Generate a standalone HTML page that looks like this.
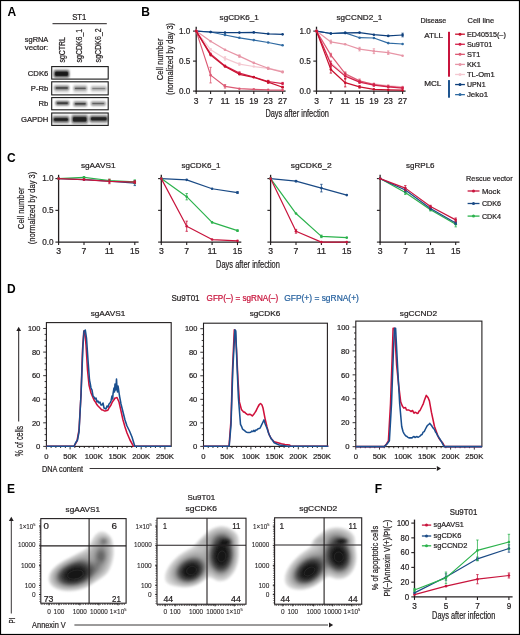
<!DOCTYPE html><html><head><meta charset="utf-8"><style>html,body{margin:0;padding:0;background:#fff;}svg{display:block;will-change:transform;}</style></head><body>
<svg width="520" height="635" viewBox="0 0 520 635" font-family='"Liberation Sans", sans-serif'>
<defs><filter id="bl1" x="-20%" y="-100%" width="140%" height="300%"><feGaussianBlur stdDeviation="0.85"/></filter><filter id="bl6" x="-30%" y="-100%" width="160%" height="300%"><feGaussianBlur stdDeviation="1.2"/></filter><filter id="bl2" x="-50%" y="-50%" width="200%" height="200%"><feGaussianBlur stdDeviation="1.6"/></filter><filter id="bl3" x="-20%" y="-20%" width="140%" height="140%"><feGaussianBlur stdDeviation="1.5"/></filter><filter id="bl4" x="-50%" y="-50%" width="200%" height="200%"><feGaussianBlur stdDeviation="2.5"/></filter><filter id="bl5" x="-10%" y="-10%" width="120%" height="120%"><feGaussianBlur stdDeviation="0.9"/></filter></defs>
<rect x="0" y="0" width="520" height="635" fill="#fff"/>
<text x="7.5" y="15.6" font-size="12" text-anchor="start" fill="#000" font-weight="bold">A</text>
<text x="141.3" y="15.6" font-size="12" text-anchor="start" fill="#000" font-weight="bold">B</text>
<text x="7.1" y="161.6" font-size="12" text-anchor="start" fill="#000" font-weight="bold">C</text>
<text x="7.0" y="293.0" font-size="12" text-anchor="start" fill="#000" font-weight="bold">D</text>
<text x="7.0" y="493.2" font-size="12" text-anchor="start" fill="#000" font-weight="bold">E</text>
<text x="374.8" y="493.0" font-size="12" text-anchor="start" fill="#000" font-weight="bold">F</text>
<text x="79.3" y="20.2" font-size="8.3" text-anchor="middle" fill="#231f20" stroke="#231f20" stroke-width="0.22" textLength="14.2" lengthAdjust="spacingAndGlyphs">ST1</text>
<line x1="52.5" y1="23.7" x2="106.8" y2="23.7" stroke="#231f20" stroke-width="1"/>
<text x="48.3" y="41.6" font-size="7.4" text-anchor="end" fill="#231f20" stroke="#231f20" stroke-width="0.22" textLength="23.5" lengthAdjust="spacingAndGlyphs">sgRNA</text>
<text x="48.3" y="50.2" font-size="7.4" text-anchor="end" fill="#231f20" stroke="#231f20" stroke-width="0.22" textLength="23.5" lengthAdjust="spacingAndGlyphs">vector:</text>
<text x="64.9" y="62.4" font-size="8.2" text-anchor="start" fill="#231f20" stroke="#231f20" stroke-width="0.22" textLength="25.2" lengthAdjust="spacingAndGlyphs" transform="rotate(-90 64.9 62.4)">sgCTRL</text>
<text x="82.4" y="62.4" font-size="8.2" text-anchor="start" fill="#231f20" stroke="#231f20" stroke-width="0.22" textLength="33.6" lengthAdjust="spacingAndGlyphs" transform="rotate(-90 82.4 62.4)">sgCDK6_1</text>
<text x="101.4" y="62.4" font-size="8.2" text-anchor="start" fill="#231f20" stroke="#231f20" stroke-width="0.22" textLength="34.2" lengthAdjust="spacingAndGlyphs" transform="rotate(-90 101.4 62.4)">sgCDK6_2</text>
<text x="48.3" y="75.55" font-size="7.7" text-anchor="end" fill="#231f20" stroke="#231f20" stroke-width="0.22">CDK6</text>
<text x="48.3" y="91.05" font-size="7.7" text-anchor="end" fill="#231f20" stroke="#231f20" stroke-width="0.22">P-Rb</text>
<text x="48.3" y="106.39999999999999" font-size="7.7" text-anchor="end" fill="#231f20" stroke="#231f20" stroke-width="0.22">Rb</text>
<text x="48.3" y="121.9" font-size="7.7" text-anchor="end" fill="#231f20" stroke="#231f20" stroke-width="0.22">GAPDH</text>
<rect x="54" y="84.5" width="15" height="8.0" fill="#000" opacity="0.16" filter="url(#bl6)"/>
<rect x="73.5" y="84.5" width="13.5" height="8.5" fill="#000" opacity="0.14" filter="url(#bl6)"/>
<rect x="91" y="85" width="15.5" height="7.5" fill="#000" opacity="0.11" filter="url(#bl6)"/>
<rect x="55" y="100.5" width="14.5" height="6.0" fill="#000" opacity="0.12" filter="url(#bl6)"/>
<rect x="73.5" y="100.5" width="13.5" height="6.5" fill="#000" opacity="0.14" filter="url(#bl6)"/>
<rect x="91" y="100.5" width="15" height="6.0" fill="#000" opacity="0.11" filter="url(#bl6)"/>
<rect x="52.5" y="115" width="17.0" height="9" fill="#000" opacity="0.2" filter="url(#bl6)"/>
<rect x="71.5" y="114" width="16.5" height="10.5" fill="#000" opacity="0.22" filter="url(#bl6)"/>
<rect x="89.5" y="114.5" width="18.5" height="9.0" fill="#000" opacity="0.2" filter="url(#bl6)"/>
<rect x="53.5" y="69" width="16.0" height="9.5" fill="#000" opacity="0.2" filter="url(#bl6)"/>
<rect x="54" y="70.69999999999999" width="15" height="6.2" rx="1.5" fill="#111" opacity="0.8" filter="url(#bl1)"/>
<rect x="55.2" y="71.8" width="12.6" height="4.0" rx="1.2" fill="#111" opacity="0.75"/>
<rect x="54.6" y="86.44999999999999" width="14.399999999999999" height="3.0999999999999996" rx="1.15" fill="#111" opacity="0.68" filter="url(#bl1)"/>
<rect x="55.800000000000004" y="87.55" width="11.999999999999998" height="0.9" rx="0.45" fill="#111" opacity="0.6375"/>
<rect x="73.7" y="86.7" width="13.200000000000003" height="3.4000000000000004" rx="1.3" fill="#111" opacity="0.44000000000000006" filter="url(#bl1)"/>
<rect x="74.9" y="87.80000000000001" width="10.800000000000002" height="1.2000000000000002" rx="0.6000000000000001" fill="#111" opacity="0.41250000000000003"/>
<rect x="91" y="87.19999999999999" width="15.5" height="2.8" rx="1.0" fill="#111" opacity="0.36000000000000004" filter="url(#bl1)"/>
<rect x="92.2" y="88.14999999999999" width="13.1" height="0.9" rx="0.45" fill="#111" opacity="0.3375"/>
<rect x="55.8" y="101.54999999999998" width="13.200000000000003" height="3.0999999999999996" rx="1.15" fill="#111" opacity="0.8" filter="url(#bl1)"/>
<rect x="57.0" y="102.64999999999999" width="10.800000000000002" height="0.9" rx="0.45" fill="#111" opacity="0.75"/>
<rect x="73.7" y="101.89999999999999" width="13.200000000000003" height="3.8" rx="1.5" fill="#111" opacity="0.544" filter="url(#bl1)"/>
<rect x="74.9" y="103.0" width="10.800000000000002" height="1.6" rx="0.8" fill="#111" opacity="0.51"/>
<rect x="91" y="102.04999999999998" width="14.400000000000006" height="3.0999999999999996" rx="1.15" fill="#111" opacity="0.48" filter="url(#bl1)"/>
<rect x="92.2" y="103.14999999999999" width="12.000000000000005" height="0.9" rx="0.45" fill="#111" opacity="0.44999999999999996"/>
<rect x="52.9" y="117.1" width="16.1" height="4.8" rx="1.5" fill="#111" opacity="0.7360000000000001" filter="url(#bl1)"/>
<rect x="54.1" y="118.2" width="13.700000000000001" height="2.6" rx="1.2" fill="#111" opacity="0.6900000000000001"/>
<rect x="71.9" y="116.1" width="15.599999999999994" height="6.3999999999999995" rx="1.5" fill="#111" opacity="0.7360000000000001" filter="url(#bl1)"/>
<rect x="73.10000000000001" y="117.2" width="13.199999999999994" height="4.199999999999999" rx="1.2" fill="#111" opacity="0.6900000000000001"/>
<rect x="89.8" y="116.19999999999999" width="17.900000000000006" height="5.2" rx="1.5" fill="#111" opacity="0.7040000000000001" filter="url(#bl1)"/>
<rect x="91.0" y="117.3" width="15.500000000000005" height="3.0000000000000004" rx="1.2" fill="#111" opacity="0.66"/>
<rect x="51.7" y="66.6" width="56.5" height="12.5" fill="none" stroke="#1a1a1a" stroke-width="1.1"/>
<rect x="51.7" y="81.8" width="56.5" height="13.100000000000009" fill="none" stroke="#1a1a1a" stroke-width="1.1"/>
<rect x="51.7" y="97.6" width="56.5" height="12.200000000000003" fill="none" stroke="#1a1a1a" stroke-width="1.1"/>
<rect x="51.7" y="113.0" width="56.5" height="12.400000000000006" fill="none" stroke="#1a1a1a" stroke-width="1.1"/>
<text x="239.25" y="20.3" font-size="8" text-anchor="middle" fill="#231f20" stroke="#231f20" stroke-width="0.22" textLength="39.3" lengthAdjust="spacingAndGlyphs">sgCDK6_1</text>
<line x1="196.2" y1="26.7" x2="196.2" y2="91.69999999999999" stroke="#231f20" stroke-width="1.3"/>
<line x1="195.6" y1="91.1" x2="285.6" y2="91.1" stroke="#231f20" stroke-width="1.3"/>
<line x1="193.0" y1="31.1" x2="196.2" y2="31.1" stroke="#231f20" stroke-width="1.1"/>
<text x="184.75" y="33.800000000000004" font-size="8.4" text-anchor="middle" fill="#231f20" stroke="#231f20" stroke-width="0.22" textLength="11.3" lengthAdjust="spacingAndGlyphs">1.0</text>
<line x1="193.0" y1="61.099999999999994" x2="196.2" y2="61.099999999999994" stroke="#231f20" stroke-width="1.1"/>
<text x="184.75" y="63.8" font-size="8.4" text-anchor="middle" fill="#231f20" stroke="#231f20" stroke-width="0.22" textLength="11.3" lengthAdjust="spacingAndGlyphs">0.5</text>
<line x1="193.0" y1="91.1" x2="196.2" y2="91.1" stroke="#231f20" stroke-width="1.1"/>
<text x="184.75" y="93.8" font-size="8.4" text-anchor="middle" fill="#231f20" stroke="#231f20" stroke-width="0.22" textLength="11.3" lengthAdjust="spacingAndGlyphs">0.0</text>
<line x1="196.2" y1="91.1" x2="196.2" y2="94.1" stroke="#231f20" stroke-width="1.1"/>
<text x="196.2" y="103.8" font-size="8.5" text-anchor="middle" fill="#231f20" stroke="#231f20" stroke-width="0.22">3</text>
<line x1="210.6" y1="91.1" x2="210.6" y2="94.1" stroke="#231f20" stroke-width="1.1"/>
<text x="210.6" y="103.8" font-size="8.5" text-anchor="middle" fill="#231f20" stroke="#231f20" stroke-width="0.22">7</text>
<line x1="225.0" y1="91.1" x2="225.0" y2="94.1" stroke="#231f20" stroke-width="1.1"/>
<text x="225.0" y="103.8" font-size="8.5" text-anchor="middle" fill="#231f20" stroke="#231f20" stroke-width="0.22" textLength="9.2" lengthAdjust="spacingAndGlyphs">11</text>
<line x1="239.39999999999998" y1="91.1" x2="239.39999999999998" y2="94.1" stroke="#231f20" stroke-width="1.1"/>
<text x="239.39999999999998" y="103.8" font-size="8.5" text-anchor="middle" fill="#231f20" stroke="#231f20" stroke-width="0.22" textLength="9.2" lengthAdjust="spacingAndGlyphs">15</text>
<line x1="253.79999999999998" y1="91.1" x2="253.79999999999998" y2="94.1" stroke="#231f20" stroke-width="1.1"/>
<text x="253.79999999999998" y="103.8" font-size="8.5" text-anchor="middle" fill="#231f20" stroke="#231f20" stroke-width="0.22" textLength="9.2" lengthAdjust="spacingAndGlyphs">19</text>
<line x1="268.2" y1="91.1" x2="268.2" y2="94.1" stroke="#231f20" stroke-width="1.1"/>
<text x="268.2" y="103.8" font-size="8.5" text-anchor="middle" fill="#231f20" stroke="#231f20" stroke-width="0.22" textLength="9.2" lengthAdjust="spacingAndGlyphs">23</text>
<line x1="282.6" y1="91.1" x2="282.6" y2="94.1" stroke="#231f20" stroke-width="1.1"/>
<text x="282.6" y="103.8" font-size="8.5" text-anchor="middle" fill="#231f20" stroke="#231f20" stroke-width="0.22" textLength="9.2" lengthAdjust="spacingAndGlyphs">27</text>
<polyline points="196.20,31.10 210.60,32.00 225.00,35.00 239.40,37.82 253.80,40.10 268.20,42.50 282.60,45.32" fill="none" stroke="#2f6aa2" stroke-width="1.2" stroke-linejoin="round"/>
<circle cx="196.20" cy="31.10" r="1.3" fill="#2f6aa2"/>
<circle cx="210.60" cy="32.00" r="1.3" fill="#2f6aa2"/>
<circle cx="225.00" cy="35.00" r="1.3" fill="#2f6aa2"/>
<circle cx="239.40" cy="37.82" r="1.3" fill="#2f6aa2"/>
<circle cx="253.80" cy="40.10" r="1.3" fill="#2f6aa2"/>
<circle cx="268.20" cy="42.50" r="1.3" fill="#2f6aa2"/>
<circle cx="282.60" cy="45.32" r="1.3" fill="#2f6aa2"/>
<polyline points="196.20,31.10 210.60,32.00 225.00,32.60 239.40,32.60 253.80,32.42 268.20,33.80 282.60,34.34" fill="none" stroke="#0e3f7c" stroke-width="1.2" stroke-linejoin="round"/>
<circle cx="196.20" cy="31.10" r="1.3" fill="#0e3f7c"/>
<circle cx="210.60" cy="32.00" r="1.3" fill="#0e3f7c"/>
<circle cx="225.00" cy="32.60" r="1.3" fill="#0e3f7c"/>
<circle cx="239.40" cy="32.60" r="1.3" fill="#0e3f7c"/>
<circle cx="253.80" cy="32.42" r="1.3" fill="#0e3f7c"/>
<circle cx="268.20" cy="33.80" r="1.3" fill="#0e3f7c"/>
<circle cx="282.60" cy="34.34" r="1.3" fill="#0e3f7c"/>
<line x1="210.6" y1="48.5" x2="210.6" y2="50.900000000000006" stroke="#f4c8d1" stroke-width="0.8"/>
<line x1="209.4" y1="48.5" x2="211.79999999999998" y2="48.5" stroke="#f4c8d1" stroke-width="0.8"/>
<line x1="209.4" y1="50.900000000000006" x2="211.79999999999998" y2="50.900000000000006" stroke="#f4c8d1" stroke-width="0.8"/>
<line x1="225.0" y1="56.6" x2="225.0" y2="60.199999999999996" stroke="#f4c8d1" stroke-width="0.8"/>
<line x1="223.8" y1="56.6" x2="226.2" y2="56.6" stroke="#f4c8d1" stroke-width="0.8"/>
<line x1="223.8" y1="60.199999999999996" x2="226.2" y2="60.199999999999996" stroke="#f4c8d1" stroke-width="0.8"/>
<line x1="239.39999999999998" y1="62.89999999999999" x2="239.39999999999998" y2="65.3" stroke="#f4c8d1" stroke-width="0.8"/>
<line x1="238.2" y1="62.89999999999999" x2="240.59999999999997" y2="62.89999999999999" stroke="#f4c8d1" stroke-width="0.8"/>
<line x1="238.2" y1="65.3" x2="240.59999999999997" y2="65.3" stroke="#f4c8d1" stroke-width="0.8"/>
<line x1="268.2" y1="67.7" x2="268.2" y2="68.89999999999999" stroke="#f4c8d1" stroke-width="0.8"/>
<line x1="267.0" y1="67.7" x2="269.4" y2="67.7" stroke="#f4c8d1" stroke-width="0.8"/>
<line x1="267.0" y1="68.89999999999999" x2="269.4" y2="68.89999999999999" stroke="#f4c8d1" stroke-width="0.8"/>
<polyline points="196.20,31.10 210.60,49.70 225.00,58.40 239.40,64.10 253.80,66.50 268.20,68.30 282.60,71.30" fill="none" stroke="#f4c8d1" stroke-width="1.2" stroke-linejoin="round"/>
<circle cx="196.20" cy="31.10" r="1.3" fill="#f4c8d1"/>
<circle cx="210.60" cy="49.70" r="1.3" fill="#f4c8d1"/>
<circle cx="225.00" cy="58.40" r="1.3" fill="#f4c8d1"/>
<circle cx="239.40" cy="64.10" r="1.3" fill="#f4c8d1"/>
<circle cx="253.80" cy="66.50" r="1.3" fill="#f4c8d1"/>
<circle cx="268.20" cy="68.30" r="1.3" fill="#f4c8d1"/>
<circle cx="282.60" cy="71.30" r="1.3" fill="#f4c8d1"/>
<line x1="239.39999999999998" y1="54.919999999999995" x2="239.39999999999998" y2="57.32" stroke="#e795a6" stroke-width="0.8"/>
<line x1="238.2" y1="54.919999999999995" x2="240.59999999999997" y2="54.919999999999995" stroke="#e795a6" stroke-width="0.8"/>
<line x1="238.2" y1="57.32" x2="240.59999999999997" y2="57.32" stroke="#e795a6" stroke-width="0.8"/>
<line x1="268.2" y1="67.1" x2="268.2" y2="69.5" stroke="#e795a6" stroke-width="0.8"/>
<line x1="267.0" y1="67.1" x2="269.4" y2="67.1" stroke="#e795a6" stroke-width="0.8"/>
<line x1="267.0" y1="69.5" x2="269.4" y2="69.5" stroke="#e795a6" stroke-width="0.8"/>
<line x1="282.6" y1="71.48" x2="282.6" y2="72.67999999999999" stroke="#e795a6" stroke-width="0.8"/>
<line x1="281.40000000000003" y1="71.48" x2="283.8" y2="71.48" stroke="#e795a6" stroke-width="0.8"/>
<line x1="281.40000000000003" y1="72.67999999999999" x2="283.8" y2="72.67999999999999" stroke="#e795a6" stroke-width="0.8"/>
<polyline points="196.20,31.10 210.60,41.30 225.00,49.70 239.40,56.12 253.80,62.90 268.20,68.30 282.60,72.08" fill="none" stroke="#e795a6" stroke-width="1.2" stroke-linejoin="round"/>
<circle cx="196.20" cy="31.10" r="1.3" fill="#e795a6"/>
<circle cx="210.60" cy="41.30" r="1.3" fill="#e795a6"/>
<circle cx="225.00" cy="49.70" r="1.3" fill="#e795a6"/>
<circle cx="239.40" cy="56.12" r="1.3" fill="#e795a6"/>
<circle cx="253.80" cy="62.90" r="1.3" fill="#e795a6"/>
<circle cx="268.20" cy="68.30" r="1.3" fill="#e795a6"/>
<circle cx="282.60" cy="72.08" r="1.3" fill="#e795a6"/>
<line x1="210.6" y1="67.34" x2="210.6" y2="82.94" stroke="#dc5a74" stroke-width="0.8"/>
<line x1="209.4" y1="67.34" x2="211.79999999999998" y2="67.34" stroke="#dc5a74" stroke-width="0.8"/>
<line x1="209.4" y1="82.94" x2="211.79999999999998" y2="82.94" stroke="#dc5a74" stroke-width="0.8"/>
<line x1="225.0" y1="84.5" x2="225.0" y2="88.1" stroke="#dc5a74" stroke-width="0.8"/>
<line x1="223.8" y1="84.5" x2="226.2" y2="84.5" stroke="#dc5a74" stroke-width="0.8"/>
<line x1="223.8" y1="88.1" x2="226.2" y2="88.1" stroke="#dc5a74" stroke-width="0.8"/>
<polyline points="196.20,31.10 210.60,75.14 225.00,86.30 239.40,88.70 253.80,89.30 268.20,89.90 282.60,90.14" fill="none" stroke="#dc5a74" stroke-width="1.2" stroke-linejoin="round"/>
<circle cx="196.20" cy="31.10" r="1.3" fill="#dc5a74"/>
<circle cx="210.60" cy="75.14" r="1.3" fill="#dc5a74"/>
<circle cx="225.00" cy="86.30" r="1.3" fill="#dc5a74"/>
<circle cx="239.40" cy="88.70" r="1.3" fill="#dc5a74"/>
<circle cx="253.80" cy="89.30" r="1.3" fill="#dc5a74"/>
<circle cx="268.20" cy="89.90" r="1.3" fill="#dc5a74"/>
<circle cx="282.60" cy="90.14" r="1.3" fill="#dc5a74"/>
<line x1="239.39999999999998" y1="71.89999999999999" x2="239.39999999999998" y2="74.3" stroke="#d21f48" stroke-width="0.8"/>
<line x1="238.2" y1="71.89999999999999" x2="240.59999999999997" y2="71.89999999999999" stroke="#d21f48" stroke-width="0.8"/>
<line x1="238.2" y1="74.3" x2="240.59999999999997" y2="74.3" stroke="#d21f48" stroke-width="0.8"/>
<line x1="268.2" y1="80.3" x2="268.2" y2="82.7" stroke="#d21f48" stroke-width="0.8"/>
<line x1="267.0" y1="80.3" x2="269.4" y2="80.3" stroke="#d21f48" stroke-width="0.8"/>
<line x1="267.0" y1="82.7" x2="269.4" y2="82.7" stroke="#d21f48" stroke-width="0.8"/>
<line x1="282.6" y1="82.39999999999999" x2="282.6" y2="84.8" stroke="#d21f48" stroke-width="0.8"/>
<line x1="281.40000000000003" y1="82.39999999999999" x2="283.8" y2="82.39999999999999" stroke="#d21f48" stroke-width="0.8"/>
<line x1="281.40000000000003" y1="84.8" x2="283.8" y2="84.8" stroke="#d21f48" stroke-width="0.8"/>
<polyline points="196.20,31.10 210.60,53.90 225.00,65.90 239.40,73.10 253.80,77.00 268.20,81.50 282.60,83.60" fill="none" stroke="#d21f48" stroke-width="1.2" stroke-linejoin="round"/>
<circle cx="196.20" cy="31.10" r="1.3" fill="#d21f48"/>
<circle cx="210.60" cy="53.90" r="1.3" fill="#d21f48"/>
<circle cx="225.00" cy="65.90" r="1.3" fill="#d21f48"/>
<circle cx="239.40" cy="73.10" r="1.3" fill="#d21f48"/>
<circle cx="253.80" cy="77.00" r="1.3" fill="#d21f48"/>
<circle cx="268.20" cy="81.50" r="1.3" fill="#d21f48"/>
<circle cx="282.60" cy="83.60" r="1.3" fill="#d21f48"/>
<line x1="268.2" y1="80.89999999999999" x2="268.2" y2="83.3" stroke="#c8102e" stroke-width="0.8"/>
<line x1="267.0" y1="80.89999999999999" x2="269.4" y2="80.89999999999999" stroke="#c8102e" stroke-width="0.8"/>
<line x1="267.0" y1="83.3" x2="269.4" y2="83.3" stroke="#c8102e" stroke-width="0.8"/>
<line x1="282.6" y1="86.6" x2="282.6" y2="87.79999999999998" stroke="#c8102e" stroke-width="0.8"/>
<line x1="281.40000000000003" y1="86.6" x2="283.8" y2="86.6" stroke="#c8102e" stroke-width="0.8"/>
<line x1="281.40000000000003" y1="87.79999999999998" x2="283.8" y2="87.79999999999998" stroke="#c8102e" stroke-width="0.8"/>
<polyline points="196.20,31.10 210.60,55.10 225.00,66.50 239.40,74.30 253.80,77.30 268.20,82.10 282.60,87.20" fill="none" stroke="#c8102e" stroke-width="1.2" stroke-linejoin="round"/>
<circle cx="196.20" cy="31.10" r="1.3" fill="#c8102e"/>
<circle cx="210.60" cy="55.10" r="1.3" fill="#c8102e"/>
<circle cx="225.00" cy="66.50" r="1.3" fill="#c8102e"/>
<circle cx="239.40" cy="74.30" r="1.3" fill="#c8102e"/>
<circle cx="253.80" cy="77.30" r="1.3" fill="#c8102e"/>
<circle cx="268.20" cy="82.10" r="1.3" fill="#c8102e"/>
<circle cx="282.60" cy="87.20" r="1.3" fill="#c8102e"/>
<text x="359.4" y="20.3" font-size="8" text-anchor="middle" fill="#231f20" stroke="#231f20" stroke-width="0.22" textLength="45.8" lengthAdjust="spacingAndGlyphs">sgCCND2_1</text>
<line x1="316.5" y1="26.7" x2="316.5" y2="91.69999999999999" stroke="#231f20" stroke-width="1.3"/>
<line x1="315.9" y1="91.1" x2="405.6" y2="91.1" stroke="#231f20" stroke-width="1.3"/>
<line x1="313.3" y1="31.1" x2="316.5" y2="31.1" stroke="#231f20" stroke-width="1.1"/>
<text x="305.05" y="33.800000000000004" font-size="8.4" text-anchor="middle" fill="#231f20" stroke="#231f20" stroke-width="0.22" textLength="11.3" lengthAdjust="spacingAndGlyphs">1.0</text>
<line x1="313.3" y1="61.099999999999994" x2="316.5" y2="61.099999999999994" stroke="#231f20" stroke-width="1.1"/>
<text x="305.05" y="63.8" font-size="8.4" text-anchor="middle" fill="#231f20" stroke="#231f20" stroke-width="0.22" textLength="11.3" lengthAdjust="spacingAndGlyphs">0.5</text>
<line x1="313.3" y1="91.1" x2="316.5" y2="91.1" stroke="#231f20" stroke-width="1.1"/>
<text x="305.05" y="93.8" font-size="8.4" text-anchor="middle" fill="#231f20" stroke="#231f20" stroke-width="0.22" textLength="11.3" lengthAdjust="spacingAndGlyphs">0.0</text>
<line x1="316.5" y1="91.1" x2="316.5" y2="94.1" stroke="#231f20" stroke-width="1.1"/>
<text x="316.5" y="103.8" font-size="8.5" text-anchor="middle" fill="#231f20" stroke="#231f20" stroke-width="0.22">3</text>
<line x1="330.85" y1="91.1" x2="330.85" y2="94.1" stroke="#231f20" stroke-width="1.1"/>
<text x="330.85" y="103.8" font-size="8.5" text-anchor="middle" fill="#231f20" stroke="#231f20" stroke-width="0.22">7</text>
<line x1="345.2" y1="91.1" x2="345.2" y2="94.1" stroke="#231f20" stroke-width="1.1"/>
<text x="345.2" y="103.8" font-size="8.5" text-anchor="middle" fill="#231f20" stroke="#231f20" stroke-width="0.22" textLength="9.2" lengthAdjust="spacingAndGlyphs">11</text>
<line x1="359.55" y1="91.1" x2="359.55" y2="94.1" stroke="#231f20" stroke-width="1.1"/>
<text x="359.55" y="103.8" font-size="8.5" text-anchor="middle" fill="#231f20" stroke="#231f20" stroke-width="0.22" textLength="9.2" lengthAdjust="spacingAndGlyphs">15</text>
<line x1="373.9" y1="91.1" x2="373.9" y2="94.1" stroke="#231f20" stroke-width="1.1"/>
<text x="373.9" y="103.8" font-size="8.5" text-anchor="middle" fill="#231f20" stroke="#231f20" stroke-width="0.22" textLength="9.2" lengthAdjust="spacingAndGlyphs">19</text>
<line x1="388.25" y1="91.1" x2="388.25" y2="94.1" stroke="#231f20" stroke-width="1.1"/>
<text x="388.25" y="103.8" font-size="8.5" text-anchor="middle" fill="#231f20" stroke="#231f20" stroke-width="0.22" textLength="9.2" lengthAdjust="spacingAndGlyphs">23</text>
<line x1="402.6" y1="91.1" x2="402.6" y2="94.1" stroke="#231f20" stroke-width="1.1"/>
<text x="402.6" y="103.8" font-size="8.5" text-anchor="middle" fill="#231f20" stroke="#231f20" stroke-width="0.22" textLength="9.2" lengthAdjust="spacingAndGlyphs">27</text>
<polyline points="316.50,31.10 330.85,33.50 345.20,32.90 359.55,37.70 373.90,38.00 388.25,43.10 402.60,44.00" fill="none" stroke="#2f6aa2" stroke-width="1.2" stroke-linejoin="round"/>
<circle cx="316.50" cy="31.10" r="1.3" fill="#2f6aa2"/>
<circle cx="330.85" cy="33.50" r="1.3" fill="#2f6aa2"/>
<circle cx="345.20" cy="32.90" r="1.3" fill="#2f6aa2"/>
<circle cx="359.55" cy="37.70" r="1.3" fill="#2f6aa2"/>
<circle cx="373.90" cy="38.00" r="1.3" fill="#2f6aa2"/>
<circle cx="388.25" cy="43.10" r="1.3" fill="#2f6aa2"/>
<circle cx="402.60" cy="44.00" r="1.3" fill="#2f6aa2"/>
<line x1="402.6" y1="33.2" x2="402.6" y2="36.8" stroke="#0e3f7c" stroke-width="0.8"/>
<line x1="401.40000000000003" y1="33.2" x2="403.8" y2="33.2" stroke="#0e3f7c" stroke-width="0.8"/>
<line x1="401.40000000000003" y1="36.8" x2="403.8" y2="36.8" stroke="#0e3f7c" stroke-width="0.8"/>
<polyline points="316.50,31.10 330.85,33.50 345.20,32.90 359.55,32.60 373.90,34.70 388.25,35.90 402.60,35.00" fill="none" stroke="#0e3f7c" stroke-width="1.2" stroke-linejoin="round"/>
<circle cx="316.50" cy="31.10" r="1.3" fill="#0e3f7c"/>
<circle cx="330.85" cy="33.50" r="1.3" fill="#0e3f7c"/>
<circle cx="345.20" cy="32.90" r="1.3" fill="#0e3f7c"/>
<circle cx="359.55" cy="32.60" r="1.3" fill="#0e3f7c"/>
<circle cx="373.90" cy="34.70" r="1.3" fill="#0e3f7c"/>
<circle cx="388.25" cy="35.90" r="1.3" fill="#0e3f7c"/>
<circle cx="402.60" cy="35.00" r="1.3" fill="#0e3f7c"/>
<line x1="330.85" y1="40.10000000000001" x2="330.85" y2="43.7" stroke="#e795a6" stroke-width="0.8"/>
<line x1="329.65000000000003" y1="40.10000000000001" x2="332.05" y2="40.10000000000001" stroke="#e795a6" stroke-width="0.8"/>
<line x1="329.65000000000003" y1="43.7" x2="332.05" y2="43.7" stroke="#e795a6" stroke-width="0.8"/>
<line x1="359.55" y1="47.300000000000004" x2="359.55" y2="50.9" stroke="#e795a6" stroke-width="0.8"/>
<line x1="358.35" y1="47.300000000000004" x2="360.75" y2="47.300000000000004" stroke="#e795a6" stroke-width="0.8"/>
<line x1="358.35" y1="50.9" x2="360.75" y2="50.9" stroke="#e795a6" stroke-width="0.8"/>
<line x1="373.9" y1="48.8" x2="373.9" y2="53.599999999999994" stroke="#e795a6" stroke-width="0.8"/>
<line x1="372.7" y1="48.8" x2="375.09999999999997" y2="48.8" stroke="#e795a6" stroke-width="0.8"/>
<line x1="372.7" y1="53.599999999999994" x2="375.09999999999997" y2="53.599999999999994" stroke="#e795a6" stroke-width="0.8"/>
<line x1="388.25" y1="50.9" x2="388.25" y2="54.49999999999999" stroke="#e795a6" stroke-width="0.8"/>
<line x1="387.05" y1="50.9" x2="389.45" y2="50.9" stroke="#e795a6" stroke-width="0.8"/>
<line x1="387.05" y1="54.49999999999999" x2="389.45" y2="54.49999999999999" stroke="#e795a6" stroke-width="0.8"/>
<polyline points="316.50,31.10 330.85,41.90 345.20,44.30 359.55,49.10 373.90,51.20 388.25,52.70 402.60,55.70" fill="none" stroke="#e795a6" stroke-width="1.2" stroke-linejoin="round"/>
<circle cx="316.50" cy="31.10" r="1.3" fill="#e795a6"/>
<circle cx="330.85" cy="41.90" r="1.3" fill="#e795a6"/>
<circle cx="345.20" cy="44.30" r="1.3" fill="#e795a6"/>
<circle cx="359.55" cy="49.10" r="1.3" fill="#e795a6"/>
<circle cx="373.90" cy="51.20" r="1.3" fill="#e795a6"/>
<circle cx="388.25" cy="52.70" r="1.3" fill="#e795a6"/>
<circle cx="402.60" cy="55.70" r="1.3" fill="#e795a6"/>
<line x1="345.2" y1="73.1" x2="345.2" y2="76.69999999999999" stroke="#f4c8d1" stroke-width="0.8"/>
<line x1="344.0" y1="73.1" x2="346.4" y2="73.1" stroke="#f4c8d1" stroke-width="0.8"/>
<line x1="344.0" y1="76.69999999999999" x2="346.4" y2="76.69999999999999" stroke="#f4c8d1" stroke-width="0.8"/>
<line x1="359.55" y1="80.3" x2="359.55" y2="82.7" stroke="#f4c8d1" stroke-width="0.8"/>
<line x1="358.35" y1="80.3" x2="360.75" y2="80.3" stroke="#f4c8d1" stroke-width="0.8"/>
<line x1="358.35" y1="82.7" x2="360.75" y2="82.7" stroke="#f4c8d1" stroke-width="0.8"/>
<polyline points="316.50,31.10 330.85,62.90 345.20,74.90 359.55,81.50 373.90,83.90 388.25,85.70 402.60,86.90" fill="none" stroke="#f4c8d1" stroke-width="1.2" stroke-linejoin="round"/>
<circle cx="316.50" cy="31.10" r="1.3" fill="#f4c8d1"/>
<circle cx="330.85" cy="62.90" r="1.3" fill="#f4c8d1"/>
<circle cx="345.20" cy="74.90" r="1.3" fill="#f4c8d1"/>
<circle cx="359.55" cy="81.50" r="1.3" fill="#f4c8d1"/>
<circle cx="373.90" cy="83.90" r="1.3" fill="#f4c8d1"/>
<circle cx="388.25" cy="85.70" r="1.3" fill="#f4c8d1"/>
<circle cx="402.60" cy="86.90" r="1.3" fill="#f4c8d1"/>
<line x1="330.85" y1="53.300000000000004" x2="330.85" y2="56.9" stroke="#dc5a74" stroke-width="0.8"/>
<line x1="329.65000000000003" y1="53.300000000000004" x2="332.05" y2="53.300000000000004" stroke="#dc5a74" stroke-width="0.8"/>
<line x1="329.65000000000003" y1="56.9" x2="332.05" y2="56.9" stroke="#dc5a74" stroke-width="0.8"/>
<line x1="345.2" y1="71.9" x2="345.2" y2="75.5" stroke="#dc5a74" stroke-width="0.8"/>
<line x1="344.0" y1="71.9" x2="346.4" y2="71.9" stroke="#dc5a74" stroke-width="0.8"/>
<line x1="344.0" y1="75.5" x2="346.4" y2="75.5" stroke="#dc5a74" stroke-width="0.8"/>
<line x1="359.55" y1="79.1" x2="359.55" y2="82.69999999999999" stroke="#dc5a74" stroke-width="0.8"/>
<line x1="358.35" y1="79.1" x2="360.75" y2="79.1" stroke="#dc5a74" stroke-width="0.8"/>
<line x1="358.35" y1="82.69999999999999" x2="360.75" y2="82.69999999999999" stroke="#dc5a74" stroke-width="0.8"/>
<line x1="373.9" y1="83.3" x2="373.9" y2="85.7" stroke="#dc5a74" stroke-width="0.8"/>
<line x1="372.7" y1="83.3" x2="375.09999999999997" y2="83.3" stroke="#dc5a74" stroke-width="0.8"/>
<line x1="372.7" y1="85.7" x2="375.09999999999997" y2="85.7" stroke="#dc5a74" stroke-width="0.8"/>
<line x1="388.25" y1="85.1" x2="388.25" y2="87.5" stroke="#dc5a74" stroke-width="0.8"/>
<line x1="387.05" y1="85.1" x2="389.45" y2="85.1" stroke="#dc5a74" stroke-width="0.8"/>
<line x1="387.05" y1="87.5" x2="389.45" y2="87.5" stroke="#dc5a74" stroke-width="0.8"/>
<line x1="402.6" y1="86.9" x2="402.6" y2="88.1" stroke="#dc5a74" stroke-width="0.8"/>
<line x1="401.40000000000003" y1="86.9" x2="403.8" y2="86.9" stroke="#dc5a74" stroke-width="0.8"/>
<line x1="401.40000000000003" y1="88.1" x2="403.8" y2="88.1" stroke="#dc5a74" stroke-width="0.8"/>
<polyline points="316.50,31.10 330.85,55.10 345.20,73.70 359.55,80.90 373.90,84.50 388.25,86.30 402.60,87.50" fill="none" stroke="#dc5a74" stroke-width="1.2" stroke-linejoin="round"/>
<circle cx="316.50" cy="31.10" r="1.3" fill="#dc5a74"/>
<circle cx="330.85" cy="55.10" r="1.3" fill="#dc5a74"/>
<circle cx="345.20" cy="73.70" r="1.3" fill="#dc5a74"/>
<circle cx="359.55" cy="80.90" r="1.3" fill="#dc5a74"/>
<circle cx="373.90" cy="84.50" r="1.3" fill="#dc5a74"/>
<circle cx="388.25" cy="86.30" r="1.3" fill="#dc5a74"/>
<circle cx="402.60" cy="87.50" r="1.3" fill="#dc5a74"/>
<line x1="330.85" y1="61.099999999999994" x2="330.85" y2="67.1" stroke="#d21f48" stroke-width="0.8"/>
<line x1="329.65000000000003" y1="61.099999999999994" x2="332.05" y2="61.099999999999994" stroke="#d21f48" stroke-width="0.8"/>
<line x1="329.65000000000003" y1="67.1" x2="332.05" y2="67.1" stroke="#d21f48" stroke-width="0.8"/>
<line x1="345.2" y1="73.1" x2="345.2" y2="79.1" stroke="#d21f48" stroke-width="0.8"/>
<line x1="344.0" y1="73.1" x2="346.4" y2="73.1" stroke="#d21f48" stroke-width="0.8"/>
<line x1="344.0" y1="79.1" x2="346.4" y2="79.1" stroke="#d21f48" stroke-width="0.8"/>
<line x1="359.55" y1="80.89999999999999" x2="359.55" y2="83.3" stroke="#d21f48" stroke-width="0.8"/>
<line x1="358.35" y1="80.89999999999999" x2="360.75" y2="80.89999999999999" stroke="#d21f48" stroke-width="0.8"/>
<line x1="358.35" y1="83.3" x2="360.75" y2="83.3" stroke="#d21f48" stroke-width="0.8"/>
<line x1="373.9" y1="83.89999999999999" x2="373.9" y2="86.3" stroke="#d21f48" stroke-width="0.8"/>
<line x1="372.7" y1="83.89999999999999" x2="375.09999999999997" y2="83.89999999999999" stroke="#d21f48" stroke-width="0.8"/>
<line x1="372.7" y1="86.3" x2="375.09999999999997" y2="86.3" stroke="#d21f48" stroke-width="0.8"/>
<polyline points="316.50,31.10 330.85,64.10 345.20,76.10 359.55,82.10 373.90,85.10 388.25,86.90 402.60,88.10" fill="none" stroke="#d21f48" stroke-width="1.2" stroke-linejoin="round"/>
<circle cx="316.50" cy="31.10" r="1.3" fill="#d21f48"/>
<circle cx="330.85" cy="64.10" r="1.3" fill="#d21f48"/>
<circle cx="345.20" cy="76.10" r="1.3" fill="#d21f48"/>
<circle cx="359.55" cy="82.10" r="1.3" fill="#d21f48"/>
<circle cx="373.90" cy="85.10" r="1.3" fill="#d21f48"/>
<circle cx="388.25" cy="86.90" r="1.3" fill="#d21f48"/>
<circle cx="402.60" cy="88.10" r="1.3" fill="#d21f48"/>
<line x1="330.85" y1="65.9" x2="330.85" y2="73.1" stroke="#c8102e" stroke-width="0.8"/>
<line x1="329.65000000000003" y1="65.9" x2="332.05" y2="65.9" stroke="#c8102e" stroke-width="0.8"/>
<line x1="329.65000000000003" y1="73.1" x2="332.05" y2="73.1" stroke="#c8102e" stroke-width="0.8"/>
<line x1="345.2" y1="78.49999999999999" x2="345.2" y2="86.89999999999999" stroke="#c8102e" stroke-width="0.8"/>
<line x1="344.0" y1="78.49999999999999" x2="346.4" y2="78.49999999999999" stroke="#c8102e" stroke-width="0.8"/>
<line x1="344.0" y1="86.89999999999999" x2="346.4" y2="86.89999999999999" stroke="#c8102e" stroke-width="0.8"/>
<line x1="359.55" y1="85.69999999999999" x2="359.55" y2="88.1" stroke="#c8102e" stroke-width="0.8"/>
<line x1="358.35" y1="85.69999999999999" x2="360.75" y2="85.69999999999999" stroke="#c8102e" stroke-width="0.8"/>
<line x1="358.35" y1="88.1" x2="360.75" y2="88.1" stroke="#c8102e" stroke-width="0.8"/>
<polyline points="316.50,31.10 330.85,69.50 345.20,82.70 359.55,86.90 373.90,89.30 388.25,89.90 402.60,90.20" fill="none" stroke="#c8102e" stroke-width="1.2" stroke-linejoin="round"/>
<circle cx="316.50" cy="31.10" r="1.3" fill="#c8102e"/>
<circle cx="330.85" cy="69.50" r="1.3" fill="#c8102e"/>
<circle cx="345.20" cy="82.70" r="1.3" fill="#c8102e"/>
<circle cx="359.55" cy="86.90" r="1.3" fill="#c8102e"/>
<circle cx="373.90" cy="89.30" r="1.3" fill="#c8102e"/>
<circle cx="388.25" cy="89.90" r="1.3" fill="#c8102e"/>
<circle cx="402.60" cy="90.20" r="1.3" fill="#c8102e"/>
<text x="162.6" y="59.4" font-size="9.9" text-anchor="middle" fill="#231f20" stroke="#231f20" stroke-width="0.22" textLength="41.8" lengthAdjust="spacingAndGlyphs" transform="rotate(-90 162.6 59.4)">Cell number</text>
<text x="173.2" y="59" font-size="9.7" text-anchor="middle" fill="#231f20" stroke="#231f20" stroke-width="0.22" textLength="72.2" lengthAdjust="spacingAndGlyphs" transform="rotate(-90 173.2 59)">(normalized by day 3)</text>
<text x="297.15" y="117.3" font-size="10" text-anchor="middle" fill="#231f20" stroke="#231f20" stroke-width="0.22" textLength="63.5" lengthAdjust="spacingAndGlyphs">Days after infection</text>
<text x="433.3" y="23.2" font-size="7.4" text-anchor="middle" fill="#231f20" stroke="#231f20" stroke-width="0.22" textLength="25.8" lengthAdjust="spacingAndGlyphs">Disease</text>
<text x="480.85" y="23.2" font-size="7.4" text-anchor="middle" fill="#231f20" stroke="#231f20" stroke-width="0.22" textLength="26.7" lengthAdjust="spacingAndGlyphs">Cell line</text>
<text x="433.55" y="37.5" font-size="7.4" text-anchor="middle" fill="#231f20" stroke="#231f20" stroke-width="0.22" textLength="18.7" lengthAdjust="spacingAndGlyphs">ATLL</text>
<text x="432.8" y="86.1" font-size="7.4" text-anchor="middle" fill="#231f20" stroke="#231f20" stroke-width="0.22" textLength="17.2" lengthAdjust="spacingAndGlyphs">MCL</text>
<rect x="448" y="31.8" width="2" height="44.9" fill="#c8143c"/>
<rect x="448" y="80.1" width="2" height="17.6" fill="#1f5590"/>
<line x1="455.1" y1="34.2" x2="464.9" y2="34.2" stroke="#c8102e" stroke-width="1.3"/>
<circle cx="460.00" cy="34.20" r="1.5" fill="#c8102e"/>
<text x="486.35" y="36.5" font-size="7.2" text-anchor="middle" fill="#231f20" stroke="#231f20" stroke-width="0.22" textLength="38.9" lengthAdjust="spacingAndGlyphs">ED40515(–)</text>
<line x1="455.1" y1="44.27" x2="464.9" y2="44.27" stroke="#d21f48" stroke-width="1.3"/>
<circle cx="460.00" cy="44.27" r="1.5" fill="#d21f48"/>
<text x="479.6" y="46.57" font-size="7.2" text-anchor="middle" fill="#231f20" stroke="#231f20" stroke-width="0.22" textLength="25.4" lengthAdjust="spacingAndGlyphs">Su9T01</text>
<line x1="455.1" y1="54.34" x2="464.9" y2="54.34" stroke="#dc5a74" stroke-width="1.3"/>
<circle cx="460.00" cy="54.34" r="1.5" fill="#dc5a74"/>
<text x="473.65" y="56.64" font-size="7.2" text-anchor="middle" fill="#231f20" stroke="#231f20" stroke-width="0.22" textLength="13.5" lengthAdjust="spacingAndGlyphs">ST1</text>
<line x1="455.1" y1="64.41000000000001" x2="464.9" y2="64.41000000000001" stroke="#e795a6" stroke-width="1.3"/>
<circle cx="460.00" cy="64.41" r="1.5" fill="#e795a6"/>
<text x="473.85" y="66.71000000000001" font-size="7.2" text-anchor="middle" fill="#231f20" stroke="#231f20" stroke-width="0.22" textLength="13.9" lengthAdjust="spacingAndGlyphs">KK1</text>
<line x1="455.1" y1="74.48" x2="464.9" y2="74.48" stroke="#f4c8d1" stroke-width="1.3"/>
<circle cx="460.00" cy="74.48" r="1.5" fill="#f4c8d1"/>
<text x="480.75" y="76.78" font-size="7.2" text-anchor="middle" fill="#231f20" stroke="#231f20" stroke-width="0.22" textLength="27.7" lengthAdjust="spacingAndGlyphs">TL-Om1</text>
<line x1="455.1" y1="84.55" x2="464.9" y2="84.55" stroke="#0e3f7c" stroke-width="1.3"/>
<circle cx="460.00" cy="84.55" r="1.5" fill="#0e3f7c"/>
<text x="476.25" y="86.85" font-size="7.2" text-anchor="middle" fill="#231f20" stroke="#231f20" stroke-width="0.22" textLength="18.7" lengthAdjust="spacingAndGlyphs">UPN1</text>
<line x1="455.1" y1="94.62" x2="464.9" y2="94.62" stroke="#2f6aa2" stroke-width="1.3"/>
<circle cx="460.00" cy="94.62" r="1.5" fill="#2f6aa2"/>
<text x="477.5" y="96.92" font-size="7.2" text-anchor="middle" fill="#231f20" stroke="#231f20" stroke-width="0.22" textLength="21.2" lengthAdjust="spacingAndGlyphs">Jeko1</text>
<text x="98.2" y="168.3" font-size="8" text-anchor="middle" fill="#231f20" stroke="#231f20" stroke-width="0.22" textLength="34.599999999999994" lengthAdjust="spacingAndGlyphs">sgAAVS1</text>
<line x1="58.6" y1="174.8" x2="58.6" y2="242.7" stroke="#231f20" stroke-width="1.3"/>
<line x1="58.0" y1="242.1" x2="138.6" y2="242.1" stroke="#231f20" stroke-width="1.3"/>
<line x1="55.4" y1="178.6" x2="58.6" y2="178.6" stroke="#231f20" stroke-width="1.1"/>
<text x="47.900000000000006" y="181.4" font-size="8.4" text-anchor="middle" fill="#231f20" stroke="#231f20" stroke-width="0.22" textLength="11.4" lengthAdjust="spacingAndGlyphs">1.0</text>
<line x1="55.4" y1="210.35" x2="58.6" y2="210.35" stroke="#231f20" stroke-width="1.1"/>
<text x="47.900000000000006" y="213.15" font-size="8.4" text-anchor="middle" fill="#231f20" stroke="#231f20" stroke-width="0.22" textLength="11.4" lengthAdjust="spacingAndGlyphs">0.5</text>
<line x1="55.4" y1="242.1" x2="58.6" y2="242.1" stroke="#231f20" stroke-width="1.1"/>
<text x="47.900000000000006" y="244.9" font-size="8.4" text-anchor="middle" fill="#231f20" stroke="#231f20" stroke-width="0.22" textLength="11.4" lengthAdjust="spacingAndGlyphs">0.0</text>
<line x1="58.6" y1="242.1" x2="58.6" y2="245.1" stroke="#231f20" stroke-width="1.1"/>
<text x="58.6" y="254.3" font-size="8.7" text-anchor="middle" fill="#231f20" stroke="#231f20" stroke-width="0.22">3</text>
<line x1="84.0" y1="242.1" x2="84.0" y2="245.1" stroke="#231f20" stroke-width="1.1"/>
<text x="84.0" y="254.3" font-size="8.7" text-anchor="middle" fill="#231f20" stroke="#231f20" stroke-width="0.22">7</text>
<line x1="109.4" y1="242.1" x2="109.4" y2="245.1" stroke="#231f20" stroke-width="1.1"/>
<text x="109.4" y="254.3" font-size="8.7" text-anchor="middle" fill="#231f20" stroke="#231f20" stroke-width="0.22" textLength="9.4" lengthAdjust="spacingAndGlyphs">11</text>
<line x1="134.79999999999998" y1="242.1" x2="134.79999999999998" y2="245.1" stroke="#231f20" stroke-width="1.1"/>
<text x="134.79999999999998" y="254.3" font-size="8.7" text-anchor="middle" fill="#231f20" stroke="#231f20" stroke-width="0.22" textLength="9.4" lengthAdjust="spacingAndGlyphs">15</text>
<polyline points="58.60,178.60 84.00,179.55 109.40,181.14 134.80,183.04" fill="none" stroke="#1a4a85" stroke-width="1.2" stroke-linejoin="round"/>
<circle cx="58.60" cy="178.60" r="1.3" fill="#1a4a85"/>
<circle cx="84.00" cy="179.55" r="1.3" fill="#1a4a85"/>
<circle cx="109.40" cy="181.14" r="1.3" fill="#1a4a85"/>
<line x1="134.79999999999998" y1="180.505" x2="134.79999999999998" y2="185.58499999999998" stroke="#1a4a85" stroke-width="0.8"/>
<line x1="133.6" y1="180.505" x2="135.99999999999997" y2="180.505" stroke="#1a4a85" stroke-width="0.8"/>
<line x1="133.6" y1="185.58499999999998" x2="135.99999999999997" y2="185.58499999999998" stroke="#1a4a85" stroke-width="0.8"/>
<circle cx="134.80" cy="183.04" r="1.3" fill="#1a4a85"/>
<polyline points="58.60,178.60 84.00,177.33 109.40,180.50 134.80,181.78" fill="none" stroke="#2bb24c" stroke-width="1.2" stroke-linejoin="round"/>
<circle cx="58.60" cy="178.60" r="1.3" fill="#2bb24c"/>
<line x1="84.0" y1="176.695" x2="84.0" y2="177.96499999999997" stroke="#2bb24c" stroke-width="0.8"/>
<line x1="82.8" y1="176.695" x2="85.2" y2="176.695" stroke="#2bb24c" stroke-width="0.8"/>
<line x1="82.8" y1="177.96499999999997" x2="85.2" y2="177.96499999999997" stroke="#2bb24c" stroke-width="0.8"/>
<circle cx="84.00" cy="177.33" r="1.3" fill="#2bb24c"/>
<line x1="109.4" y1="179.23499999999999" x2="109.4" y2="181.775" stroke="#2bb24c" stroke-width="0.8"/>
<line x1="108.2" y1="179.23499999999999" x2="110.60000000000001" y2="179.23499999999999" stroke="#2bb24c" stroke-width="0.8"/>
<line x1="108.2" y1="181.775" x2="110.60000000000001" y2="181.775" stroke="#2bb24c" stroke-width="0.8"/>
<circle cx="109.40" cy="180.50" r="1.3" fill="#2bb24c"/>
<line x1="134.79999999999998" y1="179.87" x2="134.79999999999998" y2="183.68" stroke="#2bb24c" stroke-width="0.8"/>
<line x1="133.6" y1="179.87" x2="135.99999999999997" y2="179.87" stroke="#2bb24c" stroke-width="0.8"/>
<line x1="133.6" y1="183.68" x2="135.99999999999997" y2="183.68" stroke="#2bb24c" stroke-width="0.8"/>
<circle cx="134.80" cy="181.78" r="1.3" fill="#2bb24c"/>
<polyline points="58.60,178.60 84.00,179.55 109.40,181.46 134.80,182.09" fill="none" stroke="#c8143c" stroke-width="1.2" stroke-linejoin="round"/>
<circle cx="58.60" cy="178.60" r="1.3" fill="#c8143c"/>
<line x1="84.0" y1="178.91750000000002" x2="84.0" y2="180.1875" stroke="#c8143c" stroke-width="0.8"/>
<line x1="82.8" y1="178.91750000000002" x2="85.2" y2="178.91750000000002" stroke="#c8143c" stroke-width="0.8"/>
<line x1="82.8" y1="180.1875" x2="85.2" y2="180.1875" stroke="#c8143c" stroke-width="0.8"/>
<circle cx="84.00" cy="179.55" r="1.3" fill="#c8143c"/>
<line x1="109.4" y1="179.23499999999999" x2="109.4" y2="183.67999999999998" stroke="#c8143c" stroke-width="0.8"/>
<line x1="108.2" y1="179.23499999999999" x2="110.60000000000001" y2="179.23499999999999" stroke="#c8143c" stroke-width="0.8"/>
<line x1="108.2" y1="183.67999999999998" x2="110.60000000000001" y2="183.67999999999998" stroke="#c8143c" stroke-width="0.8"/>
<circle cx="109.40" cy="181.46" r="1.3" fill="#c8143c"/>
<line x1="134.79999999999998" y1="180.8225" x2="134.79999999999998" y2="183.3625" stroke="#c8143c" stroke-width="0.8"/>
<line x1="133.6" y1="180.8225" x2="135.99999999999997" y2="180.8225" stroke="#c8143c" stroke-width="0.8"/>
<line x1="133.6" y1="183.3625" x2="135.99999999999997" y2="183.3625" stroke="#c8143c" stroke-width="0.8"/>
<circle cx="134.80" cy="182.09" r="1.3" fill="#c8143c"/>
<text x="201" y="168.3" font-size="8" text-anchor="middle" fill="#231f20" stroke="#231f20" stroke-width="0.22" textLength="38.9" lengthAdjust="spacingAndGlyphs">sgCDK6_1</text>
<line x1="161.3" y1="174.8" x2="161.3" y2="242.7" stroke="#231f20" stroke-width="1.3"/>
<line x1="160.70000000000002" y1="242.1" x2="241.3" y2="242.1" stroke="#231f20" stroke-width="1.3"/>
<line x1="158.10000000000002" y1="178.6" x2="161.3" y2="178.6" stroke="#231f20" stroke-width="1.1"/>
<line x1="158.10000000000002" y1="210.35" x2="161.3" y2="210.35" stroke="#231f20" stroke-width="1.1"/>
<line x1="158.10000000000002" y1="242.1" x2="161.3" y2="242.1" stroke="#231f20" stroke-width="1.1"/>
<line x1="161.3" y1="242.1" x2="161.3" y2="245.1" stroke="#231f20" stroke-width="1.1"/>
<text x="161.3" y="254.3" font-size="8.7" text-anchor="middle" fill="#231f20" stroke="#231f20" stroke-width="0.22">3</text>
<line x1="186.70000000000002" y1="242.1" x2="186.70000000000002" y2="245.1" stroke="#231f20" stroke-width="1.1"/>
<text x="186.70000000000002" y="254.3" font-size="8.7" text-anchor="middle" fill="#231f20" stroke="#231f20" stroke-width="0.22">7</text>
<line x1="212.10000000000002" y1="242.1" x2="212.10000000000002" y2="245.1" stroke="#231f20" stroke-width="1.1"/>
<text x="212.10000000000002" y="254.3" font-size="8.7" text-anchor="middle" fill="#231f20" stroke="#231f20" stroke-width="0.22" textLength="9.4" lengthAdjust="spacingAndGlyphs">11</text>
<line x1="237.5" y1="242.1" x2="237.5" y2="245.1" stroke="#231f20" stroke-width="1.1"/>
<text x="237.5" y="254.3" font-size="8.7" text-anchor="middle" fill="#231f20" stroke="#231f20" stroke-width="0.22" textLength="9.4" lengthAdjust="spacingAndGlyphs">15</text>
<polyline points="161.30,178.60 186.70,179.87 212.10,188.76 237.50,192.57" fill="none" stroke="#1a4a85" stroke-width="1.2" stroke-linejoin="round"/>
<circle cx="161.30" cy="178.60" r="1.3" fill="#1a4a85"/>
<circle cx="186.70" cy="179.87" r="1.3" fill="#1a4a85"/>
<circle cx="212.10" cy="188.76" r="1.3" fill="#1a4a85"/>
<line x1="237.5" y1="191.6175" x2="237.5" y2="193.52249999999998" stroke="#1a4a85" stroke-width="0.8"/>
<line x1="236.3" y1="191.6175" x2="238.7" y2="191.6175" stroke="#1a4a85" stroke-width="0.8"/>
<line x1="236.3" y1="193.52249999999998" x2="238.7" y2="193.52249999999998" stroke="#1a4a85" stroke-width="0.8"/>
<circle cx="237.50" cy="192.57" r="1.3" fill="#1a4a85"/>
<polyline points="161.30,178.60 186.70,196.70 212.10,222.41 237.50,230.67" fill="none" stroke="#2bb24c" stroke-width="1.2" stroke-linejoin="round"/>
<circle cx="161.30" cy="178.60" r="1.3" fill="#2bb24c"/>
<line x1="186.70000000000002" y1="193.52249999999998" x2="186.70000000000002" y2="199.8725" stroke="#2bb24c" stroke-width="0.8"/>
<line x1="185.50000000000003" y1="193.52249999999998" x2="187.9" y2="193.52249999999998" stroke="#2bb24c" stroke-width="0.8"/>
<line x1="185.50000000000003" y1="199.8725" x2="187.9" y2="199.8725" stroke="#2bb24c" stroke-width="0.8"/>
<circle cx="186.70" cy="196.70" r="1.3" fill="#2bb24c"/>
<circle cx="212.10" cy="222.41" r="1.3" fill="#2bb24c"/>
<line x1="237.5" y1="230.035" x2="237.5" y2="231.30499999999998" stroke="#2bb24c" stroke-width="0.8"/>
<line x1="236.3" y1="230.035" x2="238.7" y2="230.035" stroke="#2bb24c" stroke-width="0.8"/>
<line x1="236.3" y1="231.30499999999998" x2="238.7" y2="231.30499999999998" stroke="#2bb24c" stroke-width="0.8"/>
<circle cx="237.50" cy="230.67" r="1.3" fill="#2bb24c"/>
<polyline points="161.30,178.60 186.70,226.22 212.10,239.56 237.50,240.83" fill="none" stroke="#c8143c" stroke-width="1.2" stroke-linejoin="round"/>
<circle cx="161.30" cy="178.60" r="1.3" fill="#c8143c"/>
<line x1="186.70000000000002" y1="221.14499999999998" x2="186.70000000000002" y2="231.305" stroke="#c8143c" stroke-width="0.8"/>
<line x1="185.50000000000003" y1="221.14499999999998" x2="187.9" y2="221.14499999999998" stroke="#c8143c" stroke-width="0.8"/>
<line x1="185.50000000000003" y1="231.305" x2="187.9" y2="231.305" stroke="#c8143c" stroke-width="0.8"/>
<circle cx="186.70" cy="226.22" r="1.3" fill="#c8143c"/>
<circle cx="212.10" cy="239.56" r="1.3" fill="#c8143c"/>
<circle cx="237.50" cy="240.83" r="1.3" fill="#c8143c"/>
<text x="311.2" y="168.3" font-size="8" text-anchor="middle" fill="#231f20" stroke="#231f20" stroke-width="0.22" textLength="40.8" lengthAdjust="spacingAndGlyphs">sgCDK6_2</text>
<line x1="270.6" y1="174.8" x2="270.6" y2="242.7" stroke="#231f20" stroke-width="1.3"/>
<line x1="270.0" y1="242.1" x2="350.6" y2="242.1" stroke="#231f20" stroke-width="1.3"/>
<line x1="267.40000000000003" y1="178.6" x2="270.6" y2="178.6" stroke="#231f20" stroke-width="1.1"/>
<line x1="267.40000000000003" y1="210.35" x2="270.6" y2="210.35" stroke="#231f20" stroke-width="1.1"/>
<line x1="267.40000000000003" y1="242.1" x2="270.6" y2="242.1" stroke="#231f20" stroke-width="1.1"/>
<line x1="270.6" y1="242.1" x2="270.6" y2="245.1" stroke="#231f20" stroke-width="1.1"/>
<text x="270.6" y="254.3" font-size="8.7" text-anchor="middle" fill="#231f20" stroke="#231f20" stroke-width="0.22">3</text>
<line x1="296.0" y1="242.1" x2="296.0" y2="245.1" stroke="#231f20" stroke-width="1.1"/>
<text x="296.0" y="254.3" font-size="8.7" text-anchor="middle" fill="#231f20" stroke="#231f20" stroke-width="0.22">7</text>
<line x1="321.40000000000003" y1="242.1" x2="321.40000000000003" y2="245.1" stroke="#231f20" stroke-width="1.1"/>
<text x="321.40000000000003" y="254.3" font-size="8.7" text-anchor="middle" fill="#231f20" stroke="#231f20" stroke-width="0.22" textLength="9.4" lengthAdjust="spacingAndGlyphs">11</text>
<line x1="346.8" y1="242.1" x2="346.8" y2="245.1" stroke="#231f20" stroke-width="1.1"/>
<text x="346.8" y="254.3" font-size="8.7" text-anchor="middle" fill="#231f20" stroke="#231f20" stroke-width="0.22" textLength="9.4" lengthAdjust="spacingAndGlyphs">15</text>
<polyline points="270.60,178.60 296.00,181.14 321.40,188.12 346.80,195.11" fill="none" stroke="#1a4a85" stroke-width="1.2" stroke-linejoin="round"/>
<circle cx="270.60" cy="178.60" r="1.3" fill="#1a4a85"/>
<line x1="296.0" y1="180.505" x2="296.0" y2="181.77499999999998" stroke="#1a4a85" stroke-width="0.8"/>
<line x1="294.8" y1="180.505" x2="297.2" y2="180.505" stroke="#1a4a85" stroke-width="0.8"/>
<line x1="294.8" y1="181.77499999999998" x2="297.2" y2="181.77499999999998" stroke="#1a4a85" stroke-width="0.8"/>
<circle cx="296.00" cy="181.14" r="1.3" fill="#1a4a85"/>
<line x1="321.40000000000003" y1="184.315" x2="321.40000000000003" y2="191.935" stroke="#1a4a85" stroke-width="0.8"/>
<line x1="320.20000000000005" y1="184.315" x2="322.6" y2="184.315" stroke="#1a4a85" stroke-width="0.8"/>
<line x1="320.20000000000005" y1="191.935" x2="322.6" y2="191.935" stroke="#1a4a85" stroke-width="0.8"/>
<circle cx="321.40" cy="188.12" r="1.3" fill="#1a4a85"/>
<circle cx="346.80" cy="195.11" r="1.3" fill="#1a4a85"/>
<polyline points="270.60,178.60 296.00,213.53 321.40,236.38 346.80,237.66" fill="none" stroke="#2bb24c" stroke-width="1.2" stroke-linejoin="round"/>
<circle cx="270.60" cy="178.60" r="1.3" fill="#2bb24c"/>
<circle cx="296.00" cy="213.53" r="1.3" fill="#2bb24c"/>
<line x1="321.40000000000003" y1="235.11499999999998" x2="321.40000000000003" y2="237.655" stroke="#2bb24c" stroke-width="0.8"/>
<line x1="320.20000000000005" y1="235.11499999999998" x2="322.6" y2="235.11499999999998" stroke="#2bb24c" stroke-width="0.8"/>
<line x1="320.20000000000005" y1="237.655" x2="322.6" y2="237.655" stroke="#2bb24c" stroke-width="0.8"/>
<circle cx="321.40" cy="236.38" r="1.3" fill="#2bb24c"/>
<circle cx="346.80" cy="237.66" r="1.3" fill="#2bb24c"/>
<polyline points="270.60,178.60 296.00,231.31 321.40,242.10 346.80,242.10" fill="none" stroke="#c8143c" stroke-width="1.2" stroke-linejoin="round"/>
<circle cx="270.60" cy="178.60" r="1.3" fill="#c8143c"/>
<line x1="296.0" y1="229.4" x2="296.0" y2="233.21" stroke="#c8143c" stroke-width="0.8"/>
<line x1="294.8" y1="229.4" x2="297.2" y2="229.4" stroke="#c8143c" stroke-width="0.8"/>
<line x1="294.8" y1="233.21" x2="297.2" y2="233.21" stroke="#c8143c" stroke-width="0.8"/>
<circle cx="296.00" cy="231.31" r="1.3" fill="#c8143c"/>
<circle cx="321.40" cy="242.10" r="1.3" fill="#c8143c"/>
<circle cx="346.80" cy="242.10" r="1.3" fill="#c8143c"/>
<text x="420.3" y="168.3" font-size="8" text-anchor="middle" fill="#231f20" stroke="#231f20" stroke-width="0.22" textLength="28.5" lengthAdjust="spacingAndGlyphs">sgRPL6</text>
<line x1="380.1" y1="174.8" x2="380.1" y2="242.7" stroke="#231f20" stroke-width="1.3"/>
<line x1="379.5" y1="242.1" x2="459.50000000000006" y2="242.1" stroke="#231f20" stroke-width="1.3"/>
<line x1="376.90000000000003" y1="178.6" x2="380.1" y2="178.6" stroke="#231f20" stroke-width="1.1"/>
<line x1="376.90000000000003" y1="210.35" x2="380.1" y2="210.35" stroke="#231f20" stroke-width="1.1"/>
<line x1="376.90000000000003" y1="242.1" x2="380.1" y2="242.1" stroke="#231f20" stroke-width="1.1"/>
<line x1="380.1" y1="242.1" x2="380.1" y2="245.1" stroke="#231f20" stroke-width="1.1"/>
<text x="380.1" y="254.3" font-size="8.7" text-anchor="middle" fill="#231f20" stroke="#231f20" stroke-width="0.22">3</text>
<line x1="405.3" y1="242.1" x2="405.3" y2="245.1" stroke="#231f20" stroke-width="1.1"/>
<text x="405.3" y="254.3" font-size="8.7" text-anchor="middle" fill="#231f20" stroke="#231f20" stroke-width="0.22">7</text>
<line x1="430.5" y1="242.1" x2="430.5" y2="245.1" stroke="#231f20" stroke-width="1.1"/>
<text x="430.5" y="254.3" font-size="8.7" text-anchor="middle" fill="#231f20" stroke="#231f20" stroke-width="0.22" textLength="9.4" lengthAdjust="spacingAndGlyphs">11</text>
<line x1="455.70000000000005" y1="242.1" x2="455.70000000000005" y2="245.1" stroke="#231f20" stroke-width="1.1"/>
<text x="455.70000000000005" y="254.3" font-size="8.7" text-anchor="middle" fill="#231f20" stroke="#231f20" stroke-width="0.22" textLength="9.4" lengthAdjust="spacingAndGlyphs">15</text>
<polyline points="380.10,178.60 405.30,192.57 430.50,209.72 455.70,224.32" fill="none" stroke="#2bb24c" stroke-width="1.2" stroke-linejoin="round"/>
<circle cx="380.10" cy="178.60" r="1.3" fill="#2bb24c"/>
<line x1="405.3" y1="190.665" x2="405.3" y2="194.475" stroke="#2bb24c" stroke-width="0.8"/>
<line x1="404.1" y1="190.665" x2="406.5" y2="190.665" stroke="#2bb24c" stroke-width="0.8"/>
<line x1="404.1" y1="194.475" x2="406.5" y2="194.475" stroke="#2bb24c" stroke-width="0.8"/>
<circle cx="405.30" cy="192.57" r="1.3" fill="#2bb24c"/>
<line x1="430.5" y1="208.445" x2="430.5" y2="210.985" stroke="#2bb24c" stroke-width="0.8"/>
<line x1="429.3" y1="208.445" x2="431.7" y2="208.445" stroke="#2bb24c" stroke-width="0.8"/>
<line x1="429.3" y1="210.985" x2="431.7" y2="210.985" stroke="#2bb24c" stroke-width="0.8"/>
<circle cx="430.50" cy="209.72" r="1.3" fill="#2bb24c"/>
<line x1="455.70000000000005" y1="221.78" x2="455.70000000000005" y2="226.85999999999999" stroke="#2bb24c" stroke-width="0.8"/>
<line x1="454.50000000000006" y1="221.78" x2="456.90000000000003" y2="221.78" stroke="#2bb24c" stroke-width="0.8"/>
<line x1="454.50000000000006" y1="226.85999999999999" x2="456.90000000000003" y2="226.85999999999999" stroke="#2bb24c" stroke-width="0.8"/>
<circle cx="455.70" cy="224.32" r="1.3" fill="#2bb24c"/>
<polyline points="380.10,178.60 405.30,190.03 430.50,208.44 455.70,223.05" fill="none" stroke="#1a4a85" stroke-width="1.2" stroke-linejoin="round"/>
<circle cx="380.10" cy="178.60" r="1.3" fill="#1a4a85"/>
<line x1="405.3" y1="188.125" x2="405.3" y2="191.935" stroke="#1a4a85" stroke-width="0.8"/>
<line x1="404.1" y1="188.125" x2="406.5" y2="188.125" stroke="#1a4a85" stroke-width="0.8"/>
<line x1="404.1" y1="191.935" x2="406.5" y2="191.935" stroke="#1a4a85" stroke-width="0.8"/>
<circle cx="405.30" cy="190.03" r="1.3" fill="#1a4a85"/>
<line x1="430.5" y1="207.17499999999998" x2="430.5" y2="209.715" stroke="#1a4a85" stroke-width="0.8"/>
<line x1="429.3" y1="207.17499999999998" x2="431.7" y2="207.17499999999998" stroke="#1a4a85" stroke-width="0.8"/>
<line x1="429.3" y1="209.715" x2="431.7" y2="209.715" stroke="#1a4a85" stroke-width="0.8"/>
<circle cx="430.50" cy="208.44" r="1.3" fill="#1a4a85"/>
<line x1="455.70000000000005" y1="221.77999999999997" x2="455.70000000000005" y2="224.32" stroke="#1a4a85" stroke-width="0.8"/>
<line x1="454.50000000000006" y1="221.77999999999997" x2="456.90000000000003" y2="221.77999999999997" stroke="#1a4a85" stroke-width="0.8"/>
<line x1="454.50000000000006" y1="224.32" x2="456.90000000000003" y2="224.32" stroke="#1a4a85" stroke-width="0.8"/>
<circle cx="455.70" cy="223.05" r="1.3" fill="#1a4a85"/>
<polyline points="380.10,178.60 405.30,188.12 430.50,206.54 455.70,219.88" fill="none" stroke="#c8143c" stroke-width="1.2" stroke-linejoin="round"/>
<circle cx="380.10" cy="178.60" r="1.3" fill="#c8143c"/>
<line x1="405.3" y1="185.585" x2="405.3" y2="190.665" stroke="#c8143c" stroke-width="0.8"/>
<line x1="404.1" y1="185.585" x2="406.5" y2="185.585" stroke="#c8143c" stroke-width="0.8"/>
<line x1="404.1" y1="190.665" x2="406.5" y2="190.665" stroke="#c8143c" stroke-width="0.8"/>
<circle cx="405.30" cy="188.12" r="1.3" fill="#c8143c"/>
<line x1="430.5" y1="205.26999999999998" x2="430.5" y2="207.81" stroke="#c8143c" stroke-width="0.8"/>
<line x1="429.3" y1="205.26999999999998" x2="431.7" y2="205.26999999999998" stroke="#c8143c" stroke-width="0.8"/>
<line x1="429.3" y1="207.81" x2="431.7" y2="207.81" stroke="#c8143c" stroke-width="0.8"/>
<circle cx="430.50" cy="206.54" r="1.3" fill="#c8143c"/>
<line x1="455.70000000000005" y1="217.97" x2="455.70000000000005" y2="221.78" stroke="#c8143c" stroke-width="0.8"/>
<line x1="454.50000000000006" y1="217.97" x2="456.90000000000003" y2="217.97" stroke="#c8143c" stroke-width="0.8"/>
<line x1="454.50000000000006" y1="221.78" x2="456.90000000000003" y2="221.78" stroke="#c8143c" stroke-width="0.8"/>
<circle cx="455.70" cy="219.88" r="1.3" fill="#c8143c"/>
<text x="24.5" y="208.3" font-size="9.9" text-anchor="middle" fill="#231f20" stroke="#231f20" stroke-width="0.22" textLength="41.7" lengthAdjust="spacingAndGlyphs" transform="rotate(-90 24.5 208.3)">Cell number</text>
<text x="35.4" y="208" font-size="9.7" text-anchor="middle" fill="#231f20" stroke="#231f20" stroke-width="0.22" textLength="72.4" lengthAdjust="spacingAndGlyphs" transform="rotate(-90 35.4 208)">(normalized by day 3)</text>
<text x="248.0" y="268.1" font-size="10" text-anchor="middle" fill="#231f20" stroke="#231f20" stroke-width="0.22" textLength="63.8" lengthAdjust="spacingAndGlyphs">Days after infection</text>
<text x="489.35" y="180.6" font-size="7.2" text-anchor="middle" fill="#231f20" stroke="#231f20" stroke-width="0.22" textLength="46.5" lengthAdjust="spacingAndGlyphs">Rescue vector</text>
<line x1="467.6" y1="191" x2="479.5" y2="191" stroke="#c8143c" stroke-width="1.3"/>
<circle cx="473.50" cy="191.00" r="1.5" fill="#c8143c"/>
<text x="491.1" y="193.8" font-size="7.6" text-anchor="middle" fill="#231f20" stroke="#231f20" stroke-width="0.22" textLength="18.4" lengthAdjust="spacingAndGlyphs">Mock</text>
<line x1="467.6" y1="203.5" x2="479.5" y2="203.5" stroke="#1a4a85" stroke-width="1.3"/>
<circle cx="473.50" cy="203.50" r="1.5" fill="#1a4a85"/>
<text x="491.5" y="206.2" font-size="7.6" text-anchor="middle" fill="#231f20" stroke="#231f20" stroke-width="0.22" textLength="19.2" lengthAdjust="spacingAndGlyphs">CDK6</text>
<line x1="467.6" y1="216.1" x2="479.5" y2="216.1" stroke="#2bb24c" stroke-width="1.3"/>
<circle cx="473.50" cy="216.10" r="1.5" fill="#2bb24c"/>
<text x="491.5" y="218.9" font-size="7.6" text-anchor="middle" fill="#231f20" stroke="#231f20" stroke-width="0.22" textLength="19.2" lengthAdjust="spacingAndGlyphs">CDK4</text>
<text x="185.5" y="301.2" font-size="8.2" text-anchor="middle" fill="#231f20" stroke="#231f20" stroke-width="0.22" textLength="28.2" lengthAdjust="spacingAndGlyphs">Su9T01</text>
<text x="242.35" y="301.2" font-size="8.2" text-anchor="middle" fill="#c8143c" stroke="#c8143c" stroke-width="0.22" textLength="71.5" lengthAdjust="spacingAndGlyphs">GFP(–) = sgRNA(–)</text>
<text x="321.55" y="301.2" font-size="8.2" text-anchor="middle" fill="#2a64a0" stroke="#2a64a0" stroke-width="0.22" textLength="74.7" lengthAdjust="spacingAndGlyphs">GFP(+) = sgRNA(+)</text>
<text x="108" y="315.5" font-size="7.8" text-anchor="middle" fill="#231f20" stroke="#231f20" stroke-width="0.22" textLength="34.699999999999996" lengthAdjust="spacingAndGlyphs">sgAAVS1</text>
<rect x="46.4" y="322.6" width="124.79999999999998" height="123.79999999999995" fill="none" stroke="#231f20" stroke-width="1.1"/>
<line x1="43.199999999999996" y1="446.4" x2="46.4" y2="446.4" stroke="#231f20" stroke-width="0.9"/>
<text x="40.3" y="449.09999999999997" font-size="7.7" text-anchor="end" fill="#231f20" stroke="#231f20" stroke-width="0.22" textLength="4.3" lengthAdjust="spacingAndGlyphs">0</text>
<line x1="44.6" y1="440.505" x2="46.4" y2="440.505" stroke="#231f20" stroke-width="0.9"/>
<line x1="44.6" y1="434.60999999999996" x2="46.4" y2="434.60999999999996" stroke="#231f20" stroke-width="0.9"/>
<line x1="44.6" y1="428.715" x2="46.4" y2="428.715" stroke="#231f20" stroke-width="0.9"/>
<line x1="43.199999999999996" y1="422.82" x2="46.4" y2="422.82" stroke="#231f20" stroke-width="0.9"/>
<text x="40.3" y="425.52" font-size="7.7" text-anchor="end" fill="#231f20" stroke="#231f20" stroke-width="0.22" textLength="8.4" lengthAdjust="spacingAndGlyphs">20</text>
<line x1="44.6" y1="416.92499999999995" x2="46.4" y2="416.92499999999995" stroke="#231f20" stroke-width="0.9"/>
<line x1="44.6" y1="411.03" x2="46.4" y2="411.03" stroke="#231f20" stroke-width="0.9"/>
<line x1="44.6" y1="405.135" x2="46.4" y2="405.135" stroke="#231f20" stroke-width="0.9"/>
<line x1="43.199999999999996" y1="399.24" x2="46.4" y2="399.24" stroke="#231f20" stroke-width="0.9"/>
<text x="40.3" y="401.94" font-size="7.7" text-anchor="end" fill="#231f20" stroke="#231f20" stroke-width="0.22" textLength="8.4" lengthAdjust="spacingAndGlyphs">40</text>
<line x1="44.6" y1="393.34499999999997" x2="46.4" y2="393.34499999999997" stroke="#231f20" stroke-width="0.9"/>
<line x1="44.6" y1="387.45" x2="46.4" y2="387.45" stroke="#231f20" stroke-width="0.9"/>
<line x1="44.6" y1="381.555" x2="46.4" y2="381.555" stroke="#231f20" stroke-width="0.9"/>
<line x1="43.199999999999996" y1="375.65999999999997" x2="46.4" y2="375.65999999999997" stroke="#231f20" stroke-width="0.9"/>
<text x="40.3" y="378.35999999999996" font-size="7.7" text-anchor="end" fill="#231f20" stroke="#231f20" stroke-width="0.22" textLength="8.4" lengthAdjust="spacingAndGlyphs">60</text>
<line x1="44.6" y1="369.765" x2="46.4" y2="369.765" stroke="#231f20" stroke-width="0.9"/>
<line x1="44.6" y1="363.87" x2="46.4" y2="363.87" stroke="#231f20" stroke-width="0.9"/>
<line x1="44.6" y1="357.975" x2="46.4" y2="357.975" stroke="#231f20" stroke-width="0.9"/>
<line x1="43.199999999999996" y1="352.08" x2="46.4" y2="352.08" stroke="#231f20" stroke-width="0.9"/>
<text x="40.3" y="354.78" font-size="7.7" text-anchor="end" fill="#231f20" stroke="#231f20" stroke-width="0.22" textLength="8.4" lengthAdjust="spacingAndGlyphs">80</text>
<line x1="44.6" y1="346.185" x2="46.4" y2="346.185" stroke="#231f20" stroke-width="0.9"/>
<line x1="44.6" y1="340.28999999999996" x2="46.4" y2="340.28999999999996" stroke="#231f20" stroke-width="0.9"/>
<line x1="44.6" y1="334.395" x2="46.4" y2="334.395" stroke="#231f20" stroke-width="0.9"/>
<line x1="43.199999999999996" y1="328.5" x2="46.4" y2="328.5" stroke="#231f20" stroke-width="0.9"/>
<text x="40.3" y="331.2" font-size="7.7" text-anchor="end" fill="#231f20" stroke="#231f20" stroke-width="0.22" textLength="12.4" lengthAdjust="spacingAndGlyphs">100</text>
<line x1="46.4" y1="446.4" x2="46.4" y2="449.4" stroke="#231f20" stroke-width="0.9"/>
<text x="46.4" y="459.4" font-size="7.7" text-anchor="middle" fill="#231f20" stroke="#231f20" stroke-width="0.22">0</text>
<line x1="51.14" y1="446.4" x2="51.14" y2="448.0" stroke="#231f20" stroke-width="0.9"/>
<line x1="55.879999999999995" y1="446.4" x2="55.879999999999995" y2="448.0" stroke="#231f20" stroke-width="0.9"/>
<line x1="60.62" y1="446.4" x2="60.62" y2="448.0" stroke="#231f20" stroke-width="0.9"/>
<line x1="65.36" y1="446.4" x2="65.36" y2="448.0" stroke="#231f20" stroke-width="0.9"/>
<line x1="70.1" y1="446.4" x2="70.1" y2="449.4" stroke="#231f20" stroke-width="0.9"/>
<text x="70.1" y="459.4" font-size="7.7" text-anchor="middle" fill="#231f20" stroke="#231f20" stroke-width="0.22">50K</text>
<line x1="74.84" y1="446.4" x2="74.84" y2="448.0" stroke="#231f20" stroke-width="0.9"/>
<line x1="79.58" y1="446.4" x2="79.58" y2="448.0" stroke="#231f20" stroke-width="0.9"/>
<line x1="84.32" y1="446.4" x2="84.32" y2="448.0" stroke="#231f20" stroke-width="0.9"/>
<line x1="89.06" y1="446.4" x2="89.06" y2="448.0" stroke="#231f20" stroke-width="0.9"/>
<line x1="93.8" y1="446.4" x2="93.8" y2="449.4" stroke="#231f20" stroke-width="0.9"/>
<text x="93.8" y="459.4" font-size="7.7" text-anchor="middle" fill="#231f20" stroke="#231f20" stroke-width="0.22">100K</text>
<line x1="98.53999999999999" y1="446.4" x2="98.53999999999999" y2="448.0" stroke="#231f20" stroke-width="0.9"/>
<line x1="103.28" y1="446.4" x2="103.28" y2="448.0" stroke="#231f20" stroke-width="0.9"/>
<line x1="108.02" y1="446.4" x2="108.02" y2="448.0" stroke="#231f20" stroke-width="0.9"/>
<line x1="112.75999999999999" y1="446.4" x2="112.75999999999999" y2="448.0" stroke="#231f20" stroke-width="0.9"/>
<line x1="117.5" y1="446.4" x2="117.5" y2="449.4" stroke="#231f20" stroke-width="0.9"/>
<text x="117.5" y="459.4" font-size="7.7" text-anchor="middle" fill="#231f20" stroke="#231f20" stroke-width="0.22">150K</text>
<line x1="122.24000000000001" y1="446.4" x2="122.24000000000001" y2="448.0" stroke="#231f20" stroke-width="0.9"/>
<line x1="126.97999999999999" y1="446.4" x2="126.97999999999999" y2="448.0" stroke="#231f20" stroke-width="0.9"/>
<line x1="131.72" y1="446.4" x2="131.72" y2="448.0" stroke="#231f20" stroke-width="0.9"/>
<line x1="136.46" y1="446.4" x2="136.46" y2="448.0" stroke="#231f20" stroke-width="0.9"/>
<line x1="141.2" y1="446.4" x2="141.2" y2="449.4" stroke="#231f20" stroke-width="0.9"/>
<text x="141.2" y="459.4" font-size="7.7" text-anchor="middle" fill="#231f20" stroke="#231f20" stroke-width="0.22">200K</text>
<line x1="145.94" y1="446.4" x2="145.94" y2="448.0" stroke="#231f20" stroke-width="0.9"/>
<line x1="150.68" y1="446.4" x2="150.68" y2="448.0" stroke="#231f20" stroke-width="0.9"/>
<line x1="155.42" y1="446.4" x2="155.42" y2="448.0" stroke="#231f20" stroke-width="0.9"/>
<line x1="160.16" y1="446.4" x2="160.16" y2="448.0" stroke="#231f20" stroke-width="0.9"/>
<line x1="164.9" y1="446.4" x2="164.9" y2="449.4" stroke="#231f20" stroke-width="0.9"/>
<text x="164.9" y="459.4" font-size="7.7" text-anchor="middle" fill="#231f20" stroke="#231f20" stroke-width="0.22">250K</text>
<text x="265" y="315.5" font-size="7.8" text-anchor="middle" fill="#231f20" stroke="#231f20" stroke-width="0.22" textLength="30.6" lengthAdjust="spacingAndGlyphs">sgCDK6</text>
<rect x="203.5" y="323.2" width="123.89999999999998" height="123.19999999999999" fill="none" stroke="#231f20" stroke-width="1.1"/>
<line x1="200.3" y1="446.4" x2="203.5" y2="446.4" stroke="#231f20" stroke-width="0.9"/>
<text x="197.3" y="449.09999999999997" font-size="7.7" text-anchor="end" fill="#231f20" stroke="#231f20" stroke-width="0.22" textLength="4.3" lengthAdjust="spacingAndGlyphs">0</text>
<line x1="201.7" y1="440.515" x2="203.5" y2="440.515" stroke="#231f20" stroke-width="0.9"/>
<line x1="201.7" y1="434.63" x2="203.5" y2="434.63" stroke="#231f20" stroke-width="0.9"/>
<line x1="201.7" y1="428.745" x2="203.5" y2="428.745" stroke="#231f20" stroke-width="0.9"/>
<line x1="200.3" y1="422.85999999999996" x2="203.5" y2="422.85999999999996" stroke="#231f20" stroke-width="0.9"/>
<text x="197.3" y="425.55999999999995" font-size="7.7" text-anchor="end" fill="#231f20" stroke="#231f20" stroke-width="0.22" textLength="8.4" lengthAdjust="spacingAndGlyphs">20</text>
<line x1="201.7" y1="416.97499999999997" x2="203.5" y2="416.97499999999997" stroke="#231f20" stroke-width="0.9"/>
<line x1="201.7" y1="411.09" x2="203.5" y2="411.09" stroke="#231f20" stroke-width="0.9"/>
<line x1="201.7" y1="405.205" x2="203.5" y2="405.205" stroke="#231f20" stroke-width="0.9"/>
<line x1="200.3" y1="399.32" x2="203.5" y2="399.32" stroke="#231f20" stroke-width="0.9"/>
<text x="197.3" y="402.02" font-size="7.7" text-anchor="end" fill="#231f20" stroke="#231f20" stroke-width="0.22" textLength="8.4" lengthAdjust="spacingAndGlyphs">40</text>
<line x1="201.7" y1="393.435" x2="203.5" y2="393.435" stroke="#231f20" stroke-width="0.9"/>
<line x1="201.7" y1="387.54999999999995" x2="203.5" y2="387.54999999999995" stroke="#231f20" stroke-width="0.9"/>
<line x1="201.7" y1="381.66499999999996" x2="203.5" y2="381.66499999999996" stroke="#231f20" stroke-width="0.9"/>
<line x1="200.3" y1="375.78" x2="203.5" y2="375.78" stroke="#231f20" stroke-width="0.9"/>
<text x="197.3" y="378.47999999999996" font-size="7.7" text-anchor="end" fill="#231f20" stroke="#231f20" stroke-width="0.22" textLength="8.4" lengthAdjust="spacingAndGlyphs">60</text>
<line x1="201.7" y1="369.895" x2="203.5" y2="369.895" stroke="#231f20" stroke-width="0.9"/>
<line x1="201.7" y1="364.01" x2="203.5" y2="364.01" stroke="#231f20" stroke-width="0.9"/>
<line x1="201.7" y1="358.125" x2="203.5" y2="358.125" stroke="#231f20" stroke-width="0.9"/>
<line x1="200.3" y1="352.24" x2="203.5" y2="352.24" stroke="#231f20" stroke-width="0.9"/>
<text x="197.3" y="354.94" font-size="7.7" text-anchor="end" fill="#231f20" stroke="#231f20" stroke-width="0.22" textLength="8.4" lengthAdjust="spacingAndGlyphs">80</text>
<line x1="201.7" y1="346.355" x2="203.5" y2="346.355" stroke="#231f20" stroke-width="0.9"/>
<line x1="201.7" y1="340.47" x2="203.5" y2="340.47" stroke="#231f20" stroke-width="0.9"/>
<line x1="201.7" y1="334.585" x2="203.5" y2="334.585" stroke="#231f20" stroke-width="0.9"/>
<line x1="200.3" y1="328.7" x2="203.5" y2="328.7" stroke="#231f20" stroke-width="0.9"/>
<text x="197.3" y="331.4" font-size="7.7" text-anchor="end" fill="#231f20" stroke="#231f20" stroke-width="0.22" textLength="12.4" lengthAdjust="spacingAndGlyphs">100</text>
<line x1="203.5" y1="446.4" x2="203.5" y2="449.4" stroke="#231f20" stroke-width="0.9"/>
<text x="203.5" y="459.4" font-size="7.7" text-anchor="middle" fill="#231f20" stroke="#231f20" stroke-width="0.22">0</text>
<line x1="208.24" y1="446.4" x2="208.24" y2="448.0" stroke="#231f20" stroke-width="0.9"/>
<line x1="212.98" y1="446.4" x2="212.98" y2="448.0" stroke="#231f20" stroke-width="0.9"/>
<line x1="217.72" y1="446.4" x2="217.72" y2="448.0" stroke="#231f20" stroke-width="0.9"/>
<line x1="222.46" y1="446.4" x2="222.46" y2="448.0" stroke="#231f20" stroke-width="0.9"/>
<line x1="227.2" y1="446.4" x2="227.2" y2="449.4" stroke="#231f20" stroke-width="0.9"/>
<text x="227.2" y="459.4" font-size="7.7" text-anchor="middle" fill="#231f20" stroke="#231f20" stroke-width="0.22">50K</text>
<line x1="231.94" y1="446.4" x2="231.94" y2="448.0" stroke="#231f20" stroke-width="0.9"/>
<line x1="236.68" y1="446.4" x2="236.68" y2="448.0" stroke="#231f20" stroke-width="0.9"/>
<line x1="241.42000000000002" y1="446.4" x2="241.42000000000002" y2="448.0" stroke="#231f20" stroke-width="0.9"/>
<line x1="246.16" y1="446.4" x2="246.16" y2="448.0" stroke="#231f20" stroke-width="0.9"/>
<line x1="250.9" y1="446.4" x2="250.9" y2="449.4" stroke="#231f20" stroke-width="0.9"/>
<text x="250.9" y="459.4" font-size="7.7" text-anchor="middle" fill="#231f20" stroke="#231f20" stroke-width="0.22">100K</text>
<line x1="255.64" y1="446.4" x2="255.64" y2="448.0" stroke="#231f20" stroke-width="0.9"/>
<line x1="260.38" y1="446.4" x2="260.38" y2="448.0" stroke="#231f20" stroke-width="0.9"/>
<line x1="265.12" y1="446.4" x2="265.12" y2="448.0" stroke="#231f20" stroke-width="0.9"/>
<line x1="269.86" y1="446.4" x2="269.86" y2="448.0" stroke="#231f20" stroke-width="0.9"/>
<line x1="274.6" y1="446.4" x2="274.6" y2="449.4" stroke="#231f20" stroke-width="0.9"/>
<text x="274.6" y="459.4" font-size="7.7" text-anchor="middle" fill="#231f20" stroke="#231f20" stroke-width="0.22">150K</text>
<line x1="279.34000000000003" y1="446.4" x2="279.34000000000003" y2="448.0" stroke="#231f20" stroke-width="0.9"/>
<line x1="284.08" y1="446.4" x2="284.08" y2="448.0" stroke="#231f20" stroke-width="0.9"/>
<line x1="288.82" y1="446.4" x2="288.82" y2="448.0" stroke="#231f20" stroke-width="0.9"/>
<line x1="293.56" y1="446.4" x2="293.56" y2="448.0" stroke="#231f20" stroke-width="0.9"/>
<line x1="298.3" y1="446.4" x2="298.3" y2="449.4" stroke="#231f20" stroke-width="0.9"/>
<text x="298.3" y="459.4" font-size="7.7" text-anchor="middle" fill="#231f20" stroke="#231f20" stroke-width="0.22">200K</text>
<line x1="303.03999999999996" y1="446.4" x2="303.03999999999996" y2="448.0" stroke="#231f20" stroke-width="0.9"/>
<line x1="307.78" y1="446.4" x2="307.78" y2="448.0" stroke="#231f20" stroke-width="0.9"/>
<line x1="312.52" y1="446.4" x2="312.52" y2="448.0" stroke="#231f20" stroke-width="0.9"/>
<line x1="317.26" y1="446.4" x2="317.26" y2="448.0" stroke="#231f20" stroke-width="0.9"/>
<line x1="322.0" y1="446.4" x2="322.0" y2="449.4" stroke="#231f20" stroke-width="0.9"/>
<text x="322.0" y="459.4" font-size="7.7" text-anchor="middle" fill="#231f20" stroke="#231f20" stroke-width="0.22">250K</text>
<text x="418.5" y="315.5" font-size="7.8" text-anchor="middle" fill="#231f20" stroke="#231f20" stroke-width="0.22" textLength="37.3" lengthAdjust="spacingAndGlyphs">sgCCND2</text>
<rect x="355.8" y="321.1" width="126.09999999999997" height="125.5" fill="none" stroke="#231f20" stroke-width="1.1"/>
<line x1="352.6" y1="446.6" x2="355.8" y2="446.6" stroke="#231f20" stroke-width="0.9"/>
<text x="349.5" y="449.3" font-size="7.7" text-anchor="end" fill="#231f20" stroke="#231f20" stroke-width="0.22" textLength="4.3" lengthAdjust="spacingAndGlyphs">0</text>
<line x1="354.0" y1="440.62" x2="355.8" y2="440.62" stroke="#231f20" stroke-width="0.9"/>
<line x1="354.0" y1="434.64000000000004" x2="355.8" y2="434.64000000000004" stroke="#231f20" stroke-width="0.9"/>
<line x1="354.0" y1="428.66" x2="355.8" y2="428.66" stroke="#231f20" stroke-width="0.9"/>
<line x1="352.6" y1="422.68" x2="355.8" y2="422.68" stroke="#231f20" stroke-width="0.9"/>
<text x="349.5" y="425.38" font-size="7.7" text-anchor="end" fill="#231f20" stroke="#231f20" stroke-width="0.22" textLength="8.4" lengthAdjust="spacingAndGlyphs">20</text>
<line x1="354.0" y1="416.70000000000005" x2="355.8" y2="416.70000000000005" stroke="#231f20" stroke-width="0.9"/>
<line x1="354.0" y1="410.72" x2="355.8" y2="410.72" stroke="#231f20" stroke-width="0.9"/>
<line x1="354.0" y1="404.74" x2="355.8" y2="404.74" stroke="#231f20" stroke-width="0.9"/>
<line x1="352.6" y1="398.76" x2="355.8" y2="398.76" stroke="#231f20" stroke-width="0.9"/>
<text x="349.5" y="401.46" font-size="7.7" text-anchor="end" fill="#231f20" stroke="#231f20" stroke-width="0.22" textLength="8.4" lengthAdjust="spacingAndGlyphs">40</text>
<line x1="354.0" y1="392.78000000000003" x2="355.8" y2="392.78000000000003" stroke="#231f20" stroke-width="0.9"/>
<line x1="354.0" y1="386.8" x2="355.8" y2="386.8" stroke="#231f20" stroke-width="0.9"/>
<line x1="354.0" y1="380.82" x2="355.8" y2="380.82" stroke="#231f20" stroke-width="0.9"/>
<line x1="352.6" y1="374.84000000000003" x2="355.8" y2="374.84000000000003" stroke="#231f20" stroke-width="0.9"/>
<text x="349.5" y="377.54" font-size="7.7" text-anchor="end" fill="#231f20" stroke="#231f20" stroke-width="0.22" textLength="8.4" lengthAdjust="spacingAndGlyphs">60</text>
<line x1="354.0" y1="368.86" x2="355.8" y2="368.86" stroke="#231f20" stroke-width="0.9"/>
<line x1="354.0" y1="362.88" x2="355.8" y2="362.88" stroke="#231f20" stroke-width="0.9"/>
<line x1="354.0" y1="356.9" x2="355.8" y2="356.9" stroke="#231f20" stroke-width="0.9"/>
<line x1="352.6" y1="350.92" x2="355.8" y2="350.92" stroke="#231f20" stroke-width="0.9"/>
<text x="349.5" y="353.62" font-size="7.7" text-anchor="end" fill="#231f20" stroke="#231f20" stroke-width="0.22" textLength="8.4" lengthAdjust="spacingAndGlyphs">80</text>
<line x1="354.0" y1="344.94" x2="355.8" y2="344.94" stroke="#231f20" stroke-width="0.9"/>
<line x1="354.0" y1="338.96000000000004" x2="355.8" y2="338.96000000000004" stroke="#231f20" stroke-width="0.9"/>
<line x1="354.0" y1="332.98" x2="355.8" y2="332.98" stroke="#231f20" stroke-width="0.9"/>
<line x1="352.6" y1="327.0" x2="355.8" y2="327.0" stroke="#231f20" stroke-width="0.9"/>
<text x="349.5" y="329.7" font-size="7.7" text-anchor="end" fill="#231f20" stroke="#231f20" stroke-width="0.22" textLength="12.4" lengthAdjust="spacingAndGlyphs">100</text>
<line x1="355.8" y1="446.6" x2="355.8" y2="449.6" stroke="#231f20" stroke-width="0.9"/>
<text x="355.8" y="459.4" font-size="7.7" text-anchor="middle" fill="#231f20" stroke="#231f20" stroke-width="0.22">0</text>
<line x1="360.54" y1="446.6" x2="360.54" y2="448.20000000000005" stroke="#231f20" stroke-width="0.9"/>
<line x1="365.28000000000003" y1="446.6" x2="365.28000000000003" y2="448.20000000000005" stroke="#231f20" stroke-width="0.9"/>
<line x1="370.02" y1="446.6" x2="370.02" y2="448.20000000000005" stroke="#231f20" stroke-width="0.9"/>
<line x1="374.76" y1="446.6" x2="374.76" y2="448.20000000000005" stroke="#231f20" stroke-width="0.9"/>
<line x1="379.5" y1="446.6" x2="379.5" y2="449.6" stroke="#231f20" stroke-width="0.9"/>
<text x="379.5" y="459.4" font-size="7.7" text-anchor="middle" fill="#231f20" stroke="#231f20" stroke-width="0.22">50K</text>
<line x1="384.24" y1="446.6" x2="384.24" y2="448.20000000000005" stroke="#231f20" stroke-width="0.9"/>
<line x1="388.98" y1="446.6" x2="388.98" y2="448.20000000000005" stroke="#231f20" stroke-width="0.9"/>
<line x1="393.72" y1="446.6" x2="393.72" y2="448.20000000000005" stroke="#231f20" stroke-width="0.9"/>
<line x1="398.46000000000004" y1="446.6" x2="398.46000000000004" y2="448.20000000000005" stroke="#231f20" stroke-width="0.9"/>
<line x1="403.2" y1="446.6" x2="403.2" y2="449.6" stroke="#231f20" stroke-width="0.9"/>
<text x="403.2" y="459.4" font-size="7.7" text-anchor="middle" fill="#231f20" stroke="#231f20" stroke-width="0.22">100K</text>
<line x1="407.94" y1="446.6" x2="407.94" y2="448.20000000000005" stroke="#231f20" stroke-width="0.9"/>
<line x1="412.68" y1="446.6" x2="412.68" y2="448.20000000000005" stroke="#231f20" stroke-width="0.9"/>
<line x1="417.42" y1="446.6" x2="417.42" y2="448.20000000000005" stroke="#231f20" stroke-width="0.9"/>
<line x1="422.16" y1="446.6" x2="422.16" y2="448.20000000000005" stroke="#231f20" stroke-width="0.9"/>
<line x1="426.9" y1="446.6" x2="426.9" y2="449.6" stroke="#231f20" stroke-width="0.9"/>
<text x="426.9" y="459.4" font-size="7.7" text-anchor="middle" fill="#231f20" stroke="#231f20" stroke-width="0.22">150K</text>
<line x1="431.64" y1="446.6" x2="431.64" y2="448.20000000000005" stroke="#231f20" stroke-width="0.9"/>
<line x1="436.38" y1="446.6" x2="436.38" y2="448.20000000000005" stroke="#231f20" stroke-width="0.9"/>
<line x1="441.12" y1="446.6" x2="441.12" y2="448.20000000000005" stroke="#231f20" stroke-width="0.9"/>
<line x1="445.86" y1="446.6" x2="445.86" y2="448.20000000000005" stroke="#231f20" stroke-width="0.9"/>
<line x1="450.6" y1="446.6" x2="450.6" y2="449.6" stroke="#231f20" stroke-width="0.9"/>
<text x="450.6" y="459.4" font-size="7.7" text-anchor="middle" fill="#231f20" stroke="#231f20" stroke-width="0.22">200K</text>
<line x1="455.34000000000003" y1="446.6" x2="455.34000000000003" y2="448.20000000000005" stroke="#231f20" stroke-width="0.9"/>
<line x1="460.08000000000004" y1="446.6" x2="460.08000000000004" y2="448.20000000000005" stroke="#231f20" stroke-width="0.9"/>
<line x1="464.82" y1="446.6" x2="464.82" y2="448.20000000000005" stroke="#231f20" stroke-width="0.9"/>
<line x1="469.56" y1="446.6" x2="469.56" y2="448.20000000000005" stroke="#231f20" stroke-width="0.9"/>
<line x1="474.3" y1="446.6" x2="474.3" y2="449.6" stroke="#231f20" stroke-width="0.9"/>
<text x="474.3" y="459.4" font-size="7.7" text-anchor="middle" fill="#231f20" stroke="#231f20" stroke-width="0.22">250K</text>
<polyline points="46.40,446.30 74.00,446.30 77.00,441.00 79.00,430.00 81.00,395.00 82.50,350.00 83.80,331.00 84.80,332.00 86.00,345.00 87.50,370.00 89.00,385.00 91.00,393.00 94.00,400.00 95.00,401.46 96.00,403.05 97.00,404.84 98.00,406.00 99.00,406.97 100.00,408.01 101.00,409.07 102.00,410.00 103.00,410.08 104.00,410.68 105.00,411.00 106.00,410.77 107.00,410.57 108.00,410.00 109.00,408.01 110.00,406.51 111.00,405.00 112.00,402.67 113.00,401.00 114.00,399.75 115.00,398.00 116.00,397.90 117.00,397.50 119.00,402.00 121.00,411.00 123.00,420.00 125.00,427.00 127.00,433.00 130.00,440.00 133.50,446.30 171.00,446.30" fill="none" stroke="#d0103a" stroke-width="1.55" stroke-linejoin="round"/>
<polyline points="46.40,446.30 74.00,446.30 75.50,443.00 77.50,440.00 79.00,432.00 81.00,395.00 83.00,345.00 84.00,331.00 85.30,330.00 86.50,338.00 88.00,360.00 89.50,380.00 90.30,384.00 91.00,388.00 92.00,390.00 93.00,396.00 94.00,397.00 95.00,399.00 96.00,398.00 97.00,402.00 98.00,401.00 99.00,403.00 100.00,402.00 101.00,405.00 102.00,405.00 103.00,403.00 104.00,408.00 106.00,409.00 107.00,406.00 108.00,407.00 109.00,404.00 110.00,403.00 111.00,401.00 112.00,396.00 112.70,399.00 113.00,394.00 114.00,388.00 114.50,392.00 115.00,384.00 115.80,390.00 116.50,379.00 117.00,388.00 117.50,392.00 118.00,386.00 118.50,389.00 119.50,396.00 121.00,404.00 123.00,412.00 125.00,420.00 127.00,426.00 129.50,431.00 132.00,437.00 134.80,446.30 171.00,446.30" fill="none" stroke="#1a4f8f" stroke-width="1.55" stroke-linejoin="round"/>
<polyline points="203.50,446.30 229.00,446.30 231.00,420.00 232.50,370.00 234.30,329.80 235.20,331.00 236.50,350.00 238.00,380.00 239.40,401.90 241.50,409.70 242.50,410.64 243.50,412.00 244.55,412.13 245.60,413.10 246.80,414.13 248.00,414.80 249.35,414.19 250.70,414.60 252.30,416.00 253.80,414.20 254.90,412.64 256.00,411.00 256.95,408.84 257.90,407.00 259.30,404.50 260.50,403.50 262.00,405.00 263.00,408.00 265.00,418.30 267.00,427.00 269.10,434.60 271.50,439.00 274.20,441.80 277.00,442.50 281.40,443.80 285.00,444.50 289.60,444.90 290.60,446.30 328.30,446.30" fill="none" stroke="#d0103a" stroke-width="1.55" stroke-linejoin="round"/>
<polyline points="203.50,446.30 229.20,446.30 231.00,425.00 232.80,370.00 234.90,329.80 235.80,331.00 236.80,360.00 238.40,397.80 240.50,424.40 241.50,426.28 242.50,429.00 243.53,429.94 244.57,430.53 245.60,431.60 246.80,432.22 248.00,432.50 249.35,432.55 250.70,432.20 251.85,431.15 253.00,431.50 253.95,430.37 254.90,431.34 255.85,430.06 256.80,430.10 257.90,428.87 259.00,428.50 259.95,428.24 260.90,426.40 262.50,423.00 264.00,419.90 265.20,424.00 266.15,426.20 267.10,428.50 268.50,433.00 270.20,436.70 271.10,438.64 272.00,439.50 274.20,442.80 277.00,444.00 279.40,444.90 283.00,445.50 287.60,446.30 328.30,446.30" fill="none" stroke="#1a4f8f" stroke-width="1.55" stroke-linejoin="round"/>
<polyline points="355.80,446.60 384.30,446.60 386.50,444.00 388.40,440.80 390.50,404.00 392.10,359.00 393.10,328.20 394.60,328.20 396.60,365.00 398.70,385.60 400.70,401.90 402.30,406.00 403.80,408.10 405.50,407.50 406.50,410.00 407.70,410.00 408.90,410.10 409.95,410.62 411.00,411.50 412.50,410.50 414.00,413.20 415.00,412.34 416.00,412.50 417.05,413.36 418.10,413.20 419.05,411.16 420.00,410.50 421.10,408.25 422.20,406.00 423.35,403.56 424.50,400.00 426.30,395.40 428.00,397.50 429.40,400.90 431.40,412.20 434.50,426.50 436.50,432.00 438.60,437.80 440.60,440.50 442.70,442.90 444.70,446.60 482.00,446.60" fill="none" stroke="#d0103a" stroke-width="1.55" stroke-linejoin="round"/>
<polyline points="355.80,446.60 384.30,446.60 387.00,444.00 389.40,440.80 391.50,404.00 393.50,348.70 394.60,328.20 395.60,328.20 397.60,367.10 399.70,404.00 401.70,426.50 403.00,431.50 403.90,433.30 404.80,434.70 405.90,435.99 407.00,436.50 407.98,437.30 408.95,437.86 409.92,437.86 410.90,437.80 411.95,438.08 413.00,437.00 414.00,436.50 415.00,437.50 416.00,436.94 417.00,436.50 418.05,437.31 419.10,436.70 420.05,436.09 421.00,435.00 422.07,434.51 423.13,432.11 424.20,431.60 425.10,429.75 426.00,428.00 427.00,426.09 428.00,425.00 428.90,424.27 429.80,423.40 431.50,425.50 432.50,427.12 433.50,428.50 434.50,429.47 435.50,432.00 436.55,433.40 437.60,435.70 438.55,436.75 439.50,438.50 441.60,441.80 444.10,446.60 482.00,446.60" fill="none" stroke="#1a4f8f" stroke-width="1.55" stroke-linejoin="round"/>
<text x="22.6" y="441.1" font-size="10.2" text-anchor="middle" fill="#231f20" stroke="#231f20" stroke-width="0.22" textLength="30.6" lengthAdjust="spacingAndGlyphs" transform="rotate(-90 22.6 441.1)">% of cells</text>
<line x1="18.7" y1="421.5" x2="18.7" y2="330" stroke="#231f20" stroke-width="1.0"/>
<path d="M18.7,326.8 L16.3,331 L21.1,331 Z" fill="#231f20"/>
<text x="42" y="471.8" font-size="8.6" text-anchor="start" fill="#231f20" stroke="#231f20" stroke-width="0.22" textLength="41" lengthAdjust="spacingAndGlyphs">DNA content</text>
<line x1="89.6" y1="468.5" x2="436" y2="468.5" stroke="#231f20" stroke-width="0.9"/>
<path d="M441,468.5 L436.8,466.1 L436.8,470.9 Z" fill="#231f20"/>
<g filter="url(#bl5)">
<path d="M73.5,591.0 70.5,591.3 67.5,591.3 64.5,591.1 61.5,590.6 58.5,589.8 56.5,589.1 54.5,588.1 52.5,586.7 51.3,585.5 50.1,584.0 49.3,582.5 48.7,580.5 48.5,578.5 48.7,576.5 49.2,574.5 50.1,572.5 51.7,570.0 53.5,568.0 56.0,565.7 59.0,563.4 61.5,561.9 64.5,560.1 82.9,550.5 84.5,549.5 86.0,548.4 87.5,547.0 89.0,545.1 90.0,543.5 92.7,538.5 94.3,536.0 96.0,534.1 97.5,532.9 98.5,532.3 99.5,531.8 100.5,531.6 101.5,531.4 102.5,531.4 104.0,531.7 105.0,532.0 106.0,532.5 108.0,533.9 109.5,535.3 110.8,537.0 111.7,538.5 112.3,540.0 112.8,542.0 113.4,545.5 113.8,548.5 113.9,551.0 113.9,554.0 113.6,556.5 113.1,559.5 112.4,562.5 111.4,565.5 110.2,568.5 109.2,570.5 108.3,572.0 107.1,573.5 106.0,574.7 104.5,576.0 102.0,577.9 93.5,583.6 91.0,585.2 87.0,587.3 84.5,588.4 82.0,589.2 78.0,590.3 75.5,590.8 73.5,591.0Z" fill="#e0e0e0"/>
<path d="M74.0,590.5 71.0,590.8 68.0,590.8 65.0,590.6 62.0,590.2 59.5,589.5 57.0,588.6 55.0,587.6 53.3,586.5 51.7,585.0 50.6,583.5 49.9,582.0 49.3,580.0 49.2,578.0 49.5,576.0 50.1,574.0 51.1,572.0 52.9,569.5 54.7,567.5 57.5,565.1 60.0,563.3 62.5,561.8 66.0,559.9 83.4,551.0 85.1,550.0 86.5,549.0 88.1,547.5 89.5,545.7 90.6,544.0 93.3,539.0 94.7,537.0 96.0,535.5 97.5,534.2 98.5,533.5 99.5,533.1 100.5,532.8 102.0,532.6 103.0,532.6 104.0,532.8 105.0,533.1 106.5,533.9 108.0,534.9 109.5,536.3 110.4,537.5 111.3,539.0 111.8,540.5 112.2,542.5 112.9,547.0 113.2,550.0 113.2,552.5 113.1,555.0 112.8,557.5 112.3,560.0 111.6,562.5 110.6,565.5 109.6,568.0 108.4,570.5 107.4,572.0 106.2,573.5 105.0,574.7 103.5,576.0 93.0,583.3 90.0,585.2 88.0,586.3 86.0,587.2 82.0,588.8 78.0,589.8 74.0,590.5Z" fill="#d8d8d8"/>
<path d="M74.0,590.0 71.0,590.3 68.0,590.3 65.5,590.2 62.5,589.7 60.0,589.1 57.5,588.2 55.5,587.2 53.8,586.0 52.3,584.5 51.2,583.0 50.7,582.0 50.3,581.0 50.0,579.5 50.0,578.0 50.2,576.0 50.8,574.0 51.8,572.0 52.8,570.5 53.6,569.5 55.5,567.5 58.0,565.3 61.0,563.3 64.5,561.2 68.0,559.4 84.0,551.5 85.7,550.5 87.1,549.5 88.5,548.2 90.0,546.4 91.5,544.0 93.7,540.0 95.1,538.0 96.5,536.3 98.0,535.1 99.0,534.5 100.0,534.1 101.0,533.8 102.5,533.7 103.5,533.8 105.0,534.1 107.0,535.1 108.5,536.2 109.5,537.3 110.4,538.5 111.0,540.0 111.3,541.0 111.6,542.5 112.3,548.0 112.5,551.0 112.5,553.5 112.3,556.0 111.9,558.5 111.4,560.5 110.7,563.0 109.8,565.5 108.8,568.0 107.8,570.0 106.8,571.5 106.0,572.6 104.7,574.0 103.5,575.1 101.7,576.5 93.5,582.3 90.0,584.6 88.0,585.8 86.0,586.7 82.0,588.3 78.0,589.4 74.0,590.0Z" fill="#d0d0d0"/>
<path d="M74.0,589.6 71.5,589.8 68.5,589.8 66.0,589.7 63.0,589.3 60.5,588.7 58.0,587.8 56.0,586.7 54.5,585.7 53.2,584.5 52.1,583.0 51.3,581.5 50.8,579.5 50.7,578.0 50.9,576.0 51.6,574.0 52.6,572.0 53.2,571.0 54.4,569.5 56.3,567.5 59.0,565.2 62.0,563.2 64.5,561.7 68.5,559.7 76.5,555.8 84.8,552.0 86.5,551.1 87.5,550.4 89.0,549.0 90.5,547.2 91.9,545.0 94.8,540.0 95.8,538.5 97.2,537.0 98.5,535.9 99.5,535.4 100.5,535.0 101.5,534.7 102.5,534.7 103.5,534.7 104.5,534.9 106.0,535.4 107.0,535.9 108.5,537.0 109.4,538.0 110.2,539.5 110.6,540.5 110.8,542.0 111.1,545.0 111.6,549.0 111.7,552.5 111.7,554.5 111.5,556.5 111.1,558.5 110.7,560.5 109.7,563.5 108.8,566.0 107.7,568.5 106.9,570.0 105.9,571.5 105.1,572.5 104.0,573.6 102.5,575.0 92.5,582.4 89.5,584.3 86.0,586.2 82.0,587.8 78.0,588.9 74.0,589.6Z" fill="#c8c8c8"/>
<path d="M74.5,589.0 72.0,589.3 69.0,589.3 66.0,589.2 63.5,588.8 61.0,588.2 58.5,587.3 56.5,586.2 55.0,585.2 53.8,584.0 52.7,582.5 52.2,581.5 51.8,580.5 51.5,579.0 51.6,577.0 51.8,575.5 52.3,574.0 53.3,572.0 54.3,570.5 55.2,569.5 57.1,567.5 60.0,565.2 63.0,563.2 66.5,561.2 70.5,559.2 78.0,555.8 85.5,552.7 87.0,551.9 88.4,551.0 89.9,549.5 91.1,548.0 92.5,545.8 95.6,540.5 96.6,539.0 97.9,537.5 99.0,536.7 100.0,536.1 101.0,535.7 102.0,535.5 103.0,535.5 104.0,535.5 105.0,535.7 106.0,536.1 107.0,536.6 108.0,537.3 109.0,538.5 109.6,539.5 110.1,541.0 110.2,542.5 110.3,546.0 110.9,551.0 110.9,554.0 110.7,556.0 110.4,558.0 109.6,561.5 108.7,564.0 107.7,566.5 106.7,568.5 105.9,570.0 104.8,571.5 104.0,572.5 101.9,574.5 92.5,581.7 89.5,583.7 86.0,585.6 82.0,587.2 78.5,588.3 74.5,589.0Z" fill="#c0c0c0"/>
<path d="M74.0,588.6 71.5,588.8 68.5,588.8 66.0,588.6 63.5,588.2 61.5,587.7 59.0,586.8 57.0,585.7 55.5,584.6 54.4,583.5 53.4,582.0 52.7,580.5 52.3,578.5 52.3,577.0 52.8,575.0 53.3,573.5 54.4,571.5 55.2,570.5 56.4,569.0 58.5,567.0 61.5,564.8 65.0,562.6 68.5,560.8 74.0,558.3 80.0,555.8 86.4,553.5 88.0,552.7 89.0,552.0 90.5,550.5 92.0,548.5 95.0,543.6 97.3,539.5 98.5,538.1 99.5,537.3 101.0,536.5 102.0,536.3 103.0,536.1 104.0,536.2 105.0,536.4 106.0,536.7 107.0,537.3 107.9,538.0 108.7,539.0 109.2,540.0 109.5,541.0 109.6,542.5 109.3,546.0 110.0,551.0 110.1,553.0 110.0,555.0 109.8,557.0 109.5,558.5 109.2,560.0 108.6,562.0 107.8,564.0 106.7,566.5 105.7,568.5 104.8,570.0 103.3,572.0 101.0,574.2 92.0,581.3 88.5,583.7 85.5,585.3 83.5,586.1 81.5,586.9 78.0,587.9 74.0,588.6Z" fill="#b8b8b8"/>
<path d="M74.0,588.0 71.5,588.2 68.5,588.2 66.0,588.0 63.5,587.6 61.5,587.1 59.5,586.3 57.5,585.2 56.0,584.0 54.7,582.5 53.8,581.0 53.3,579.5 53.2,578.0 53.2,576.5 53.7,574.5 54.4,573.0 55.3,571.5 56.4,570.0 57.3,569.0 58.5,567.8 60.0,566.6 61.5,565.4 63.5,564.1 67.0,562.2 72.0,559.8 77.0,557.7 81.5,556.2 87.5,554.5 88.5,554.1 89.5,553.5 90.6,552.5 92.0,550.6 96.1,544.0 98.0,540.0 98.7,539.0 99.2,538.5 100.0,537.8 101.0,537.3 102.5,536.8 103.5,536.8 104.5,536.9 105.5,537.1 106.5,537.6 107.5,538.4 108.0,539.0 108.6,540.0 108.9,541.0 108.9,542.5 108.4,545.5 108.3,546.5 109.1,552.0 109.2,554.0 109.1,555.5 108.7,558.5 108.2,560.5 107.7,562.0 105.9,566.0 104.9,568.0 104.0,569.5 102.5,571.5 100.5,573.5 91.5,580.9 89.5,582.3 88.0,583.3 85.0,584.9 81.5,586.3 78.0,587.3 76.0,587.7 74.0,588.0Z" fill="#afafaf"/>
<path d="M73.5,587.5 71.0,587.7 68.5,587.7 66.0,587.4 63.5,586.9 61.5,586.3 59.5,585.5 58.0,584.6 56.7,583.5 55.7,582.5 54.8,581.0 54.3,579.5 54.0,578.0 54.1,576.5 54.4,575.0 55.2,573.0 56.1,571.5 57.3,570.0 58.2,569.0 59.5,567.8 61.0,566.5 64.5,564.2 69.0,561.8 71.5,560.7 75.0,559.2 79.5,557.7 83.5,556.7 88.5,556.1 89.5,555.8 90.2,555.5 91.0,554.8 91.5,554.2 94.4,549.0 97.0,545.0 97.7,543.5 98.3,541.5 98.7,540.5 99.3,539.5 99.7,539.0 100.3,538.5 101.0,538.0 102.0,537.6 103.0,537.4 104.0,537.4 105.0,537.6 106.0,538.0 106.5,538.3 107.3,539.0 107.7,539.5 108.1,540.5 108.3,541.5 108.1,543.0 107.3,545.5 107.1,546.5 107.2,547.5 107.9,550.5 108.2,552.5 108.3,554.5 108.2,556.5 107.7,559.0 107.3,560.5 106.7,562.0 104.8,566.0 102.7,569.5 101.1,571.5 99.1,573.5 91.5,580.0 89.5,581.6 87.5,582.9 86.0,583.8 84.0,584.7 81.0,585.9 77.5,586.9 75.5,587.3 73.5,587.5Z" fill="#a7a7a7"/>
<path d="M72.5,587.0 70.0,587.1 68.0,587.0 65.5,586.7 63.5,586.3 61.5,585.6 60.0,584.9 58.6,584.0 57.4,583.0 56.5,582.0 55.6,580.5 55.1,579.0 54.9,577.5 55.1,576.0 55.5,574.5 56.1,573.0 57.0,571.5 58.2,570.0 59.6,568.5 61.0,567.3 63.0,565.8 65.5,564.3 67.5,563.2 70.5,561.8 73.0,560.7 77.5,559.1 80.0,558.5 82.0,558.1 84.0,557.9 85.5,557.9 90.0,558.4 91.0,558.3 91.5,558.1 92.0,557.7 92.5,557.0 94.1,552.5 95.3,550.0 96.5,548.2 98.3,546.0 98.9,545.0 99.1,544.0 99.3,541.5 99.7,540.5 100.3,539.5 100.8,539.0 101.5,538.5 102.0,538.3 103.0,538.0 104.5,538.1 105.5,538.4 106.0,538.7 106.5,539.1 107.2,540.0 107.4,540.5 107.6,541.5 107.6,542.0 107.3,543.0 107.0,543.7 105.9,545.5 105.6,546.5 105.7,547.5 106.7,550.5 107.2,553.0 107.3,555.5 107.1,557.5 106.7,559.5 105.7,562.0 104.5,564.2 101.3,569.5 100.1,571.0 99.1,572.0 92.2,578.5 89.5,580.8 87.0,582.5 85.5,583.3 83.5,584.3 80.0,585.6 78.0,586.2 76.0,586.6 72.5,587.0Z" fill="#9e9e9e"/>
<path d="M103.0,545.6 102.5,545.8 102.0,545.6 101.5,545.1 101.0,544.4 100.4,543.0 100.3,542.0 100.3,541.5 100.7,540.5 101.0,540.0 101.4,539.5 102.0,539.1 103.0,538.8 104.0,538.7 104.5,538.8 105.5,539.2 105.9,539.5 106.4,540.0 106.8,541.0 106.8,542.0 106.4,543.0 105.5,544.1 104.5,544.9 103.0,545.6ZM75.5,586.1 73.0,586.4 70.5,586.5 68.0,586.4 66.0,586.1 64.0,585.7 62.0,585.0 60.1,584.0 58.7,583.0 57.7,582.0 56.7,580.5 56.1,579.0 55.9,577.5 56.0,576.0 56.4,574.5 57.0,573.0 58.0,571.5 59.2,570.0 61.0,568.2 63.0,566.6 65.0,565.3 67.5,563.9 70.0,562.7 73.5,561.2 76.5,560.2 78.5,559.7 80.5,559.3 82.0,559.2 83.5,559.1 85.0,559.3 86.0,559.4 91.0,560.9 92.0,561.0 93.0,560.8 93.5,560.5 93.9,560.0 94.1,559.5 94.4,558.5 94.8,555.5 95.1,554.0 95.8,552.0 96.7,550.5 98.0,548.8 99.5,547.6 100.5,547.1 101.5,546.6 102.0,546.6 102.5,546.8 103.5,547.8 104.5,549.1 105.0,550.0 105.7,551.5 106.0,552.7 106.2,554.0 106.3,555.5 106.2,557.0 105.9,558.5 105.6,559.5 104.7,561.5 104.0,562.7 101.7,566.0 99.5,569.5 97.5,572.0 92.1,577.5 89.9,579.5 87.5,581.4 85.0,582.9 82.0,584.3 79.0,585.3 75.5,586.1Z" fill="#8c8c8c"/>
<path d="M103.5,543.6 103.0,543.5 102.5,543.3 102.0,542.9 101.7,542.5 101.6,542.0 101.5,541.5 101.6,541.0 101.9,540.5 102.4,540.0 103.0,539.7 104.0,539.6 105.0,539.9 105.5,540.4 105.8,541.0 105.8,541.5 105.7,542.0 105.5,542.4 105.0,543.0 104.5,543.3 103.5,543.6ZM74.5,585.6 72.5,585.8 70.0,585.8 67.5,585.6 65.5,585.3 63.5,584.7 61.8,584.0 60.2,583.0 59.0,582.0 58.2,581.0 57.4,579.5 57.1,578.5 56.9,577.0 57.1,575.5 57.5,574.0 58.3,572.5 59.3,571.0 60.7,569.5 62.5,567.9 64.5,566.4 67.0,564.9 69.5,563.6 72.5,562.4 75.5,561.4 78.0,560.7 81.0,560.3 83.5,560.4 85.0,560.7 86.0,561.0 90.0,562.6 92.0,563.2 93.0,563.4 94.0,563.5 95.0,563.4 95.5,563.2 96.0,562.8 96.4,562.0 96.4,561.0 96.2,557.5 96.3,555.5 96.8,553.5 97.5,552.1 98.5,550.8 99.0,550.4 100.0,549.8 101.0,549.6 101.5,549.6 102.5,550.0 103.0,550.3 103.6,551.0 104.3,552.0 104.7,553.0 105.0,554.0 105.1,555.0 105.1,556.5 105.0,557.5 104.6,559.0 104.0,560.2 103.0,561.7 102.0,562.7 99.9,564.5 99.4,565.0 98.8,566.0 98.1,568.0 97.4,569.5 96.4,571.0 95.3,572.5 92.3,576.0 90.4,578.0 88.1,580.0 86.0,581.5 83.5,582.9 80.5,584.1 77.5,585.0 74.5,585.6Z" fill="#797979"/>
<path d="M101.0,560.5 100.5,560.6 100.0,560.6 99.5,560.4 99.0,559.9 98.5,559.1 98.3,558.5 98.1,557.5 98.0,556.5 98.2,555.0 98.5,554.2 98.9,553.5 99.5,552.8 100.0,552.5 100.5,552.3 101.0,552.2 101.5,552.3 102.0,552.5 102.5,552.9 103.0,553.5 103.4,554.5 103.6,556.0 103.4,557.5 103.0,558.7 102.5,559.4 102.0,559.9 101.0,560.5ZM73.0,585.0 70.5,585.1 68.0,584.9 66.0,584.6 64.0,584.0 62.5,583.3 61.0,582.4 59.9,581.5 58.8,580.0 58.3,579.0 58.0,577.5 58.0,576.0 58.4,574.5 59.1,573.0 60.0,571.5 61.3,570.0 62.9,568.5 64.5,567.3 66.5,566.0 68.5,564.9 71.0,563.7 73.5,562.8 75.5,562.2 78.0,561.7 80.0,561.4 81.5,561.4 83.0,561.6 84.0,561.8 85.5,562.2 87.5,563.1 92.3,565.5 93.5,566.2 94.4,567.0 94.7,567.5 94.9,568.0 95.0,569.0 94.7,570.0 94.1,571.5 92.9,573.5 91.4,575.5 89.7,577.5 88.0,579.1 86.5,580.3 85.0,581.3 83.0,582.4 81.0,583.2 79.0,583.9 77.0,584.4 75.0,584.8 73.0,585.0Z" fill="#676767"/>
<path d="M75.0,584.1 73.0,584.3 70.5,584.4 68.5,584.2 66.5,583.8 65.0,583.4 63.5,582.8 62.2,582.0 61.0,581.0 60.1,580.0 59.4,578.5 59.2,577.5 59.2,576.0 59.5,574.5 60.2,573.0 61.1,571.5 62.0,570.5 63.5,569.0 65.0,567.9 67.0,566.6 69.0,565.5 71.5,564.4 73.5,563.6 75.5,563.1 78.0,562.6 79.5,562.5 81.0,562.5 82.5,562.7 84.0,563.1 85.5,563.7 87.5,564.7 89.6,566.0 90.9,567.0 91.8,568.0 92.3,569.0 92.4,570.0 92.3,571.0 91.8,572.5 90.7,574.5 89.7,576.0 88.4,577.5 87.0,578.8 85.5,580.0 84.0,580.9 82.5,581.8 80.5,582.6 79.0,583.2 77.0,583.7 75.0,584.1Z" fill="#545454"/>
<path d="M73.0,583.5 71.0,583.6 69.5,583.5 67.5,583.2 66.0,582.8 64.5,582.2 63.3,581.5 62.1,580.5 61.5,579.8 61.0,579.0 60.6,578.0 60.4,577.0 60.5,575.5 60.7,574.5 61.4,573.0 62.4,571.5 63.2,570.5 64.5,569.3 66.0,568.2 67.5,567.2 69.5,566.1 71.5,565.2 73.5,564.6 75.5,564.0 77.5,563.7 79.0,563.6 80.5,563.6 82.0,563.9 83.5,564.3 85.0,564.9 86.5,565.8 87.6,566.5 88.8,567.5 89.6,568.5 90.1,569.5 90.3,570.5 90.2,572.0 89.9,573.0 89.3,574.5 88.3,576.0 87.0,577.5 85.9,578.5 84.5,579.6 83.0,580.6 81.0,581.6 79.0,582.3 77.0,582.9 75.0,583.3 73.0,583.5Z" fill="#454545"/>
<path d="M74.0,582.6 71.0,582.7 69.5,582.5 68.0,582.3 66.5,581.8 65.5,581.4 64.5,580.9 63.4,580.0 62.6,579.0 62.0,578.0 61.8,577.0 61.7,576.0 61.9,575.0 62.2,574.0 62.7,573.0 63.5,571.8 64.6,570.5 65.8,569.5 67.0,568.6 68.5,567.6 70.0,566.9 72.0,566.0 74.0,565.4 75.5,565.0 77.0,564.8 78.5,564.7 80.0,564.8 81.0,565.0 82.5,565.4 83.5,565.7 84.9,566.5 86.0,567.2 87.3,568.5 88.0,569.5 88.4,570.5 88.5,571.5 88.4,572.5 88.0,574.0 87.2,575.5 86.4,576.5 85.5,577.5 84.0,578.8 82.5,579.8 81.0,580.6 79.5,581.2 77.5,581.9 76.0,582.2 74.0,582.6Z" fill="#383838"/>
<path d="M74.5,581.5 73.0,581.7 71.5,581.7 69.0,581.4 67.7,581.0 66.5,580.5 64.9,579.5 64.4,579.0 63.7,578.0 63.5,577.5 63.3,576.5 63.3,575.5 63.5,574.5 63.9,573.5 64.4,572.5 65.2,571.5 66.2,570.5 67.5,569.5 68.5,568.8 70.0,568.0 71.5,567.3 73.0,566.7 74.5,566.3 77.0,566.0 78.5,565.9 79.5,566.0 81.0,566.3 82.0,566.7 83.0,567.1 84.0,567.7 85.0,568.5 85.8,569.5 86.4,570.5 86.6,571.5 86.7,572.5 86.5,573.5 86.1,574.5 85.5,575.5 84.8,576.5 83.8,577.5 82.6,578.5 81.0,579.5 79.5,580.2 78.0,580.7 76.5,581.2 74.5,581.5Z" fill="#2c2c2c"/>
<path d="M73.5,580.5 71.0,580.4 68.9,580.0 68.0,579.7 67.0,579.1 66.2,578.5 65.8,578.0 65.5,577.5 65.1,576.5 65.0,576.0 65.0,575.0 65.5,573.5 66.6,572.0 68.1,570.5 69.5,569.6 70.5,569.0 72.5,568.1 75.0,567.5 77.5,567.3 79.5,567.5 81.1,568.0 82.0,568.4 82.8,569.0 83.5,569.6 84.2,570.5 84.5,571.2 84.7,572.0 84.7,573.0 84.5,574.0 84.0,575.0 83.3,576.0 82.4,577.0 81.5,577.7 80.3,578.5 79.0,579.2 76.5,580.0 75.0,580.3 73.5,580.5Z" fill="#1f1f1f"/>
<path d="M74.5,579.0 72.5,579.1 71.0,578.9 69.5,578.4 68.7,578.0 68.1,577.5 67.4,576.5 67.1,575.5 67.2,574.5 67.5,573.8 67.9,573.0 69.0,571.8 70.5,570.6 72.0,569.8 74.0,569.2 76.0,568.8 77.5,568.9 78.5,569.0 79.5,569.3 80.8,570.0 81.8,571.0 82.1,571.5 82.4,572.5 82.5,573.0 82.3,574.0 82.0,574.7 81.5,575.5 81.0,576.0 80.0,576.9 78.5,577.8 76.5,578.6 74.5,579.0Z" fill="#181818"/>
</g>
<g filter="url(#bl5)">
<path d="M185.5,587.5 182.5,587.4 179.0,587.1 174.5,586.3 171.5,585.5 169.1,584.5 167.6,583.5 166.5,582.4 165.6,581.0 165.2,580.0 164.9,579.0 164.8,577.0 165.1,574.5 165.8,572.0 166.9,569.5 168.2,567.0 170.3,564.0 172.3,561.5 174.2,559.5 176.0,557.8 178.5,555.6 180.5,554.1 184.0,551.8 190.8,548.0 193.0,546.5 194.5,545.0 197.0,542.0 198.8,540.0 206.5,532.5 208.0,531.2 209.5,530.1 211.0,529.2 213.0,528.1 216.0,526.9 218.5,526.3 221.0,526.0 222.5,526.0 224.0,526.2 226.5,526.7 228.0,527.3 229.5,527.9 232.0,529.3 234.5,531.2 236.3,533.0 237.4,534.5 238.1,536.0 238.8,538.0 239.0,540.5 238.8,545.5 239.0,552.5 238.9,556.0 238.7,558.5 238.2,561.5 237.6,564.0 236.8,566.5 235.8,569.0 234.8,571.0 233.3,573.5 231.7,575.5 230.5,576.8 229.5,577.8 228.0,578.9 227.0,579.5 225.5,580.3 224.5,580.7 223.0,581.1 221.5,581.3 220.0,581.4 219.0,581.3 217.0,580.9 215.0,580.1 211.0,578.0 210.0,577.7 209.5,577.6 208.5,577.7 207.5,578.1 206.5,578.7 202.5,581.8 200.5,583.1 198.5,584.3 196.5,585.2 194.0,586.1 191.5,586.8 188.5,587.3 185.5,587.5Z" fill="#e0e0e0"/>
<path d="M186.5,587.0 183.5,587.0 180.5,586.7 176.5,585.9 173.5,585.1 171.5,584.3 169.5,583.2 168.1,582.0 167.0,580.5 166.4,579.0 166.1,577.0 166.2,575.0 166.7,572.5 167.7,570.0 169.2,567.0 170.8,564.5 172.8,562.0 174.7,560.0 176.5,558.2 179.0,556.1 181.0,554.7 184.5,552.4 191.7,548.5 193.5,547.2 195.0,545.6 198.1,541.5 201.0,538.5 206.5,533.4 208.5,531.7 210.5,530.3 213.0,528.9 215.5,527.9 218.0,527.2 219.5,526.9 221.0,526.8 223.5,526.9 226.0,527.4 227.5,527.8 229.0,528.4 231.5,529.8 233.8,531.5 235.5,533.1 236.8,535.0 237.7,537.0 238.1,538.5 238.3,541.0 238.2,545.5 238.5,552.0 238.4,555.5 238.2,558.0 237.7,561.0 237.1,563.5 236.4,566.0 235.4,568.5 234.4,570.5 233.2,572.5 231.5,574.7 229.5,576.8 228.5,577.6 227.0,578.7 226.0,579.2 224.5,579.8 223.0,580.3 221.5,580.5 219.5,580.5 217.5,580.2 216.5,579.8 215.0,579.2 210.9,577.0 209.5,576.7 208.5,576.8 207.5,577.3 206.5,578.0 203.0,580.8 201.0,582.3 199.5,583.2 197.5,584.3 195.0,585.3 192.0,586.3 189.5,586.7 186.5,587.0Z" fill="#d8d8d8"/>
<path d="M187.0,586.5 184.0,586.5 181.0,586.2 178.0,585.6 175.0,584.7 172.5,583.6 170.7,582.5 169.5,581.5 168.4,580.0 167.7,578.5 167.4,576.5 167.4,574.5 167.8,572.5 168.7,570.0 169.9,567.5 171.4,565.0 173.4,562.5 175.2,560.5 177.0,558.7 179.5,556.6 181.5,555.2 185.5,552.7 192.0,549.4 193.5,548.5 194.2,548.0 195.0,547.2 195.5,546.5 197.3,543.5 198.4,542.0 200.5,539.7 208.5,532.6 210.5,531.2 213.0,529.7 215.5,528.6 217.0,528.2 218.5,527.8 221.0,527.6 223.5,527.7 226.0,528.1 228.5,529.0 231.0,530.3 233.0,531.7 234.8,533.5 235.9,535.0 236.7,536.5 237.3,538.5 237.5,541.0 237.6,545.5 237.9,552.0 237.9,555.0 237.7,557.5 237.2,560.5 236.7,563.0 235.9,565.5 235.1,567.5 233.9,570.0 232.7,572.0 231.2,574.0 230.0,575.4 229.0,576.3 228.0,577.1 226.5,578.1 225.0,578.8 224.0,579.2 223.0,579.4 221.5,579.7 219.5,579.7 217.5,579.3 216.0,578.8 215.0,578.3 211.8,576.5 210.7,576.0 209.5,575.7 208.5,575.9 208.0,576.1 207.0,576.8 203.3,580.0 201.5,581.4 199.5,582.7 197.5,583.8 195.0,584.9 192.5,585.7 189.5,586.3 187.0,586.5Z" fill="#d0d0d0"/>
<path d="M187.0,586.0 184.0,586.0 181.5,585.7 179.0,585.1 176.0,584.2 174.0,583.3 172.0,582.0 171.0,581.2 170.4,580.5 169.4,579.0 168.8,577.5 168.6,575.5 168.7,573.5 169.2,571.5 169.9,569.5 171.1,567.0 172.7,564.5 174.3,562.5 176.2,560.5 178.0,558.8 180.0,557.2 182.5,555.4 186.0,553.3 188.5,552.1 193.5,549.8 194.9,549.0 195.6,548.5 196.1,548.0 196.5,547.4 197.6,544.5 198.5,543.0 199.2,542.0 200.5,540.5 202.5,538.6 209.0,533.2 211.0,531.7 213.0,530.5 215.5,529.4 218.0,528.7 220.5,528.3 223.0,528.4 225.5,528.8 228.0,529.6 230.5,530.8 232.5,532.2 233.8,533.5 235.0,535.0 235.8,536.5 236.5,538.5 236.7,540.0 236.8,541.5 236.9,545.5 237.3,551.5 237.3,555.0 237.1,557.5 236.7,560.5 236.1,563.0 235.3,565.5 234.3,568.0 233.2,570.0 232.0,571.9 230.8,573.5 229.5,574.9 228.5,575.8 227.0,576.9 226.0,577.5 224.5,578.1 223.5,578.5 222.5,578.7 221.0,578.9 219.0,578.8 217.0,578.3 215.0,577.4 211.5,575.4 210.5,574.9 209.5,574.7 208.5,574.9 208.0,575.2 207.0,575.9 203.7,579.0 201.5,580.8 199.5,582.2 197.5,583.3 195.0,584.4 192.5,585.2 190.0,585.7 187.0,586.0Z" fill="#c8c8c8"/>
<path d="M187.0,585.5 184.5,585.5 182.0,585.2 179.5,584.6 177.0,583.7 175.0,582.7 173.1,581.5 171.6,580.0 170.6,578.5 170.1,577.0 169.8,575.0 169.9,573.0 170.4,571.0 171.3,568.5 172.4,566.5 173.7,564.5 175.3,562.5 177.0,560.7 179.0,558.9 181.0,557.3 184.0,555.4 186.0,554.3 189.0,552.8 196.4,550.0 198.4,549.0 198.9,548.5 199.1,548.0 198.7,546.0 198.6,545.5 198.8,544.5 199.4,543.0 200.4,541.5 201.3,540.5 202.5,539.4 209.5,533.8 211.5,532.3 213.5,531.1 216.0,530.1 218.5,529.4 220.5,529.1 223.0,529.1 225.5,529.5 228.0,530.4 230.0,531.4 232.0,532.8 233.2,534.0 234.4,535.5 235.1,537.0 235.8,539.0 236.1,541.5 236.3,545.5 236.7,550.5 236.7,555.0 236.5,557.5 236.2,560.0 235.6,562.5 234.8,565.0 233.8,567.5 232.8,569.5 231.8,571.0 230.5,572.8 228.5,574.8 227.5,575.6 226.0,576.6 224.5,577.3 223.5,577.6 222.5,577.9 221.0,578.0 219.0,577.9 217.0,577.4 215.5,576.8 214.5,576.3 211.0,574.1 210.0,573.7 209.0,573.7 208.5,573.8 207.5,574.4 203.5,578.5 201.5,580.2 199.5,581.6 197.5,582.8 195.0,583.9 192.5,584.7 190.0,585.2 187.0,585.5Z" fill="#c0c0c0"/>
<path d="M191.0,584.6 188.5,584.9 185.5,585.0 183.0,584.7 180.5,584.2 178.0,583.3 176.0,582.3 174.1,581.0 172.7,579.5 171.7,578.0 171.2,576.5 170.9,574.5 171.1,572.5 171.5,570.5 172.3,568.5 173.7,566.0 175.1,564.0 177.3,561.5 180.0,559.0 183.0,556.9 186.0,555.2 189.0,553.8 192.0,552.7 195.5,551.8 200.5,551.0 201.9,550.5 202.6,550.0 203.5,549.1 203.9,548.5 204.2,547.5 204.3,547.0 204.1,546.5 203.5,546.0 201.5,545.5 201.0,545.3 200.6,545.0 200.4,544.5 200.3,544.0 200.4,543.5 200.8,542.5 201.9,541.0 203.5,539.5 207.0,536.9 211.0,533.7 213.5,532.0 215.5,531.1 218.0,530.3 220.5,529.9 222.5,529.9 225.0,530.2 227.0,530.8 229.0,531.7 231.0,533.0 232.6,534.5 233.7,536.0 234.4,537.5 235.1,539.5 235.5,542.0 235.6,545.5 236.1,551.0 236.2,554.0 236.1,556.5 235.8,559.0 235.3,561.5 234.7,563.5 233.8,566.0 232.9,568.0 231.7,570.0 230.6,571.5 229.5,572.8 228.5,573.8 227.5,574.7 226.0,575.7 225.0,576.2 223.5,576.8 222.0,577.1 221.0,577.2 219.0,577.1 217.0,576.5 215.0,575.6 211.5,573.3 210.5,572.7 209.5,572.5 209.0,572.5 208.5,572.6 208.0,572.9 207.0,573.8 204.2,577.0 202.7,578.5 200.0,580.7 197.5,582.3 195.5,583.2 193.0,584.1 191.0,584.6Z" fill="#b8b8b8"/>
<path d="M191.0,584.1 188.5,584.4 186.0,584.4 183.5,584.2 181.0,583.6 178.5,582.7 176.5,581.6 175.1,580.5 173.7,579.0 172.8,577.5 172.3,576.0 172.0,574.5 172.1,572.5 172.5,570.5 173.3,568.5 174.3,566.5 175.7,564.5 176.9,563.0 178.0,561.8 179.5,560.4 181.0,559.2 184.0,557.2 187.5,555.4 190.5,554.3 193.5,553.5 196.5,553.1 201.5,553.0 202.5,552.8 203.5,552.2 204.5,551.1 205.5,549.2 206.2,547.0 206.4,545.5 206.3,545.0 206.2,544.5 205.6,544.0 205.0,543.8 203.5,543.6 203.0,543.4 202.6,543.0 202.6,542.5 202.8,542.0 203.5,541.0 204.6,540.0 207.5,537.8 211.5,534.4 214.0,532.7 216.0,531.8 218.0,531.1 220.0,530.8 222.5,530.7 224.5,530.9 226.5,531.5 228.5,532.3 230.3,533.5 231.5,534.6 232.6,536.0 233.7,538.0 234.4,540.0 234.8,542.0 234.9,545.0 235.4,550.0 235.6,553.5 235.5,556.0 235.2,558.5 234.8,561.0 234.2,563.0 233.3,565.5 232.4,567.5 231.2,569.5 230.2,571.0 229.0,572.3 228.0,573.3 227.0,574.1 225.5,575.0 224.0,575.7 223.0,576.0 222.0,576.2 220.5,576.3 218.5,576.1 216.5,575.4 214.5,574.3 210.5,571.5 209.5,571.1 209.0,571.1 208.5,571.2 208.0,571.5 207.0,572.5 204.7,575.5 202.9,577.5 201.5,578.9 200.0,580.1 198.0,581.4 195.5,582.7 193.5,583.4 191.0,584.1Z" fill="#afafaf"/>
<path d="M191.0,583.5 188.5,583.9 186.0,583.9 184.0,583.7 181.5,583.1 179.5,582.3 177.5,581.2 175.9,580.0 174.6,578.5 173.8,577.0 173.3,575.5 173.1,574.0 173.2,572.0 173.7,570.0 174.2,568.5 175.3,566.5 176.7,564.5 177.9,563.0 179.0,561.9 180.5,560.6 182.0,559.4 183.5,558.4 185.5,557.3 187.5,556.3 189.0,555.7 192.0,554.9 195.0,554.4 196.5,554.4 198.0,554.5 203.0,555.3 203.5,555.3 204.0,555.1 204.5,554.7 205.0,554.0 206.0,551.7 207.0,548.8 207.8,546.0 208.0,544.0 208.0,543.0 207.6,541.0 207.6,540.5 207.8,540.0 208.8,538.5 211.2,536.0 212.9,534.5 214.5,533.5 216.0,532.7 218.0,532.0 220.0,531.6 222.0,531.5 224.0,531.7 226.0,532.2 228.0,533.0 229.5,534.0 231.0,535.4 232.0,536.7 233.1,538.5 233.9,540.5 234.1,542.0 234.3,545.5 234.8,550.0 235.0,553.0 234.9,555.5 234.7,558.0 234.3,560.5 233.7,562.5 233.0,564.5 232.2,566.5 231.1,568.5 230.0,570.0 229.0,571.2 228.0,572.3 227.0,573.1 225.5,574.1 224.0,574.8 223.0,575.1 222.0,575.3 220.5,575.4 218.5,575.2 217.0,574.7 216.0,574.2 214.0,573.0 211.0,570.5 210.0,569.8 209.0,569.5 208.5,569.5 208.0,569.7 207.5,570.2 207.0,570.8 204.6,574.5 203.1,576.5 201.7,578.0 200.0,579.4 198.0,580.8 196.0,581.9 193.5,582.9 191.0,583.5Z" fill="#a7a7a7"/>
<path d="M190.5,583.0 188.5,583.3 186.0,583.3 183.5,582.9 181.5,582.4 179.5,581.5 177.9,580.5 176.7,579.5 175.5,578.0 174.7,576.5 174.3,575.0 174.1,573.5 174.3,571.5 174.8,569.5 175.4,568.0 176.3,566.5 177.7,564.5 179.0,563.0 180.5,561.6 182.0,560.4 183.5,559.3 185.5,558.2 187.5,557.2 189.0,556.7 191.0,556.1 193.0,555.7 194.5,555.6 196.0,555.6 197.5,555.8 200.0,556.4 201.4,557.0 203.5,558.0 204.5,558.4 205.0,558.4 205.5,558.2 205.9,557.5 206.1,557.0 207.4,551.5 209.0,545.6 210.1,540.0 210.5,539.0 211.1,538.0 212.5,536.3 214.0,535.0 216.0,533.8 218.0,533.0 219.0,532.7 220.5,532.5 222.0,532.4 223.0,532.5 225.0,532.8 227.0,533.6 228.0,534.1 229.0,534.8 230.5,536.2 231.9,538.0 232.8,539.5 233.3,541.0 233.6,542.5 233.6,545.5 234.2,550.5 234.4,553.5 234.3,555.5 234.1,557.5 233.7,560.0 233.2,562.0 232.5,564.0 231.7,566.0 230.6,568.0 229.5,569.5 228.5,570.7 227.5,571.7 226.0,572.8 225.0,573.4 224.0,573.9 222.5,574.3 221.0,574.5 219.5,574.4 218.5,574.3 217.5,573.9 215.5,573.0 213.5,571.5 209.5,567.7 209.0,567.4 208.5,567.2 208.0,567.3 207.5,567.6 207.0,568.4 205.3,572.0 203.8,574.5 202.3,576.5 200.8,578.0 198.5,579.8 196.0,581.3 193.5,582.3 192.0,582.7 190.5,583.0Z" fill="#9e9e9e"/>
<path d="M221.5,573.5 220.5,573.6 219.0,573.4 218.0,573.1 217.0,572.7 216.0,572.2 214.5,571.1 212.3,569.0 210.6,567.0 209.6,565.5 208.7,564.0 208.2,563.0 207.8,561.0 207.7,558.0 207.9,554.5 208.2,552.5 208.7,550.5 211.3,541.0 211.8,539.5 212.3,538.5 213.0,537.5 214.0,536.4 215.1,535.5 216.5,534.6 217.5,534.2 219.0,533.7 220.5,533.4 222.0,533.4 223.5,533.5 225.0,533.8 226.5,534.4 227.5,535.0 228.5,535.7 230.0,537.1 231.5,538.8 232.3,540.0 232.7,541.0 232.9,542.0 232.8,545.5 233.6,551.0 233.7,554.5 233.4,558.0 232.7,561.5 231.6,564.5 230.9,566.0 230.0,567.5 229.0,568.9 228.1,570.0 227.0,571.0 226.0,571.8 225.0,572.4 224.0,572.9 223.0,573.2 221.5,573.5ZM190.0,582.5 188.5,582.7 186.5,582.7 185.0,582.5 183.5,582.2 182.0,581.8 180.5,581.1 179.0,580.2 178.0,579.4 177.1,578.5 176.4,577.5 175.8,576.5 175.3,575.0 175.2,574.0 175.1,572.5 175.4,571.0 175.8,569.5 176.4,568.0 177.2,566.5 178.3,565.0 179.1,564.0 180.5,562.6 182.0,561.3 183.5,560.3 185.0,559.4 187.0,558.4 188.5,557.8 190.5,557.2 192.0,556.9 194.0,556.7 195.5,556.7 197.0,556.9 198.5,557.3 200.5,558.2 202.5,559.5 204.1,561.0 205.2,562.5 205.8,564.0 206.0,565.5 205.8,567.5 205.2,570.0 204.2,572.5 203.1,574.5 201.5,576.5 199.5,578.4 197.5,579.8 195.0,581.1 192.5,582.0 190.0,582.5Z" fill="#8c8c8c"/>
<path d="M221.5,572.5 220.5,572.6 219.0,572.4 218.0,572.1 217.0,571.7 216.0,571.1 215.0,570.4 214.0,569.5 212.7,568.0 211.6,566.5 210.7,565.0 209.7,562.5 209.1,560.0 208.9,558.0 208.9,556.5 209.1,553.0 209.9,549.5 212.2,542.0 212.8,540.5 213.6,539.0 214.2,538.0 215.0,537.2 216.0,536.3 217.0,535.7 218.0,535.2 219.5,534.7 221.0,534.5 222.0,534.4 223.5,534.6 224.5,534.8 226.0,535.4 227.0,535.9 228.5,536.9 230.0,538.1 231.3,539.5 231.9,540.5 232.3,541.5 232.4,542.0 232.4,543.0 232.1,545.0 232.1,546.0 232.9,551.0 233.1,554.5 232.8,558.0 232.1,561.0 231.1,564.0 230.3,565.5 229.5,566.9 227.9,569.0 227.0,569.9 226.0,570.7 225.0,571.4 224.0,571.9 223.0,572.2 221.5,572.5ZM189.0,582.0 187.5,582.1 186.0,582.0 184.5,581.7 183.0,581.3 181.5,580.7 180.5,580.2 179.5,579.5 178.4,578.5 177.6,577.5 177.0,576.5 176.6,575.5 176.2,574.0 176.1,573.0 176.2,571.5 176.6,570.0 176.9,569.0 177.6,567.5 178.2,566.5 179.3,565.0 180.5,563.7 181.8,562.5 183.0,561.6 184.5,560.6 186.0,559.7 188.0,558.9 189.5,558.4 191.0,558.0 192.5,557.8 194.0,557.7 195.5,557.8 197.0,558.1 198.5,558.6 200.5,559.6 202.0,560.8 203.4,562.5 204.1,564.0 204.6,565.5 204.7,567.5 204.4,569.5 203.8,571.5 202.9,573.5 201.5,575.5 200.0,577.1 198.0,578.8 195.5,580.3 193.5,581.1 191.0,581.8 189.0,582.0Z" fill="#797979"/>
<path d="M221.5,571.5 220.5,571.5 219.0,571.3 218.0,571.0 217.0,570.6 216.0,569.9 215.0,569.1 214.0,568.1 213.1,567.0 212.4,566.0 211.6,564.5 210.6,562.0 210.1,559.5 209.9,557.5 209.8,556.0 209.9,554.5 210.1,552.5 210.8,549.5 211.6,547.0 212.7,544.0 213.7,541.5 214.4,540.0 215.1,539.0 216.0,538.0 217.5,536.8 218.5,536.3 219.5,535.9 220.5,535.7 222.0,535.6 223.5,535.8 224.5,536.0 226.0,536.6 227.5,537.3 229.0,538.2 230.0,539.0 230.6,539.5 231.3,540.5 231.7,541.5 231.8,542.0 231.8,543.0 231.4,545.0 231.3,546.0 232.2,551.0 232.4,554.5 232.1,557.5 231.8,559.5 231.4,561.0 230.5,563.5 229.2,566.0 227.5,568.2 226.5,569.2 225.5,570.0 224.5,570.6 223.5,571.0 222.5,571.3 221.5,571.5ZM191.0,581.1 189.5,581.3 188.0,581.4 186.5,581.3 185.0,581.1 183.5,580.7 182.5,580.3 181.5,579.8 180.3,579.0 179.5,578.3 178.8,577.5 178.1,576.5 177.7,575.5 177.4,574.5 177.2,573.0 177.2,571.5 177.4,570.5 177.7,569.5 178.4,568.0 179.3,566.5 180.0,565.5 181.0,564.4 182.5,563.0 183.5,562.2 185.0,561.2 186.5,560.4 188.0,559.8 189.5,559.3 191.0,559.0 192.5,558.8 194.0,558.7 195.5,558.9 196.5,559.1 198.5,559.8 200.0,560.7 201.5,562.0 202.6,563.5 203.3,565.0 203.7,567.0 203.7,568.5 203.3,570.5 202.8,572.0 201.7,574.0 200.6,575.5 199.0,577.2 197.0,578.7 195.0,579.8 193.0,580.6 191.0,581.1Z" fill="#676767"/>
<path d="M223.0,570.1 222.0,570.4 220.5,570.5 219.5,570.3 218.5,570.1 217.5,569.7 216.5,569.1 215.5,568.3 214.7,567.5 213.9,566.5 212.9,565.0 211.8,562.5 211.4,561.0 211.1,559.5 210.8,556.5 210.8,554.5 211.0,553.0 211.2,551.5 211.7,549.5 213.2,545.5 214.3,543.0 215.0,541.5 215.7,540.5 216.4,539.5 217.0,538.9 218.0,538.1 219.0,537.6 220.0,537.2 221.0,537.0 222.0,536.9 223.0,536.9 224.5,537.1 226.5,537.7 227.5,538.1 228.5,538.6 229.5,539.3 230.3,540.0 230.7,540.5 231.2,541.5 231.3,542.5 231.1,543.5 230.6,545.0 230.5,546.0 230.6,547.0 231.4,550.5 231.6,553.5 231.6,556.0 231.1,559.0 230.4,561.5 229.4,564.0 228.0,566.2 226.5,567.9 225.0,569.1 224.0,569.7 223.0,570.1ZM190.0,580.6 188.5,580.7 187.0,580.6 185.5,580.4 184.5,580.2 182.5,579.4 181.5,578.7 180.5,577.9 179.7,577.0 179.0,576.0 178.6,575.0 178.3,574.0 178.2,573.0 178.2,572.0 178.3,571.0 178.8,569.5 179.2,568.5 180.0,567.0 181.6,565.0 182.6,564.0 184.0,562.9 186.5,561.4 188.0,560.7 189.5,560.2 192.0,559.8 193.5,559.7 194.5,559.8 196.0,560.0 197.0,560.3 198.5,561.0 200.0,562.1 201.2,563.5 202.1,565.0 202.5,566.5 202.7,568.0 202.6,569.5 202.1,571.5 201.1,573.5 200.1,575.0 199.0,576.2 197.5,577.5 196.0,578.5 194.0,579.5 192.0,580.2 190.0,580.6Z" fill="#545454"/>
<path d="M222.5,569.1 221.5,569.3 220.5,569.3 219.5,569.2 218.5,568.9 217.5,568.4 216.5,567.7 215.5,566.8 214.8,566.0 214.0,564.8 213.3,563.5 212.3,561.0 211.8,558.5 211.7,555.5 211.8,554.0 212.1,552.0 212.9,549.0 213.6,547.0 214.5,545.1 215.5,543.2 216.5,541.6 217.8,540.0 218.5,539.4 219.5,538.8 220.5,538.4 221.5,538.1 223.5,537.9 225.5,538.1 227.5,538.7 228.5,539.2 229.5,539.9 230.1,540.5 230.4,541.0 230.7,542.0 230.6,543.0 229.8,545.0 229.6,546.0 229.7,547.0 230.3,549.5 230.7,551.5 230.8,553.0 230.8,555.0 230.7,557.0 230.2,559.5 229.4,562.0 228.4,564.0 227.0,566.0 225.5,567.5 224.0,568.5 222.5,569.1ZM191.5,579.6 189.0,579.9 187.5,579.9 186.5,579.8 185.0,579.4 184.0,579.1 183.0,578.6 182.1,578.0 181.5,577.5 180.6,576.5 179.8,575.0 179.5,574.0 179.3,573.0 179.3,572.0 179.4,571.0 179.6,570.0 180.0,569.0 181.1,567.0 181.9,566.0 182.8,565.0 184.0,564.0 185.0,563.2 186.0,562.6 187.5,561.9 190.0,561.1 192.5,560.7 194.0,560.7 195.0,560.9 196.5,561.3 198.0,562.0 199.3,563.0 200.2,564.0 201.1,565.5 201.6,567.0 201.7,568.5 201.6,570.0 201.2,571.5 200.5,573.0 199.5,574.5 198.2,576.0 196.5,577.3 195.0,578.3 193.5,578.9 191.5,579.6Z" fill="#454545"/>
<path d="M221.5,568.0 220.5,568.1 219.5,567.9 218.0,567.3 217.0,566.7 216.3,566.0 215.5,565.2 214.7,564.0 214.2,563.0 213.5,561.5 212.9,559.0 212.6,556.5 212.8,553.5 213.4,550.5 214.5,547.5 216.0,544.8 217.8,542.0 218.6,541.0 219.1,540.5 220.0,539.8 221.5,539.1 222.5,538.8 223.5,538.7 225.5,538.7 227.0,539.1 228.5,539.8 229.4,540.5 229.8,541.0 230.0,541.5 230.1,542.0 230.0,543.0 229.8,543.5 228.7,545.5 228.6,546.5 229.5,550.0 229.9,552.0 230.0,554.5 229.8,557.0 229.5,559.0 228.8,561.0 228.0,562.8 227.0,564.5 226.0,565.6 224.5,566.9 223.0,567.7 221.5,568.0ZM190.0,579.0 188.5,579.1 187.5,579.0 185.5,578.6 184.5,578.2 183.5,577.7 182.1,576.5 181.5,575.8 181.0,575.0 180.5,573.5 180.4,572.5 180.4,571.5 180.6,570.5 180.9,569.5 181.4,568.5 182.0,567.5 183.5,565.7 184.5,564.8 185.5,564.0 187.5,562.9 189.5,562.2 191.0,561.9 192.0,561.7 194.0,561.8 196.0,562.3 197.4,563.0 198.5,563.8 199.5,564.9 200.1,566.0 200.5,567.0 200.7,568.5 200.6,570.0 200.2,571.5 199.8,572.5 198.8,574.0 197.5,575.5 196.3,576.5 195.0,577.4 193.5,578.1 191.5,578.7 190.0,579.0Z" fill="#383838"/>
<path d="M222.0,566.6 221.0,566.7 220.0,566.6 218.5,566.1 217.6,565.5 217.0,565.0 216.1,564.0 215.5,563.1 214.9,562.0 214.5,561.0 213.8,558.5 213.6,556.0 213.8,553.5 214.3,551.0 214.9,549.5 215.5,548.1 216.5,546.3 218.5,543.5 219.7,541.5 220.6,540.5 222.0,539.7 223.5,539.3 224.5,539.2 225.5,539.3 227.0,539.6 227.9,540.0 228.5,540.4 229.1,541.0 229.4,541.5 229.5,542.0 229.4,543.0 229.0,543.7 227.6,545.5 227.4,546.0 227.4,546.5 227.5,547.0 228.5,550.0 228.9,552.0 229.1,554.0 229.0,556.5 228.6,558.5 228.2,560.0 227.5,561.6 226.5,563.3 225.5,564.5 224.5,565.4 223.5,566.0 222.0,566.6ZM190.5,578.0 188.5,578.1 186.5,577.8 185.0,577.3 183.5,576.3 182.4,575.0 181.8,573.5 181.6,572.0 181.7,571.0 182.0,570.0 182.6,568.5 183.7,567.0 185.2,565.5 187.0,564.3 189.0,563.4 191.0,562.9 193.0,562.8 194.0,562.9 195.0,563.2 196.0,563.6 197.0,564.2 198.0,565.0 198.7,566.0 199.2,567.0 199.5,568.5 199.5,569.5 199.3,571.0 198.6,572.5 198.0,573.5 197.2,574.5 196.0,575.6 194.7,576.5 193.5,577.1 192.0,577.7 190.5,578.0Z" fill="#2c2c2c"/>
<path d="M222.0,565.0 220.5,565.1 219.0,564.7 218.0,564.0 217.5,563.6 217.0,563.0 216.3,562.0 215.4,560.0 214.9,558.0 214.7,556.0 214.9,553.5 215.4,551.5 216.2,549.5 216.7,548.5 217.5,547.3 219.6,545.0 220.0,544.5 220.5,542.5 221.0,541.5 221.4,541.0 222.0,540.6 223.0,540.1 224.5,539.8 226.0,539.9 227.0,540.2 228.0,540.7 228.7,541.5 228.8,542.0 228.8,542.5 228.6,543.0 228.3,543.5 227.5,544.3 226.1,545.5 225.8,546.0 225.8,546.5 225.9,547.0 227.1,549.5 227.5,550.7 227.8,552.0 228.0,554.5 227.9,557.0 227.5,558.5 227.0,560.0 226.3,561.5 225.6,562.5 225.0,563.2 224.0,564.1 223.0,564.7 222.0,565.0ZM190.0,577.0 188.0,577.0 186.5,576.6 185.3,576.0 184.1,575.0 183.5,574.0 183.0,572.5 183.1,571.0 183.5,569.5 184.4,568.0 185.5,566.8 187.0,565.6 188.5,564.8 190.0,564.3 192.0,564.0 193.5,564.1 195.0,564.6 196.0,565.1 197.0,566.0 197.5,566.6 197.9,567.5 198.2,568.5 198.3,569.5 198.1,570.5 197.8,571.5 197.4,572.5 196.7,573.5 196.0,574.3 195.0,575.1 194.0,575.8 192.5,576.5 191.5,576.8 190.0,577.0Z" fill="#1f1f1f"/>
<path d="M225.0,544.5 224.0,544.7 223.5,544.6 223.0,544.4 222.5,544.1 222.0,543.5 221.9,543.0 221.8,542.5 222.0,542.0 222.3,541.5 222.8,541.0 224.0,540.5 225.5,540.4 226.1,540.5 227.0,540.8 227.8,541.5 228.0,542.0 228.0,542.5 227.7,543.0 227.3,543.5 226.5,544.0 225.0,544.5ZM222.5,563.0 222.0,563.2 221.0,563.3 220.0,563.2 219.0,562.7 218.0,561.8 217.1,560.5 216.5,559.1 216.1,557.5 216.0,556.0 216.1,554.0 216.5,552.5 217.0,551.0 217.8,549.5 219.0,548.1 220.0,547.4 221.0,546.9 222.0,546.8 223.0,547.0 224.0,547.7 224.8,548.5 225.5,549.5 226.0,550.5 226.5,552.0 226.7,553.0 226.8,554.5 226.8,556.0 226.5,557.5 226.0,559.0 225.6,560.0 225.0,561.0 224.1,562.0 223.5,562.5 222.5,563.0ZM191.5,575.5 190.0,575.8 189.0,575.8 187.6,575.5 186.5,575.0 185.5,574.1 185.0,573.4 184.7,572.5 184.6,572.0 184.7,571.0 184.9,570.0 185.5,568.9 186.5,567.7 187.5,566.8 188.5,566.3 190.0,565.7 191.5,565.4 192.5,565.5 193.5,565.6 194.4,566.0 195.2,566.5 195.8,567.0 196.1,567.5 196.6,568.5 196.7,569.0 196.7,570.0 196.5,571.0 196.1,572.0 195.5,572.9 195.0,573.5 193.5,574.7 192.5,575.2 191.5,575.5Z" fill="#181818"/>
</g>
<g filter="url(#bl5)">
<path d="M301.0,590.0 298.5,590.0 295.5,589.7 293.0,589.2 290.5,588.2 288.5,587.0 287.5,586.2 286.8,585.5 285.8,584.0 285.3,583.0 285.0,582.0 284.6,580.0 284.7,577.5 284.9,576.0 285.2,574.5 286.1,572.0 287.2,569.5 288.9,566.5 290.6,564.0 293.0,561.0 296.0,557.9 299.5,554.8 303.5,551.7 308.9,548.0 310.0,547.0 310.5,546.4 311.0,545.5 311.9,542.5 312.6,541.0 313.6,539.5 315.5,537.5 317.0,536.3 322.5,532.0 324.5,530.7 326.5,529.6 328.5,528.8 330.0,528.3 333.0,527.6 336.0,527.2 338.0,527.2 339.5,527.4 341.5,527.7 343.0,528.1 346.0,529.1 347.5,529.8 349.0,530.6 350.3,531.5 351.5,532.5 352.5,533.5 353.7,535.0 354.4,536.5 354.9,538.0 355.2,540.0 355.2,544.0 355.3,545.5 356.4,553.0 356.6,555.5 356.6,557.5 356.5,560.0 356.2,562.0 355.8,564.0 355.2,566.0 354.2,568.5 353.5,570.0 352.2,572.0 351.0,573.6 349.0,575.6 348.0,576.3 346.5,577.3 345.5,577.8 344.0,578.5 341.5,579.1 339.5,579.3 337.0,579.2 334.5,578.7 330.0,577.3 328.5,577.1 327.5,577.3 326.5,577.7 325.0,578.7 320.5,582.3 318.0,584.1 316.0,585.4 313.5,586.7 310.0,588.2 307.0,589.1 304.0,589.7 301.0,590.0Z" fill="#e0e0e0"/>
<path d="M305.0,589.1 302.0,589.4 299.0,589.5 296.0,589.1 293.5,588.5 291.0,587.5 290.0,586.9 289.0,586.2 288.3,585.5 287.5,584.6 286.5,583.0 285.8,581.0 285.6,579.0 285.7,576.5 286.2,574.0 287.1,571.5 288.3,569.0 290.0,566.0 292.2,563.0 293.9,561.0 295.5,559.3 297.5,557.4 299.5,555.6 303.0,552.9 308.9,549.0 310.9,547.5 311.5,546.7 311.9,546.0 312.4,543.0 313.0,541.5 313.8,540.0 314.7,539.0 315.5,538.2 317.0,536.9 323.0,532.5 326.0,530.7 329.0,529.3 332.0,528.5 335.0,528.0 338.0,528.0 341.0,528.3 343.0,528.8 344.5,529.3 346.0,529.9 347.5,530.6 350.0,532.2 351.5,533.5 352.7,535.0 353.5,536.5 354.0,538.0 354.2,539.0 354.4,540.5 354.5,545.0 355.7,552.5 356.0,556.0 356.0,558.0 355.9,560.5 355.4,563.0 354.9,565.0 354.2,567.0 353.3,569.0 352.2,571.0 351.1,572.5 350.0,573.8 349.0,574.7 347.0,576.2 345.5,577.1 344.0,577.7 341.5,578.4 339.5,578.6 337.0,578.4 334.5,577.9 330.0,576.4 328.5,576.3 327.5,576.5 326.5,576.9 325.5,577.6 321.0,581.3 319.0,582.9 317.0,584.2 315.0,585.4 312.5,586.7 310.0,587.7 307.0,588.6 305.0,589.1Z" fill="#d8d8d8"/>
<path d="M305.0,588.6 302.0,588.9 299.0,588.9 296.5,588.5 294.0,587.9 291.9,587.0 290.0,585.7 289.2,585.0 288.5,584.2 287.5,582.5 286.8,580.5 286.6,578.5 286.7,576.0 287.2,573.5 288.1,571.0 289.3,568.5 290.8,566.0 292.7,563.5 294.3,561.5 296.0,559.7 298.0,557.8 300.0,556.1 302.5,554.2 304.5,552.8 310.6,549.0 311.9,548.0 312.4,547.5 312.8,547.0 313.1,546.0 313.1,543.5 313.4,542.0 313.8,541.0 314.5,540.0 315.8,538.5 318.0,536.8 320.8,535.0 324.5,532.4 326.5,531.2 329.0,530.1 332.0,529.2 335.0,528.7 336.5,528.7 338.5,528.7 341.5,529.1 344.5,530.0 347.0,531.1 348.4,532.0 349.5,532.8 350.8,534.0 352.0,535.5 352.8,537.0 353.3,538.5 353.6,540.5 353.8,545.0 355.2,552.5 355.5,556.0 355.5,558.5 355.3,560.5 354.9,563.0 354.3,565.0 353.6,567.0 352.7,569.0 351.8,570.5 350.7,572.0 348.8,574.0 347.5,575.1 346.5,575.8 345.5,576.3 344.0,577.0 343.0,577.3 341.5,577.7 339.5,577.9 337.0,577.7 334.5,577.1 330.0,575.6 328.5,575.4 327.5,575.6 326.5,576.1 325.5,576.8 319.5,581.9 317.5,583.4 315.5,584.6 312.5,586.2 310.0,587.2 307.0,588.1 305.0,588.6Z" fill="#d0d0d0"/>
<path d="M305.0,588.0 302.5,588.3 299.5,588.3 297.0,588.0 294.5,587.3 292.5,586.3 290.6,585.0 289.3,583.5 288.4,582.0 287.7,580.0 287.5,578.0 287.6,576.0 288.1,573.5 289.0,571.0 290.2,568.5 291.7,566.0 293.1,564.0 294.8,562.0 296.7,560.0 298.5,558.3 301.0,556.2 305.0,553.4 307.5,551.9 311.7,549.5 313.2,548.5 313.8,548.0 314.5,547.1 314.7,546.5 314.7,546.0 314.1,544.0 314.0,543.0 314.0,542.5 314.3,541.5 315.2,540.0 316.1,539.0 317.5,537.9 321.4,535.5 326.5,532.1 329.0,530.9 330.5,530.4 332.0,530.0 334.5,529.5 337.5,529.4 340.5,529.7 343.5,530.5 345.0,531.0 346.5,531.8 348.5,533.0 349.6,534.0 350.9,535.5 351.8,537.0 352.5,539.0 352.8,540.0 352.9,541.0 352.9,543.5 353.0,545.0 354.4,551.5 354.7,553.5 354.9,555.5 354.9,558.0 354.8,560.0 354.4,562.5 353.9,564.5 353.2,566.5 352.3,568.5 351.4,570.0 350.3,571.5 348.4,573.5 347.5,574.3 346.0,575.3 345.0,575.8 343.5,576.4 342.0,576.8 341.0,577.0 339.0,577.1 337.0,576.9 334.5,576.4 330.0,574.7 328.5,574.6 327.5,574.8 326.5,575.2 325.5,576.0 319.9,581.0 317.5,582.8 315.5,584.1 312.5,585.7 310.0,586.7 307.0,587.6 305.0,588.0Z" fill="#c8c8c8"/>
<path d="M305.0,587.5 302.0,587.8 299.5,587.7 297.0,587.3 295.0,586.6 293.0,585.6 291.5,584.5 290.1,583.0 289.3,581.5 288.7,580.0 288.4,578.0 288.5,576.0 289.0,573.5 289.8,571.0 290.7,569.0 292.2,566.5 294.0,564.0 295.7,562.0 297.5,560.2 299.5,558.3 302.0,556.4 306.0,553.7 308.5,552.3 313.9,549.5 315.5,548.5 316.1,548.0 316.8,547.0 317.0,546.5 316.9,546.0 316.6,545.5 315.5,544.3 315.1,543.5 315.0,543.0 315.0,542.0 315.3,541.0 315.6,540.5 316.5,539.5 318.0,538.3 322.5,535.8 327.0,532.7 329.5,531.5 332.0,530.7 335.0,530.2 338.0,530.2 341.0,530.6 343.5,531.3 346.0,532.4 348.0,533.7 349.3,535.0 350.1,536.0 351.2,538.0 351.8,539.5 352.2,541.0 352.2,544.5 352.5,546.0 353.8,551.5 354.2,554.0 354.3,556.0 354.3,558.5 354.1,560.5 353.8,562.5 353.3,564.5 352.8,566.0 351.9,568.0 351.0,569.5 349.9,571.0 348.0,573.0 346.0,574.4 344.5,575.2 343.5,575.6 341.0,576.2 339.0,576.4 337.0,576.2 334.5,575.6 330.0,573.9 328.5,573.6 327.5,573.8 326.5,574.3 325.5,575.1 321.5,579.0 319.5,580.7 317.5,582.3 315.5,583.6 312.5,585.2 310.0,586.2 307.0,587.1 305.0,587.5Z" fill="#c0c0c0"/>
<path d="M304.5,587.0 302.0,587.2 300.0,587.1 297.5,586.7 295.5,586.0 294.0,585.2 292.3,584.0 291.0,582.5 290.1,581.0 289.6,579.5 289.4,577.5 289.4,575.5 289.9,573.0 290.6,571.0 291.8,568.5 293.4,566.0 294.9,564.0 296.6,562.0 299.0,559.7 301.5,557.7 303.5,556.2 306.0,554.7 308.5,553.3 315.7,550.0 317.0,549.2 318.0,548.5 318.5,548.0 319.2,547.0 319.6,546.0 319.6,545.5 319.4,545.0 319.0,544.6 317.0,543.6 316.4,543.0 316.2,542.5 316.1,542.0 316.4,541.0 316.7,540.5 317.5,539.6 318.3,539.0 319.5,538.3 322.0,537.2 323.0,536.6 326.5,534.1 328.0,533.2 330.5,532.0 333.0,531.3 335.5,531.0 338.0,531.0 340.5,531.3 343.0,532.0 345.0,532.8 347.0,534.1 348.0,535.0 349.3,536.5 350.6,538.5 351.3,540.0 351.5,541.5 351.4,543.5 351.4,544.5 353.2,551.5 353.5,553.5 353.7,555.5 353.8,558.0 353.6,560.0 353.3,562.0 352.8,564.0 352.3,565.5 351.4,567.5 350.5,569.0 349.5,570.4 348.5,571.6 347.5,572.5 345.5,573.9 344.0,574.7 343.0,575.0 342.0,575.3 340.5,575.5 338.5,575.6 336.5,575.3 334.5,574.8 330.0,572.9 328.5,572.7 327.5,572.8 326.5,573.3 325.5,574.1 321.7,578.0 319.5,580.1 317.5,581.7 315.0,583.3 312.5,584.7 310.0,585.7 307.0,586.6 304.5,587.0Z" fill="#b8b8b8"/>
<path d="M303.5,586.5 301.5,586.6 299.0,586.3 297.0,585.7 295.5,585.1 294.0,584.2 292.6,583.0 291.5,581.5 290.8,580.0 290.4,578.5 290.3,576.5 290.5,574.5 290.9,572.5 291.7,570.5 292.7,568.5 294.2,566.0 295.8,564.0 297.6,562.0 300.0,559.8 302.5,557.8 305.0,556.2 307.5,554.8 309.5,553.8 317.0,550.9 318.0,550.4 319.2,549.5 320.2,548.5 321.1,547.0 321.7,545.5 321.9,544.5 321.8,544.0 321.7,543.5 321.5,543.1 321.0,542.7 319.0,542.3 318.3,542.0 318.0,541.5 318.1,541.0 318.4,540.5 319.0,540.0 320.0,539.5 322.0,538.7 323.5,537.8 327.0,535.0 328.5,534.0 330.5,533.0 333.0,532.2 335.5,531.8 338.0,531.8 340.5,532.2 342.5,532.7 344.5,533.6 345.5,534.2 346.5,535.0 347.6,536.0 349.5,538.2 350.4,539.5 350.7,540.5 350.9,541.5 350.6,543.5 350.7,544.5 351.0,546.0 352.4,551.0 352.8,553.0 353.1,555.5 353.2,557.5 353.1,559.5 352.8,561.5 352.3,563.5 351.6,565.5 350.9,567.0 350.1,568.5 349.0,570.0 348.0,571.1 347.0,572.0 345.0,573.4 344.0,573.9 342.5,574.4 341.0,574.7 340.0,574.8 338.0,574.8 336.0,574.4 334.0,573.8 330.5,572.2 329.5,571.8 328.5,571.7 327.5,571.8 326.5,572.2 325.5,573.0 321.9,577.0 319.4,579.5 317.0,581.4 315.0,582.7 312.0,584.3 309.5,585.3 306.5,586.1 303.5,586.5Z" fill="#afafaf"/>
<path d="M306.5,585.6 304.0,585.9 301.5,585.9 299.5,585.6 297.5,585.1 295.5,584.1 294.0,583.0 293.0,582.0 292.1,580.5 291.5,579.0 291.2,577.0 291.3,575.0 291.6,573.0 292.3,571.0 293.2,569.0 294.4,567.0 295.9,565.0 297.6,563.0 300.0,560.7 302.5,558.7 305.5,556.8 307.5,555.7 310.0,554.6 312.5,553.7 318.0,552.1 319.0,551.6 320.0,550.9 320.9,550.0 321.5,549.2 322.2,548.0 322.9,546.5 323.6,544.0 324.2,540.5 324.9,539.0 325.6,538.0 327.0,536.5 328.1,535.5 329.5,534.6 331.5,533.6 333.5,533.0 335.5,532.7 338.0,532.7 340.0,533.0 342.0,533.6 344.0,534.5 345.5,535.5 347.5,537.2 349.0,538.6 349.7,539.5 350.1,540.5 350.2,541.5 349.8,544.0 349.9,545.0 351.8,551.0 352.4,554.5 352.5,556.5 352.5,558.5 352.3,560.5 351.9,562.5 351.3,564.5 350.7,566.0 349.9,567.5 348.9,569.0 348.0,570.1 347.0,571.1 346.0,571.9 345.0,572.5 343.5,573.2 342.5,573.6 341.5,573.8 340.0,574.0 339.0,574.0 337.5,573.9 335.5,573.5 333.5,572.7 330.0,571.0 329.0,570.7 328.0,570.5 327.0,570.8 326.5,571.0 325.5,571.9 322.1,576.0 320.2,578.0 318.5,579.6 316.5,581.1 314.0,582.7 312.0,583.8 309.5,584.8 306.5,585.6Z" fill="#a7a7a7"/>
<path d="M306.0,585.0 303.5,585.3 301.5,585.2 299.5,584.9 297.5,584.2 296.0,583.4 294.5,582.2 293.5,581.0 292.7,579.5 292.3,578.0 292.1,576.0 292.3,574.0 292.8,572.0 293.6,570.0 294.7,568.0 296.0,566.0 297.7,564.0 299.6,562.0 302.0,560.0 304.5,558.3 307.0,556.9 309.5,555.8 312.5,554.8 319.0,553.5 320.0,553.1 320.9,552.5 321.5,551.8 322.0,551.1 323.5,548.2 324.7,545.0 326.1,540.5 326.8,539.0 327.4,538.0 328.5,536.8 329.5,535.9 331.0,535.0 333.0,534.2 335.0,533.8 337.5,533.7 339.5,533.9 341.5,534.5 343.0,535.2 346.5,537.3 348.0,538.4 348.6,539.0 349.3,540.0 349.6,541.0 349.6,542.0 349.0,544.0 349.1,545.0 350.6,549.5 351.3,552.0 351.8,555.0 351.9,557.5 351.8,559.5 351.6,561.0 351.3,562.5 350.8,564.0 350.2,565.5 349.4,567.0 348.5,568.4 347.5,569.5 346.5,570.5 345.5,571.3 343.5,572.4 342.5,572.7 341.0,573.1 339.0,573.2 337.0,573.0 335.0,572.4 333.5,571.8 330.0,570.0 329.0,569.5 328.0,569.3 327.0,569.4 326.5,569.7 325.5,570.5 322.1,575.0 320.4,577.0 318.5,578.9 316.5,580.5 314.0,582.1 311.5,583.4 309.0,584.3 306.0,585.0Z" fill="#9e9e9e"/>
<path d="M305.0,584.5 303.0,584.6 301.0,584.4 299.0,583.9 297.5,583.3 296.3,582.5 295.0,581.3 294.1,580.0 293.4,578.5 293.1,577.0 293.1,575.0 293.3,573.5 293.9,571.5 294.7,569.5 295.9,567.5 297.3,565.5 298.6,564.0 300.5,562.2 303.0,560.2 305.5,558.6 308.5,557.2 311.0,556.3 313.0,555.8 315.5,555.4 320.0,555.1 321.0,554.8 321.5,554.5 322.0,554.1 322.5,553.4 323.2,552.0 325.5,546.3 327.3,541.5 328.2,539.5 328.9,538.5 329.7,537.5 331.0,536.5 332.0,535.9 333.5,535.3 335.5,534.9 337.5,534.8 339.5,535.1 341.5,535.7 345.0,537.2 347.0,538.3 348.0,539.1 348.7,540.0 349.1,541.0 349.0,542.0 348.2,544.0 348.2,545.0 348.5,546.0 349.9,549.5 350.6,552.0 351.1,555.0 351.3,558.0 350.9,561.0 350.6,562.5 350.1,564.0 348.9,566.5 348.0,567.8 347.0,569.0 346.0,569.9 345.0,570.7 343.0,571.7 341.0,572.3 339.0,572.4 337.0,572.2 335.5,571.8 334.5,571.4 333.0,570.6 329.5,568.6 328.5,568.1 327.5,567.9 327.0,567.9 326.5,568.0 325.8,568.5 325.0,569.5 322.4,573.5 320.5,576.0 318.6,578.0 316.5,579.8 315.0,580.8 313.5,581.8 310.5,583.2 307.5,584.1 305.0,584.5Z" fill="#8c8c8c"/>
<path d="M307.0,583.6 305.0,583.8 303.0,583.9 301.0,583.6 299.5,583.2 298.0,582.5 296.6,581.5 295.6,580.5 294.7,579.0 294.2,577.5 294.0,575.5 294.1,574.0 294.6,572.0 295.1,570.5 296.2,568.5 297.5,566.5 299.0,564.7 301.5,562.3 304.0,560.5 307.0,558.8 309.5,557.7 312.0,557.0 314.5,556.7 317.0,556.7 321.0,557.1 322.0,557.0 322.5,556.7 323.0,556.3 323.5,555.5 324.0,554.2 325.8,548.5 327.3,545.0 329.0,541.2 329.7,540.0 330.5,538.9 331.4,538.0 332.5,537.3 334.0,536.6 335.5,536.2 337.0,536.1 339.0,536.2 341.5,536.7 344.5,537.6 346.0,538.3 347.5,539.3 348.1,540.0 348.4,540.5 348.5,541.5 348.2,542.5 347.4,544.0 347.3,544.5 347.3,545.0 347.6,546.0 349.1,549.5 349.9,552.0 350.4,554.5 350.6,557.5 350.3,560.5 349.7,563.0 349.1,564.5 348.5,565.7 347.6,567.0 346.8,568.0 346.0,568.8 345.0,569.7 344.0,570.3 343.0,570.8 341.0,571.4 339.5,571.5 338.5,571.5 336.5,571.2 335.5,570.9 334.0,570.2 332.0,569.0 329.0,567.0 327.5,566.2 326.5,566.0 326.0,566.2 325.5,566.6 325.0,567.2 322.8,571.5 321.2,574.0 319.6,576.0 317.7,578.0 315.0,580.1 312.5,581.6 310.0,582.7 308.5,583.2 307.0,583.6Z" fill="#797979"/>
<path d="M306.0,583.0 304.0,583.1 302.5,583.0 301.0,582.8 299.5,582.2 298.2,581.5 297.0,580.5 296.2,579.5 295.4,578.0 295.1,576.5 295.0,575.0 295.1,573.5 295.7,571.5 296.3,570.0 297.4,568.0 298.5,566.5 299.8,565.0 301.0,563.8 302.5,562.5 304.0,561.4 305.5,560.5 307.0,559.7 309.0,558.9 310.5,558.4 312.0,558.1 313.5,557.9 315.0,557.8 316.5,557.9 318.0,558.2 319.5,558.6 321.0,559.3 324.0,561.0 324.5,560.8 325.6,553.5 326.0,551.5 326.6,549.5 327.9,546.5 329.5,543.2 330.8,541.0 332.0,539.5 333.5,538.4 335.0,537.7 336.5,537.4 338.5,537.2 341.0,537.4 343.5,537.8 345.5,538.5 346.4,539.0 347.1,539.5 347.5,540.0 347.8,540.5 348.0,541.0 348.0,541.5 347.6,542.5 346.6,544.0 346.3,544.5 346.3,545.0 346.6,546.0 348.3,549.5 349.1,552.0 349.7,555.0 349.8,558.0 349.7,559.5 349.5,561.0 348.7,563.5 347.7,565.5 347.0,566.5 346.2,567.5 345.0,568.6 344.0,569.3 343.0,569.8 342.0,570.2 341.0,570.4 339.5,570.6 338.5,570.6 337.0,570.4 335.0,569.7 334.0,569.2 332.5,568.3 330.2,566.5 326.0,562.8 325.0,562.2 324.6,562.5 324.5,562.8 323.6,567.0 323.1,568.5 322.3,570.5 321.6,572.0 320.7,573.5 318.8,576.0 317.5,577.3 316.0,578.6 314.5,579.7 313.0,580.6 311.5,581.4 309.5,582.2 307.5,582.8 306.0,583.0Z" fill="#676767"/>
<path d="M340.5,569.6 338.5,569.6 337.0,569.4 336.0,569.1 335.0,568.7 333.5,567.8 332.3,567.0 331.1,566.0 330.1,565.0 328.8,563.5 327.6,561.5 327.1,560.5 326.8,559.5 326.7,558.5 326.5,557.0 326.5,555.5 326.7,553.5 327.1,551.5 327.8,549.5 328.6,547.5 329.5,545.8 332.3,541.5 333.5,540.0 334.1,539.5 335.0,538.9 337.0,538.2 339.5,537.9 341.0,537.9 342.5,538.1 344.5,538.6 345.5,539.0 346.4,539.5 346.9,540.0 347.2,540.5 347.4,541.0 347.4,541.5 347.2,542.0 346.6,543.0 345.6,544.0 345.3,544.5 345.2,545.0 345.3,545.5 345.5,546.0 347.4,549.5 348.2,551.5 348.8,554.0 349.1,556.5 349.0,559.0 348.5,561.5 347.8,563.5 346.7,565.5 345.5,566.9 344.0,568.2 342.5,569.0 341.5,569.3 340.5,569.6ZM307.5,582.0 306.0,582.3 304.5,582.3 303.0,582.3 301.5,582.0 300.5,581.6 299.3,581.0 298.5,580.5 297.5,579.5 296.8,578.5 296.4,577.5 296.1,576.5 296.0,575.0 296.1,574.0 296.3,572.5 296.8,571.0 297.5,569.5 298.1,568.5 299.1,567.0 300.4,565.5 301.5,564.4 303.0,563.1 304.5,562.1 306.0,561.2 307.5,560.4 309.0,559.8 310.5,559.4 312.0,559.1 313.5,558.9 315.0,558.9 316.5,559.2 318.0,559.6 319.0,560.1 320.4,561.0 321.3,562.0 321.9,563.0 322.4,564.5 322.4,566.0 322.2,568.0 321.6,570.0 320.7,572.0 319.8,573.5 318.3,575.5 316.8,577.0 315.1,578.5 313.5,579.6 311.5,580.7 309.5,581.5 307.5,582.0Z" fill="#545454"/>
<path d="M340.5,568.5 339.5,568.6 338.5,568.6 337.0,568.4 336.0,568.0 334.5,567.3 333.5,566.7 331.6,565.0 329.9,563.0 329.3,562.0 328.6,560.5 328.2,559.5 327.9,558.0 327.7,555.5 327.8,554.0 328.1,552.0 328.7,550.0 329.4,548.5 330.8,546.0 333.2,543.0 334.3,541.0 334.7,540.5 335.1,540.0 335.8,539.5 337.5,538.8 339.5,538.4 341.0,538.3 343.0,538.6 344.5,539.0 345.6,539.5 346.2,540.0 346.6,540.5 346.8,541.0 346.8,541.5 346.6,542.0 346.0,542.8 344.5,544.0 344.0,544.5 343.9,545.0 344.0,545.5 344.2,546.0 346.2,549.0 347.3,551.5 347.8,553.0 348.1,554.5 348.3,556.0 348.3,557.5 348.1,559.5 347.7,561.5 346.8,563.5 346.0,564.9 345.0,566.1 343.5,567.3 342.0,568.1 340.5,568.5ZM308.0,581.1 306.5,581.4 305.0,581.5 303.5,581.4 302.5,581.2 301.5,580.9 300.5,580.5 299.5,579.9 298.6,579.0 297.9,578.0 297.4,577.0 297.2,576.0 297.1,575.0 297.1,574.0 297.4,572.5 297.7,571.5 298.3,570.0 299.1,568.5 299.8,567.5 301.0,566.1 302.0,565.1 303.3,564.0 304.5,563.1 307.0,561.7 309.5,560.7 311.0,560.3 312.5,560.1 314.0,560.0 315.0,560.1 316.5,560.5 317.5,560.9 318.6,561.5 319.7,562.5 320.4,563.5 321.0,565.0 321.2,566.5 321.1,568.0 320.7,569.5 320.0,571.5 318.8,573.5 317.7,575.0 316.3,576.5 315.0,577.6 313.5,578.7 311.5,579.8 309.5,580.7 308.0,581.1Z" fill="#454545"/>
<path d="M339.5,567.5 338.5,567.5 337.5,567.4 336.5,567.1 335.5,566.7 334.5,566.1 333.5,565.4 332.5,564.5 331.6,563.5 330.3,561.5 329.8,560.5 329.3,559.0 328.9,557.0 328.9,554.5 329.1,553.0 329.4,551.5 329.7,550.5 330.4,549.0 331.0,548.0 332.0,546.6 333.0,545.5 334.8,544.0 335.2,543.5 335.3,543.0 335.5,541.5 335.6,541.0 336.0,540.5 337.0,539.7 338.5,539.1 340.0,538.8 342.0,538.8 343.5,539.1 344.7,539.5 345.5,540.0 346.0,540.5 346.2,541.0 346.1,541.5 346.0,541.8 345.5,542.5 344.5,543.3 343.1,544.0 342.4,544.5 342.1,545.0 342.3,545.5 344.0,547.5 345.0,548.9 345.6,550.0 346.3,551.5 346.8,553.0 347.3,555.0 347.4,557.0 347.3,558.5 347.0,560.5 346.5,562.0 345.7,563.5 344.6,565.0 343.5,566.0 342.5,566.7 341.0,567.3 339.5,567.5ZM306.0,580.5 304.0,580.5 303.0,580.3 302.0,580.0 301.1,579.5 300.3,579.0 299.5,578.2 299.0,577.4 298.6,576.5 298.3,575.5 298.2,574.5 298.3,573.5 298.7,571.5 299.4,570.0 299.9,569.0 301.4,567.0 303.5,565.0 305.5,563.5 308.0,562.3 310.5,561.5 312.0,561.2 313.0,561.2 315.0,561.4 316.0,561.7 317.0,562.1 318.2,563.0 319.0,564.0 319.5,565.0 319.9,566.5 319.9,568.0 319.7,569.5 319.2,571.0 318.1,573.0 317.1,574.5 316.0,575.7 314.5,577.0 313.0,578.1 311.0,579.2 309.5,579.8 307.5,580.3 306.0,580.5Z" fill="#383838"/>
<path d="M342.0,543.6 340.0,543.9 339.0,543.9 338.5,543.8 337.5,543.1 337.0,542.5 336.8,542.0 336.7,541.5 336.8,541.0 337.2,540.5 337.8,540.0 339.0,539.5 340.0,539.3 341.5,539.2 342.5,539.3 343.5,539.5 344.6,540.0 345.2,540.5 345.4,541.0 345.4,541.5 345.2,542.0 344.6,542.5 344.0,542.9 343.0,543.3 342.0,543.6ZM341.0,566.0 339.5,566.3 338.5,566.3 337.5,566.2 336.0,565.6 334.5,564.7 333.1,563.5 331.9,562.0 330.9,560.0 330.3,558.0 330.0,556.0 330.1,554.0 330.5,552.0 331.3,550.0 332.2,548.5 333.6,547.0 335.0,546.0 336.0,545.6 337.0,545.3 338.0,545.2 338.5,545.2 339.5,545.6 341.0,546.4 342.5,547.6 343.7,549.0 344.7,550.5 345.7,552.5 346.2,554.5 346.4,556.5 346.4,558.5 346.1,560.0 345.5,561.7 344.5,563.4 343.5,564.5 342.5,565.3 341.0,566.0ZM306.0,579.5 304.0,579.3 302.5,578.9 301.9,578.5 301.0,577.8 300.5,577.3 300.0,576.5 299.5,575.0 299.5,574.0 299.6,573.0 299.8,572.0 300.1,571.0 301.2,569.0 302.8,567.0 304.4,565.5 306.5,564.1 308.5,563.2 310.0,562.7 311.0,562.5 313.0,562.4 314.0,562.5 315.0,562.8 316.5,563.5 317.5,564.5 318.0,565.2 318.5,566.5 318.7,567.5 318.7,568.5 318.4,570.0 317.8,571.5 317.0,573.0 316.0,574.4 314.9,575.5 313.5,576.7 312.0,577.7 310.5,578.5 309.0,579.0 307.5,579.4 306.0,579.5Z" fill="#2c2c2c"/>
<path d="M341.0,543.0 339.5,542.8 338.5,542.4 338.1,542.0 337.9,541.5 338.0,541.0 338.4,540.5 339.5,539.9 340.5,539.7 341.5,539.6 343.0,539.9 343.5,540.0 344.3,540.5 344.6,541.0 344.6,541.5 344.2,542.0 343.0,542.7 342.0,542.9 341.0,543.0ZM341.0,564.6 340.0,564.9 338.5,564.9 337.0,564.6 335.5,563.9 334.4,563.0 333.1,561.5 332.2,560.0 331.5,558.0 331.3,556.5 331.3,554.5 331.7,552.5 332.3,551.0 333.0,549.8 334.0,548.6 335.0,547.9 336.5,547.3 337.5,547.1 339.0,547.3 340.5,547.9 341.5,548.5 342.6,549.5 343.7,551.0 344.5,552.5 345.0,554.0 345.3,555.5 345.3,557.5 345.2,559.0 344.7,560.5 344.0,562.0 343.2,563.0 342.1,564.0 341.0,564.6ZM308.5,578.0 306.5,578.3 305.0,578.2 303.5,577.8 302.3,577.0 301.5,576.0 301.2,575.5 301.0,574.5 300.9,573.0 301.1,572.0 301.4,571.0 302.2,569.5 303.5,567.8 305.0,566.4 307.0,565.1 309.0,564.2 311.0,563.8 312.0,563.7 313.0,563.8 314.5,564.2 315.5,564.8 316.0,565.2 316.6,566.0 317.1,567.0 317.3,568.0 317.3,569.0 317.1,570.0 316.6,571.5 316.0,572.5 315.4,573.5 314.5,574.5 313.4,575.5 312.1,576.5 311.0,577.1 310.0,577.6 308.5,578.0Z" fill="#1f1f1f"/>
<path d="M342.5,542.1 342.0,542.2 341.0,542.2 340.0,542.0 339.4,541.5 339.4,541.0 340.0,540.5 341.0,540.3 342.0,540.3 342.8,540.5 343.4,541.0 343.4,541.5 342.5,542.1ZM340.5,563.0 339.5,563.3 338.0,563.3 337.0,563.0 336.0,562.4 335.0,561.6 334.1,560.5 333.5,559.5 333.0,558.0 332.7,556.5 332.7,555.0 332.9,553.5 333.2,552.5 334.0,551.1 335.0,550.0 336.0,549.4 337.0,549.0 338.0,548.9 339.0,549.1 340.0,549.5 341.0,550.1 341.9,551.0 342.7,552.0 343.2,553.0 343.8,554.5 344.0,556.0 344.0,557.5 343.9,558.5 343.5,559.9 342.9,561.0 342.1,562.0 341.5,562.5 340.5,563.0ZM309.0,576.6 307.5,576.9 306.0,576.9 305.0,576.6 303.9,576.0 303.4,575.5 303.0,575.0 302.6,574.0 302.6,573.0 302.8,571.5 303.5,570.0 304.5,568.7 305.7,567.5 307.0,566.6 308.5,565.9 310.0,565.4 311.5,565.3 313.0,565.5 314.0,566.0 314.5,566.3 315.0,566.9 315.3,567.5 315.5,568.0 315.6,569.0 315.5,570.0 315.3,571.0 314.8,572.0 314.1,573.0 312.7,574.5 311.0,575.7 310.0,576.2 309.0,576.6Z" fill="#181818"/>
</g>
<ellipse cx="75.5" cy="574.5" rx="8" ry="4.3" transform="rotate(-12 75.5 574.5)" fill="none" stroke="#6a6a6a" stroke-width="0.5" opacity="0.35"/>
<ellipse cx="191.5" cy="570.5" rx="5" ry="4" transform="rotate(-25 191.5 570.5)" fill="none" stroke="#6a6a6a" stroke-width="0.5" opacity="0.35"/>
<ellipse cx="221.8" cy="556.5" rx="4" ry="5.5" transform="rotate(10 221.8 556.5)" fill="none" stroke="#6a6a6a" stroke-width="0.5" opacity="0.35"/>
<ellipse cx="309.5" cy="571.5" rx="6" ry="3.5" transform="rotate(-35 309.5 571.5)" fill="none" stroke="#6a6a6a" stroke-width="0.5" opacity="0.35"/>
<ellipse cx="338.8" cy="557" rx="4.5" ry="5" transform="rotate(-10 338.8 557)" fill="none" stroke="#6a6a6a" stroke-width="0.5" opacity="0.35"/>
<rect x="40.8" y="518.6" width="85.3" height="84.60000000000002" fill="none" stroke="#231f20" stroke-width="1.1"/>
<line x1="89.1" y1="518.6" x2="89.1" y2="603.2" stroke="#231f20" stroke-width="1.1"/>
<line x1="40.8" y1="545.9" x2="126.1" y2="545.9" stroke="#231f20" stroke-width="1.1"/>
<text x="43.400000000000006" y="528.8" font-size="8.8" text-anchor="start" fill="#231f20" stroke="#231f20" stroke-width="0.22" textLength="5.4" lengthAdjust="spacingAndGlyphs">0</text>
<text x="111.60000000000001" y="528.8" font-size="8.8" text-anchor="start" fill="#231f20" stroke="#231f20" stroke-width="0.22" textLength="5.5" lengthAdjust="spacingAndGlyphs">6</text>
<text x="43.7" y="602.2" font-size="8.8" text-anchor="start" fill="#231f20" stroke="#231f20" stroke-width="0.22" textLength="9.8" lengthAdjust="spacingAndGlyphs">73</text>
<text x="112.10000000000001" y="602.2" font-size="8.8" text-anchor="start" fill="#231f20" stroke="#231f20" stroke-width="0.22" textLength="8.9" lengthAdjust="spacingAndGlyphs">21</text>
<text x="82.8" y="511.6" font-size="7.8" text-anchor="middle" fill="#231f20" stroke="#231f20" stroke-width="0.22" textLength="34.4" lengthAdjust="spacingAndGlyphs">sgAAVS1</text>
<text x="35.5" y="528.7" font-size="6.5" text-anchor="end" fill="#231f20" stroke="#231f20" stroke-width="0.1" textLength="16.3" lengthAdjust="spacingAndGlyphs">1×10<tspan font-size="4" dy="-2.4">5</tspan></text>
<line x1="39.0" y1="526.1" x2="40.8" y2="526.1" stroke="#231f20" stroke-width="0.9"/>
<text x="35.5" y="547.4" font-size="6.5" text-anchor="end" fill="#231f20" stroke="#231f20" stroke-width="0.1" textLength="17.6" lengthAdjust="spacingAndGlyphs">10000</text>
<line x1="39.0" y1="545.3" x2="40.8" y2="545.3" stroke="#231f20" stroke-width="0.9"/>
<text x="35.5" y="567.5" font-size="6.5" text-anchor="end" fill="#231f20" stroke="#231f20" stroke-width="0.1" textLength="14.6" lengthAdjust="spacingAndGlyphs">1000</text>
<line x1="39.0" y1="565.4" x2="40.8" y2="565.4" stroke="#231f20" stroke-width="0.9"/>
<text x="35.5" y="587.5" font-size="6.5" text-anchor="end" fill="#231f20" stroke="#231f20" stroke-width="0.1" textLength="10.8" lengthAdjust="spacingAndGlyphs">100</text>
<line x1="39.0" y1="585.4" x2="40.8" y2="585.4" stroke="#231f20" stroke-width="0.9"/>
<text x="35.5" y="596.6" font-size="6.5" text-anchor="end" fill="#231f20" stroke="#231f20" stroke-width="0.1">0</text>
<line x1="39.0" y1="594.5" x2="40.8" y2="594.5" stroke="#231f20" stroke-width="0.9"/>
<line x1="39.8" y1="539.5202240832515" x2="40.8" y2="539.5202240832515" stroke="#231f20" stroke-width="0.6"/>
<line x1="39.8" y1="536.1392719093825" x2="40.8" y2="536.1392719093825" stroke="#231f20" stroke-width="0.6"/>
<line x1="39.8" y1="533.7404481665031" x2="40.8" y2="533.7404481665031" stroke="#231f20" stroke-width="0.6"/>
<line x1="39.8" y1="531.8797759167485" x2="40.8" y2="531.8797759167485" stroke="#231f20" stroke-width="0.6"/>
<line x1="39.8" y1="530.359495992634" x2="40.8" y2="530.359495992634" stroke="#231f20" stroke-width="0.6"/>
<line x1="39.8" y1="529.0741176317263" x2="40.8" y2="529.0741176317263" stroke="#231f20" stroke-width="0.6"/>
<line x1="39.8" y1="527.9606722497547" x2="40.8" y2="527.9606722497547" stroke="#231f20" stroke-width="0.6"/>
<line x1="39.8" y1="526.9785438187649" x2="40.8" y2="526.9785438187649" stroke="#231f20" stroke-width="0.6"/>
<line x1="39.8" y1="559.3492970871539" x2="40.8" y2="559.3492970871539" stroke="#231f20" stroke-width="0.6"/>
<line x1="39.8" y1="555.8098627801347" x2="40.8" y2="555.8098627801347" stroke="#231f20" stroke-width="0.6"/>
<line x1="39.8" y1="553.2985941743079" x2="40.8" y2="553.2985941743079" stroke="#231f20" stroke-width="0.6"/>
<line x1="39.8" y1="551.350702912846" x2="40.8" y2="551.350702912846" stroke="#231f20" stroke-width="0.6"/>
<line x1="39.8" y1="549.7591598672888" x2="40.8" y2="549.7591598672888" stroke="#231f20" stroke-width="0.6"/>
<line x1="39.8" y1="548.4135293957133" x2="40.8" y2="548.4135293957133" stroke="#231f20" stroke-width="0.6"/>
<line x1="39.8" y1="547.2478912614619" x2="40.8" y2="547.2478912614619" stroke="#231f20" stroke-width="0.6"/>
<line x1="39.8" y1="546.2197255602696" x2="40.8" y2="546.2197255602696" stroke="#231f20" stroke-width="0.6"/>
<line x1="39.8" y1="579.3794000867204" x2="40.8" y2="579.3794000867204" stroke="#231f20" stroke-width="0.6"/>
<line x1="39.8" y1="575.8575749056067" x2="40.8" y2="575.8575749056067" stroke="#231f20" stroke-width="0.6"/>
<line x1="39.8" y1="573.3588001734407" x2="40.8" y2="573.3588001734407" stroke="#231f20" stroke-width="0.6"/>
<line x1="39.8" y1="571.4205999132796" x2="40.8" y2="571.4205999132796" stroke="#231f20" stroke-width="0.6"/>
<line x1="39.8" y1="569.8369749923271" x2="40.8" y2="569.8369749923271" stroke="#231f20" stroke-width="0.6"/>
<line x1="39.8" y1="568.4980391997149" x2="40.8" y2="568.4980391997149" stroke="#231f20" stroke-width="0.6"/>
<line x1="39.8" y1="567.3382002601611" x2="40.8" y2="567.3382002601611" stroke="#231f20" stroke-width="0.6"/>
<line x1="39.8" y1="566.3151498112135" x2="40.8" y2="566.3151498112135" stroke="#231f20" stroke-width="0.6"/>
<text x="49.0" y="613.8" font-size="6.5" text-anchor="middle" fill="#231f20" stroke="#231f20" stroke-width="0.1">0</text>
<line x1="49.0" y1="603.2" x2="49.0" y2="605.4000000000001" stroke="#231f20" stroke-width="0.9"/>
<text x="59.0" y="613.8" font-size="6.5" text-anchor="middle" fill="#231f20" stroke="#231f20" stroke-width="0.1" textLength="10.8" lengthAdjust="spacingAndGlyphs">100</text>
<line x1="59.0" y1="603.2" x2="59.0" y2="605.4000000000001" stroke="#231f20" stroke-width="0.9"/>
<text x="79.8" y="613.8" font-size="6.5" text-anchor="middle" fill="#231f20" stroke="#231f20" stroke-width="0.1" textLength="14.2" lengthAdjust="spacingAndGlyphs">1000</text>
<line x1="79.8" y1="603.2" x2="79.8" y2="605.4000000000001" stroke="#231f20" stroke-width="0.9"/>
<text x="98.9" y="613.8" font-size="6.5" text-anchor="middle" fill="#231f20" stroke="#231f20" stroke-width="0.1" textLength="17.7" lengthAdjust="spacingAndGlyphs">10000</text>
<line x1="98.9" y1="603.2" x2="98.9" y2="605.4000000000001" stroke="#231f20" stroke-width="0.9"/>
<text x="118.1" y="613.8" font-size="6.5" text-anchor="middle" fill="#231f20" stroke="#231f20" stroke-width="0.1" textLength="16.6" lengthAdjust="spacingAndGlyphs">1×10<tspan font-size="4" dy="-2.4">5</tspan></text>
<line x1="118.1" y1="603.2" x2="118.1" y2="605.4000000000001" stroke="#231f20" stroke-width="0.9"/>
<line x1="65.26142390981082" y1="603.2" x2="65.26142390981082" y2="604.4000000000001" stroke="#231f20" stroke-width="0.6"/>
<line x1="68.92412209816898" y1="603.2" x2="68.92412209816898" y2="604.4000000000001" stroke="#231f20" stroke-width="0.6"/>
<line x1="71.52284781962162" y1="603.2" x2="71.52284781962162" y2="604.4000000000001" stroke="#231f20" stroke-width="0.6"/>
<line x1="73.5385760901892" y1="603.2" x2="73.5385760901892" y2="604.4000000000001" stroke="#231f20" stroke-width="0.6"/>
<line x1="75.18554600797978" y1="603.2" x2="75.18554600797978" y2="604.4000000000001" stroke="#231f20" stroke-width="0.6"/>
<line x1="76.57803923229655" y1="603.2" x2="76.57803923229655" y2="604.4000000000001" stroke="#231f20" stroke-width="0.6"/>
<line x1="77.78427172943242" y1="603.2" x2="77.78427172943242" y2="604.4000000000001" stroke="#231f20" stroke-width="0.6"/>
<line x1="78.84824419633796" y1="603.2" x2="78.84824419633796" y2="604.4000000000001" stroke="#231f20" stroke-width="0.6"/>
<line x1="85.54967291718204" y1="603.2" x2="85.54967291718204" y2="604.4000000000001" stroke="#231f20" stroke-width="0.6"/>
<line x1="88.91301596514555" y1="603.2" x2="88.91301596514555" y2="604.4000000000001" stroke="#231f20" stroke-width="0.6"/>
<line x1="91.29934583436408" y1="603.2" x2="91.29934583436408" y2="604.4000000000001" stroke="#231f20" stroke-width="0.6"/>
<line x1="93.15032708281795" y1="603.2" x2="93.15032708281795" y2="604.4000000000001" stroke="#231f20" stroke-width="0.6"/>
<line x1="94.66268888232759" y1="603.2" x2="94.66268888232759" y2="604.4000000000001" stroke="#231f20" stroke-width="0.6"/>
<line x1="95.9413725642723" y1="603.2" x2="95.9413725642723" y2="604.4000000000001" stroke="#231f20" stroke-width="0.6"/>
<line x1="97.04901875154613" y1="603.2" x2="97.04901875154613" y2="604.4000000000001" stroke="#231f20" stroke-width="0.6"/>
<line x1="98.02603193029111" y1="603.2" x2="98.02603193029111" y2="604.4000000000001" stroke="#231f20" stroke-width="0.6"/>
<line x1="104.67977591674844" y1="603.2" x2="104.67977591674844" y2="604.4000000000001" stroke="#231f20" stroke-width="0.6"/>
<line x1="108.06072809061752" y1="603.2" x2="108.06072809061752" y2="604.4000000000001" stroke="#231f20" stroke-width="0.6"/>
<line x1="110.45955183349687" y1="603.2" x2="110.45955183349687" y2="604.4000000000001" stroke="#231f20" stroke-width="0.6"/>
<line x1="112.32022408325156" y1="603.2" x2="112.32022408325156" y2="604.4000000000001" stroke="#231f20" stroke-width="0.6"/>
<line x1="113.84050400736596" y1="603.2" x2="113.84050400736596" y2="604.4000000000001" stroke="#231f20" stroke-width="0.6"/>
<line x1="115.12588236827374" y1="603.2" x2="115.12588236827374" y2="604.4000000000001" stroke="#231f20" stroke-width="0.6"/>
<line x1="116.23932775024532" y1="603.2" x2="116.23932775024532" y2="604.4000000000001" stroke="#231f20" stroke-width="0.6"/>
<line x1="117.22145618123504" y1="603.2" x2="117.22145618123504" y2="604.4000000000001" stroke="#231f20" stroke-width="0.6"/>
<line x1="40.8" y1="604.2" x2="125.1" y2="604.2" stroke="#231f20" stroke-width="1.6" stroke-dasharray="0.8 0.9" opacity="0.75"/>
<line x1="39.8" y1="520.6" x2="39.8" y2="603.2" stroke="#231f20" stroke-width="1.4" stroke-dasharray="0.7 1.6" opacity="0.6"/>
<rect x="157" y="518.2" width="89" height="86.0" fill="none" stroke="#231f20" stroke-width="1.1"/>
<line x1="207" y1="518.2" x2="207" y2="604.2" stroke="#231f20" stroke-width="1.1"/>
<line x1="157" y1="545.3" x2="246" y2="545.3" stroke="#231f20" stroke-width="1.1"/>
<text x="162.89999999999998" y="528.8" font-size="8.8" text-anchor="start" fill="#231f20" stroke="#231f20" stroke-width="0.22" textLength="3.9" lengthAdjust="spacingAndGlyphs">1</text>
<text x="232.2" y="528.8" font-size="8.8" text-anchor="start" fill="#231f20" stroke="#231f20" stroke-width="0.22" textLength="8.3" lengthAdjust="spacingAndGlyphs">11</text>
<text x="163.5" y="602.3" font-size="8.8" text-anchor="start" fill="#231f20" stroke="#231f20" stroke-width="0.22" textLength="9.7" lengthAdjust="spacingAndGlyphs">44</text>
<text x="231.1" y="602.3" font-size="8.8" text-anchor="start" fill="#231f20" stroke="#231f20" stroke-width="0.22" textLength="9.8" lengthAdjust="spacingAndGlyphs">44</text>
<text x="201.3" y="500.1" font-size="7.8" text-anchor="middle" fill="#231f20" stroke="#231f20" stroke-width="0.22" textLength="27.7" lengthAdjust="spacingAndGlyphs">Su9T01</text>
<text x="201.3" y="510.5" font-size="7.8" text-anchor="middle" fill="#231f20" stroke="#231f20" stroke-width="0.22" textLength="31.5" lengthAdjust="spacingAndGlyphs">sgCDK6</text>
<text x="151.7" y="528.7" font-size="6.5" text-anchor="end" fill="#231f20" stroke="#231f20" stroke-width="0.1" textLength="16.3" lengthAdjust="spacingAndGlyphs">1×10<tspan font-size="4" dy="-2.4">5</tspan></text>
<line x1="155.2" y1="526.1" x2="157" y2="526.1" stroke="#231f20" stroke-width="0.9"/>
<text x="151.7" y="547.4" font-size="6.5" text-anchor="end" fill="#231f20" stroke="#231f20" stroke-width="0.1" textLength="17.6" lengthAdjust="spacingAndGlyphs">10000</text>
<line x1="155.2" y1="545.3" x2="157" y2="545.3" stroke="#231f20" stroke-width="0.9"/>
<text x="151.7" y="567.5" font-size="6.5" text-anchor="end" fill="#231f20" stroke="#231f20" stroke-width="0.1" textLength="14.6" lengthAdjust="spacingAndGlyphs">1000</text>
<line x1="155.2" y1="565.4" x2="157" y2="565.4" stroke="#231f20" stroke-width="0.9"/>
<text x="151.7" y="587.5" font-size="6.5" text-anchor="end" fill="#231f20" stroke="#231f20" stroke-width="0.1" textLength="10.8" lengthAdjust="spacingAndGlyphs">100</text>
<line x1="155.2" y1="585.4" x2="157" y2="585.4" stroke="#231f20" stroke-width="0.9"/>
<text x="151.7" y="596.6" font-size="6.5" text-anchor="end" fill="#231f20" stroke="#231f20" stroke-width="0.1">0</text>
<line x1="155.2" y1="594.5" x2="157" y2="594.5" stroke="#231f20" stroke-width="0.9"/>
<line x1="156.0" y1="539.5202240832515" x2="157" y2="539.5202240832515" stroke="#231f20" stroke-width="0.6"/>
<line x1="156.0" y1="536.1392719093825" x2="157" y2="536.1392719093825" stroke="#231f20" stroke-width="0.6"/>
<line x1="156.0" y1="533.7404481665031" x2="157" y2="533.7404481665031" stroke="#231f20" stroke-width="0.6"/>
<line x1="156.0" y1="531.8797759167485" x2="157" y2="531.8797759167485" stroke="#231f20" stroke-width="0.6"/>
<line x1="156.0" y1="530.359495992634" x2="157" y2="530.359495992634" stroke="#231f20" stroke-width="0.6"/>
<line x1="156.0" y1="529.0741176317263" x2="157" y2="529.0741176317263" stroke="#231f20" stroke-width="0.6"/>
<line x1="156.0" y1="527.9606722497547" x2="157" y2="527.9606722497547" stroke="#231f20" stroke-width="0.6"/>
<line x1="156.0" y1="526.9785438187649" x2="157" y2="526.9785438187649" stroke="#231f20" stroke-width="0.6"/>
<line x1="156.0" y1="559.3492970871539" x2="157" y2="559.3492970871539" stroke="#231f20" stroke-width="0.6"/>
<line x1="156.0" y1="555.8098627801347" x2="157" y2="555.8098627801347" stroke="#231f20" stroke-width="0.6"/>
<line x1="156.0" y1="553.2985941743079" x2="157" y2="553.2985941743079" stroke="#231f20" stroke-width="0.6"/>
<line x1="156.0" y1="551.350702912846" x2="157" y2="551.350702912846" stroke="#231f20" stroke-width="0.6"/>
<line x1="156.0" y1="549.7591598672888" x2="157" y2="549.7591598672888" stroke="#231f20" stroke-width="0.6"/>
<line x1="156.0" y1="548.4135293957133" x2="157" y2="548.4135293957133" stroke="#231f20" stroke-width="0.6"/>
<line x1="156.0" y1="547.2478912614619" x2="157" y2="547.2478912614619" stroke="#231f20" stroke-width="0.6"/>
<line x1="156.0" y1="546.2197255602696" x2="157" y2="546.2197255602696" stroke="#231f20" stroke-width="0.6"/>
<line x1="156.0" y1="579.3794000867204" x2="157" y2="579.3794000867204" stroke="#231f20" stroke-width="0.6"/>
<line x1="156.0" y1="575.8575749056067" x2="157" y2="575.8575749056067" stroke="#231f20" stroke-width="0.6"/>
<line x1="156.0" y1="573.3588001734407" x2="157" y2="573.3588001734407" stroke="#231f20" stroke-width="0.6"/>
<line x1="156.0" y1="571.4205999132796" x2="157" y2="571.4205999132796" stroke="#231f20" stroke-width="0.6"/>
<line x1="156.0" y1="569.8369749923271" x2="157" y2="569.8369749923271" stroke="#231f20" stroke-width="0.6"/>
<line x1="156.0" y1="568.4980391997149" x2="157" y2="568.4980391997149" stroke="#231f20" stroke-width="0.6"/>
<line x1="156.0" y1="567.3382002601611" x2="157" y2="567.3382002601611" stroke="#231f20" stroke-width="0.6"/>
<line x1="156.0" y1="566.3151498112135" x2="157" y2="566.3151498112135" stroke="#231f20" stroke-width="0.6"/>
<text x="165.2" y="613.8" font-size="6.5" text-anchor="middle" fill="#231f20" stroke="#231f20" stroke-width="0.1">0</text>
<line x1="165.2" y1="604.2" x2="165.2" y2="606.4000000000001" stroke="#231f20" stroke-width="0.9"/>
<text x="175.2" y="613.8" font-size="6.5" text-anchor="middle" fill="#231f20" stroke="#231f20" stroke-width="0.1" textLength="10.8" lengthAdjust="spacingAndGlyphs">100</text>
<line x1="175.2" y1="604.2" x2="175.2" y2="606.4000000000001" stroke="#231f20" stroke-width="0.9"/>
<text x="196" y="613.8" font-size="6.5" text-anchor="middle" fill="#231f20" stroke="#231f20" stroke-width="0.1" textLength="14.2" lengthAdjust="spacingAndGlyphs">1000</text>
<line x1="196" y1="604.2" x2="196" y2="606.4000000000001" stroke="#231f20" stroke-width="0.9"/>
<text x="215.1" y="613.8" font-size="6.5" text-anchor="middle" fill="#231f20" stroke="#231f20" stroke-width="0.1" textLength="17.7" lengthAdjust="spacingAndGlyphs">10000</text>
<line x1="215.1" y1="604.2" x2="215.1" y2="606.4000000000001" stroke="#231f20" stroke-width="0.9"/>
<text x="234.3" y="613.8" font-size="6.5" text-anchor="middle" fill="#231f20" stroke="#231f20" stroke-width="0.1" textLength="16.6" lengthAdjust="spacingAndGlyphs">1×10<tspan font-size="4" dy="-2.4">5</tspan></text>
<line x1="234.3" y1="604.2" x2="234.3" y2="606.4000000000001" stroke="#231f20" stroke-width="0.9"/>
<line x1="181.4614239098108" y1="604.2" x2="181.4614239098108" y2="605.4000000000001" stroke="#231f20" stroke-width="0.6"/>
<line x1="185.12412209816898" y1="604.2" x2="185.12412209816898" y2="605.4000000000001" stroke="#231f20" stroke-width="0.6"/>
<line x1="187.72284781962162" y1="604.2" x2="187.72284781962162" y2="605.4000000000001" stroke="#231f20" stroke-width="0.6"/>
<line x1="189.73857609018918" y1="604.2" x2="189.73857609018918" y2="605.4000000000001" stroke="#231f20" stroke-width="0.6"/>
<line x1="191.38554600797977" y1="604.2" x2="191.38554600797977" y2="605.4000000000001" stroke="#231f20" stroke-width="0.6"/>
<line x1="192.77803923229652" y1="604.2" x2="192.77803923229652" y2="605.4000000000001" stroke="#231f20" stroke-width="0.6"/>
<line x1="193.9842717294324" y1="604.2" x2="193.9842717294324" y2="605.4000000000001" stroke="#231f20" stroke-width="0.6"/>
<line x1="195.04824419633795" y1="604.2" x2="195.04824419633795" y2="605.4000000000001" stroke="#231f20" stroke-width="0.6"/>
<line x1="201.74967291718204" y1="604.2" x2="201.74967291718204" y2="605.4000000000001" stroke="#231f20" stroke-width="0.6"/>
<line x1="205.11301596514556" y1="604.2" x2="205.11301596514556" y2="605.4000000000001" stroke="#231f20" stroke-width="0.6"/>
<line x1="207.49934583436408" y1="604.2" x2="207.49934583436408" y2="605.4000000000001" stroke="#231f20" stroke-width="0.6"/>
<line x1="209.35032708281796" y1="604.2" x2="209.35032708281796" y2="605.4000000000001" stroke="#231f20" stroke-width="0.6"/>
<line x1="210.8626888823276" y1="604.2" x2="210.8626888823276" y2="605.4000000000001" stroke="#231f20" stroke-width="0.6"/>
<line x1="212.1413725642723" y1="604.2" x2="212.1413725642723" y2="605.4000000000001" stroke="#231f20" stroke-width="0.6"/>
<line x1="213.24901875154612" y1="604.2" x2="213.24901875154612" y2="605.4000000000001" stroke="#231f20" stroke-width="0.6"/>
<line x1="214.2260319302911" y1="604.2" x2="214.2260319302911" y2="605.4000000000001" stroke="#231f20" stroke-width="0.6"/>
<line x1="220.87977591674843" y1="604.2" x2="220.87977591674843" y2="605.4000000000001" stroke="#231f20" stroke-width="0.6"/>
<line x1="224.2607280906175" y1="604.2" x2="224.2607280906175" y2="605.4000000000001" stroke="#231f20" stroke-width="0.6"/>
<line x1="226.65955183349686" y1="604.2" x2="226.65955183349686" y2="605.4000000000001" stroke="#231f20" stroke-width="0.6"/>
<line x1="228.52022408325155" y1="604.2" x2="228.52022408325155" y2="605.4000000000001" stroke="#231f20" stroke-width="0.6"/>
<line x1="230.04050400736594" y1="604.2" x2="230.04050400736594" y2="605.4000000000001" stroke="#231f20" stroke-width="0.6"/>
<line x1="231.3258823682737" y1="604.2" x2="231.3258823682737" y2="605.4000000000001" stroke="#231f20" stroke-width="0.6"/>
<line x1="232.4393277502453" y1="604.2" x2="232.4393277502453" y2="605.4000000000001" stroke="#231f20" stroke-width="0.6"/>
<line x1="233.42145618123502" y1="604.2" x2="233.42145618123502" y2="605.4000000000001" stroke="#231f20" stroke-width="0.6"/>
<line x1="157" y1="605.2" x2="245" y2="605.2" stroke="#231f20" stroke-width="1.6" stroke-dasharray="0.8 0.9" opacity="0.75"/>
<line x1="156.0" y1="520.2" x2="156.0" y2="604.2" stroke="#231f20" stroke-width="1.4" stroke-dasharray="0.7 1.6" opacity="0.6"/>
<rect x="274.6" y="517.8" width="87.09999999999997" height="86.40000000000009" fill="none" stroke="#231f20" stroke-width="1.1"/>
<line x1="324.1" y1="517.8" x2="324.1" y2="604.2" stroke="#231f20" stroke-width="1.1"/>
<line x1="274.6" y1="545.0" x2="361.7" y2="545.0" stroke="#231f20" stroke-width="1.1"/>
<text x="279.5" y="529.3" font-size="8.8" text-anchor="start" fill="#231f20" stroke="#231f20" stroke-width="0.22" textLength="4.6" lengthAdjust="spacingAndGlyphs">1</text>
<text x="348.59999999999997" y="529.3" font-size="8.8" text-anchor="start" fill="#231f20" stroke="#231f20" stroke-width="0.22" textLength="8.3" lengthAdjust="spacingAndGlyphs">11</text>
<text x="280.59999999999997" y="601.9" font-size="8.8" text-anchor="start" fill="#231f20" stroke="#231f20" stroke-width="0.22" textLength="9.4" lengthAdjust="spacingAndGlyphs">44</text>
<text x="348.3" y="601.9" font-size="8.8" text-anchor="start" fill="#231f20" stroke="#231f20" stroke-width="0.22" textLength="9.3" lengthAdjust="spacingAndGlyphs">44</text>
<text x="318.2" y="511.3" font-size="7.8" text-anchor="middle" fill="#231f20" stroke="#231f20" stroke-width="0.22" textLength="38.0" lengthAdjust="spacingAndGlyphs">sgCCND2</text>
<text x="269.3" y="528.7" font-size="6.5" text-anchor="end" fill="#231f20" stroke="#231f20" stroke-width="0.1" textLength="16.3" lengthAdjust="spacingAndGlyphs">1×10<tspan font-size="4" dy="-2.4">5</tspan></text>
<line x1="272.8" y1="526.1" x2="274.6" y2="526.1" stroke="#231f20" stroke-width="0.9"/>
<text x="269.3" y="547.4" font-size="6.5" text-anchor="end" fill="#231f20" stroke="#231f20" stroke-width="0.1" textLength="17.6" lengthAdjust="spacingAndGlyphs">10000</text>
<line x1="272.8" y1="545.3" x2="274.6" y2="545.3" stroke="#231f20" stroke-width="0.9"/>
<text x="269.3" y="567.5" font-size="6.5" text-anchor="end" fill="#231f20" stroke="#231f20" stroke-width="0.1" textLength="14.6" lengthAdjust="spacingAndGlyphs">1000</text>
<line x1="272.8" y1="565.4" x2="274.6" y2="565.4" stroke="#231f20" stroke-width="0.9"/>
<text x="269.3" y="587.5" font-size="6.5" text-anchor="end" fill="#231f20" stroke="#231f20" stroke-width="0.1" textLength="10.8" lengthAdjust="spacingAndGlyphs">100</text>
<line x1="272.8" y1="585.4" x2="274.6" y2="585.4" stroke="#231f20" stroke-width="0.9"/>
<text x="269.3" y="596.6" font-size="6.5" text-anchor="end" fill="#231f20" stroke="#231f20" stroke-width="0.1">0</text>
<line x1="272.8" y1="594.5" x2="274.6" y2="594.5" stroke="#231f20" stroke-width="0.9"/>
<line x1="273.6" y1="539.5202240832515" x2="274.6" y2="539.5202240832515" stroke="#231f20" stroke-width="0.6"/>
<line x1="273.6" y1="536.1392719093825" x2="274.6" y2="536.1392719093825" stroke="#231f20" stroke-width="0.6"/>
<line x1="273.6" y1="533.7404481665031" x2="274.6" y2="533.7404481665031" stroke="#231f20" stroke-width="0.6"/>
<line x1="273.6" y1="531.8797759167485" x2="274.6" y2="531.8797759167485" stroke="#231f20" stroke-width="0.6"/>
<line x1="273.6" y1="530.359495992634" x2="274.6" y2="530.359495992634" stroke="#231f20" stroke-width="0.6"/>
<line x1="273.6" y1="529.0741176317263" x2="274.6" y2="529.0741176317263" stroke="#231f20" stroke-width="0.6"/>
<line x1="273.6" y1="527.9606722497547" x2="274.6" y2="527.9606722497547" stroke="#231f20" stroke-width="0.6"/>
<line x1="273.6" y1="526.9785438187649" x2="274.6" y2="526.9785438187649" stroke="#231f20" stroke-width="0.6"/>
<line x1="273.6" y1="559.3492970871539" x2="274.6" y2="559.3492970871539" stroke="#231f20" stroke-width="0.6"/>
<line x1="273.6" y1="555.8098627801347" x2="274.6" y2="555.8098627801347" stroke="#231f20" stroke-width="0.6"/>
<line x1="273.6" y1="553.2985941743079" x2="274.6" y2="553.2985941743079" stroke="#231f20" stroke-width="0.6"/>
<line x1="273.6" y1="551.350702912846" x2="274.6" y2="551.350702912846" stroke="#231f20" stroke-width="0.6"/>
<line x1="273.6" y1="549.7591598672888" x2="274.6" y2="549.7591598672888" stroke="#231f20" stroke-width="0.6"/>
<line x1="273.6" y1="548.4135293957133" x2="274.6" y2="548.4135293957133" stroke="#231f20" stroke-width="0.6"/>
<line x1="273.6" y1="547.2478912614619" x2="274.6" y2="547.2478912614619" stroke="#231f20" stroke-width="0.6"/>
<line x1="273.6" y1="546.2197255602696" x2="274.6" y2="546.2197255602696" stroke="#231f20" stroke-width="0.6"/>
<line x1="273.6" y1="579.3794000867204" x2="274.6" y2="579.3794000867204" stroke="#231f20" stroke-width="0.6"/>
<line x1="273.6" y1="575.8575749056067" x2="274.6" y2="575.8575749056067" stroke="#231f20" stroke-width="0.6"/>
<line x1="273.6" y1="573.3588001734407" x2="274.6" y2="573.3588001734407" stroke="#231f20" stroke-width="0.6"/>
<line x1="273.6" y1="571.4205999132796" x2="274.6" y2="571.4205999132796" stroke="#231f20" stroke-width="0.6"/>
<line x1="273.6" y1="569.8369749923271" x2="274.6" y2="569.8369749923271" stroke="#231f20" stroke-width="0.6"/>
<line x1="273.6" y1="568.4980391997149" x2="274.6" y2="568.4980391997149" stroke="#231f20" stroke-width="0.6"/>
<line x1="273.6" y1="567.3382002601611" x2="274.6" y2="567.3382002601611" stroke="#231f20" stroke-width="0.6"/>
<line x1="273.6" y1="566.3151498112135" x2="274.6" y2="566.3151498112135" stroke="#231f20" stroke-width="0.6"/>
<text x="282.8" y="613.8" font-size="6.5" text-anchor="middle" fill="#231f20" stroke="#231f20" stroke-width="0.1">0</text>
<line x1="282.8" y1="604.2" x2="282.8" y2="606.4000000000001" stroke="#231f20" stroke-width="0.9"/>
<text x="292.8" y="613.8" font-size="6.5" text-anchor="middle" fill="#231f20" stroke="#231f20" stroke-width="0.1" textLength="10.8" lengthAdjust="spacingAndGlyphs">100</text>
<line x1="292.8" y1="604.2" x2="292.8" y2="606.4000000000001" stroke="#231f20" stroke-width="0.9"/>
<text x="313.6" y="613.8" font-size="6.5" text-anchor="middle" fill="#231f20" stroke="#231f20" stroke-width="0.1" textLength="14.2" lengthAdjust="spacingAndGlyphs">1000</text>
<line x1="313.6" y1="604.2" x2="313.6" y2="606.4000000000001" stroke="#231f20" stroke-width="0.9"/>
<text x="332.70000000000005" y="613.8" font-size="6.5" text-anchor="middle" fill="#231f20" stroke="#231f20" stroke-width="0.1" textLength="17.7" lengthAdjust="spacingAndGlyphs">10000</text>
<line x1="332.70000000000005" y1="604.2" x2="332.70000000000005" y2="606.4000000000001" stroke="#231f20" stroke-width="0.9"/>
<text x="351.90000000000003" y="613.8" font-size="6.5" text-anchor="middle" fill="#231f20" stroke="#231f20" stroke-width="0.1" textLength="16.6" lengthAdjust="spacingAndGlyphs">1×10<tspan font-size="4" dy="-2.4">5</tspan></text>
<line x1="351.90000000000003" y1="604.2" x2="351.90000000000003" y2="606.4000000000001" stroke="#231f20" stroke-width="0.9"/>
<line x1="299.0614239098108" y1="604.2" x2="299.0614239098108" y2="605.4000000000001" stroke="#231f20" stroke-width="0.6"/>
<line x1="302.724122098169" y1="604.2" x2="302.724122098169" y2="605.4000000000001" stroke="#231f20" stroke-width="0.6"/>
<line x1="305.32284781962164" y1="604.2" x2="305.32284781962164" y2="605.4000000000001" stroke="#231f20" stroke-width="0.6"/>
<line x1="307.3385760901892" y1="604.2" x2="307.3385760901892" y2="605.4000000000001" stroke="#231f20" stroke-width="0.6"/>
<line x1="308.9855460079798" y1="604.2" x2="308.9855460079798" y2="605.4000000000001" stroke="#231f20" stroke-width="0.6"/>
<line x1="310.37803923229654" y1="604.2" x2="310.37803923229654" y2="605.4000000000001" stroke="#231f20" stroke-width="0.6"/>
<line x1="311.58427172943243" y1="604.2" x2="311.58427172943243" y2="605.4000000000001" stroke="#231f20" stroke-width="0.6"/>
<line x1="312.64824419633794" y1="604.2" x2="312.64824419633794" y2="605.4000000000001" stroke="#231f20" stroke-width="0.6"/>
<line x1="319.3496729171821" y1="604.2" x2="319.3496729171821" y2="605.4000000000001" stroke="#231f20" stroke-width="0.6"/>
<line x1="322.7130159651456" y1="604.2" x2="322.7130159651456" y2="605.4000000000001" stroke="#231f20" stroke-width="0.6"/>
<line x1="325.0993458343641" y1="604.2" x2="325.0993458343641" y2="605.4000000000001" stroke="#231f20" stroke-width="0.6"/>
<line x1="326.950327082818" y1="604.2" x2="326.950327082818" y2="605.4000000000001" stroke="#231f20" stroke-width="0.6"/>
<line x1="328.4626888823276" y1="604.2" x2="328.4626888823276" y2="605.4000000000001" stroke="#231f20" stroke-width="0.6"/>
<line x1="329.74137256427235" y1="604.2" x2="329.74137256427235" y2="605.4000000000001" stroke="#231f20" stroke-width="0.6"/>
<line x1="330.84901875154617" y1="604.2" x2="330.84901875154617" y2="605.4000000000001" stroke="#231f20" stroke-width="0.6"/>
<line x1="331.82603193029115" y1="604.2" x2="331.82603193029115" y2="605.4000000000001" stroke="#231f20" stroke-width="0.6"/>
<line x1="338.4797759167485" y1="604.2" x2="338.4797759167485" y2="605.4000000000001" stroke="#231f20" stroke-width="0.6"/>
<line x1="341.86072809061756" y1="604.2" x2="341.86072809061756" y2="605.4000000000001" stroke="#231f20" stroke-width="0.6"/>
<line x1="344.2595518334969" y1="604.2" x2="344.2595518334969" y2="605.4000000000001" stroke="#231f20" stroke-width="0.6"/>
<line x1="346.1202240832516" y1="604.2" x2="346.1202240832516" y2="605.4000000000001" stroke="#231f20" stroke-width="0.6"/>
<line x1="347.640504007366" y1="604.2" x2="347.640504007366" y2="605.4000000000001" stroke="#231f20" stroke-width="0.6"/>
<line x1="348.9258823682738" y1="604.2" x2="348.9258823682738" y2="605.4000000000001" stroke="#231f20" stroke-width="0.6"/>
<line x1="350.0393277502454" y1="604.2" x2="350.0393277502454" y2="605.4000000000001" stroke="#231f20" stroke-width="0.6"/>
<line x1="351.02145618123507" y1="604.2" x2="351.02145618123507" y2="605.4000000000001" stroke="#231f20" stroke-width="0.6"/>
<line x1="274.6" y1="605.2" x2="360.7" y2="605.2" stroke="#231f20" stroke-width="1.6" stroke-dasharray="0.8 0.9" opacity="0.75"/>
<line x1="273.6" y1="519.8" x2="273.6" y2="604.2" stroke="#231f20" stroke-width="1.4" stroke-dasharray="0.7 1.6" opacity="0.6"/>
<line x1="11.3" y1="521" x2="11.3" y2="613.5" stroke="#231f20" stroke-width="0.9"/>
<path d="M11.3,516.8 L8.9,521 L13.7,521 Z" fill="#231f20"/>
<text x="15.1" y="623.5" font-size="8.6" text-anchor="start" fill="#231f20" stroke="#231f20" stroke-width="0.22" textLength="5.8" lengthAdjust="spacingAndGlyphs" transform="rotate(-90 15.1 623.5)">PI</text>
<text x="32.1" y="627.8" font-size="9" text-anchor="start" fill="#231f20" stroke="#231f20" stroke-width="0.22" textLength="33.7" lengthAdjust="spacingAndGlyphs">Annexin V</text>
<line x1="74.4" y1="625" x2="328" y2="625" stroke="#231f20" stroke-width="0.9"/>
<path d="M333.2,625 L329,622.6 L329,627.4 Z" fill="#231f20"/>
<text x="463.5" y="514.7" font-size="8.2" text-anchor="middle" fill="#231f20" stroke="#231f20" stroke-width="0.22" textLength="27.6" lengthAdjust="spacingAndGlyphs">Su9T01</text>
<line x1="414.5" y1="519.6" x2="414.5" y2="597.5" stroke="#231f20" stroke-width="1.3"/>
<line x1="413.9" y1="596.9" x2="512.6" y2="596.9" stroke="#231f20" stroke-width="1.3"/>
<line x1="411.3" y1="596.9" x2="414.5" y2="596.9" stroke="#231f20" stroke-width="1.1"/>
<text x="409.2" y="599.6999999999999" font-size="8.2" text-anchor="end" fill="#231f20" stroke="#231f20" stroke-width="0.22" textLength="4.4" lengthAdjust="spacingAndGlyphs">0</text>
<line x1="411.3" y1="582.14" x2="414.5" y2="582.14" stroke="#231f20" stroke-width="1.1"/>
<text x="409.2" y="584.9399999999999" font-size="8.2" text-anchor="end" fill="#231f20" stroke="#231f20" stroke-width="0.22" textLength="8.6" lengthAdjust="spacingAndGlyphs">20</text>
<line x1="411.3" y1="567.38" x2="414.5" y2="567.38" stroke="#231f20" stroke-width="1.1"/>
<text x="409.2" y="570.18" font-size="8.2" text-anchor="end" fill="#231f20" stroke="#231f20" stroke-width="0.22" textLength="8.6" lengthAdjust="spacingAndGlyphs">40</text>
<line x1="411.3" y1="552.62" x2="414.5" y2="552.62" stroke="#231f20" stroke-width="1.1"/>
<text x="409.2" y="555.42" font-size="8.2" text-anchor="end" fill="#231f20" stroke="#231f20" stroke-width="0.22" textLength="8.6" lengthAdjust="spacingAndGlyphs">60</text>
<line x1="411.3" y1="537.86" x2="414.5" y2="537.86" stroke="#231f20" stroke-width="1.1"/>
<text x="409.2" y="540.66" font-size="8.2" text-anchor="end" fill="#231f20" stroke="#231f20" stroke-width="0.22" textLength="8.6" lengthAdjust="spacingAndGlyphs">80</text>
<line x1="411.3" y1="523.1" x2="414.5" y2="523.1" stroke="#231f20" stroke-width="1.1"/>
<text x="409.2" y="525.9" font-size="8.2" text-anchor="end" fill="#231f20" stroke="#231f20" stroke-width="0.22" textLength="12.3" lengthAdjust="spacingAndGlyphs">100</text>
<line x1="414.5" y1="596.9" x2="414.5" y2="599.9" stroke="#231f20" stroke-width="1.1"/>
<text x="414.5" y="609.0" font-size="8.2" text-anchor="middle" fill="#231f20" stroke="#231f20" stroke-width="0.22">3</text>
<line x1="445.97" y1="596.9" x2="445.97" y2="599.9" stroke="#231f20" stroke-width="1.1"/>
<text x="445.97" y="609.0" font-size="8.2" text-anchor="middle" fill="#231f20" stroke="#231f20" stroke-width="0.22">5</text>
<line x1="477.44" y1="596.9" x2="477.44" y2="599.9" stroke="#231f20" stroke-width="1.1"/>
<text x="477.44" y="609.0" font-size="8.2" text-anchor="middle" fill="#231f20" stroke="#231f20" stroke-width="0.22">7</text>
<line x1="508.90999999999997" y1="596.9" x2="508.90999999999997" y2="599.9" stroke="#231f20" stroke-width="1.1"/>
<text x="508.90999999999997" y="609.0" font-size="8.2" text-anchor="middle" fill="#231f20" stroke="#231f20" stroke-width="0.22">9</text>
<text x="463.7" y="619.2" font-size="10" text-anchor="middle" fill="#231f20" stroke="#231f20" stroke-width="0.22" textLength="63.2" lengthAdjust="spacingAndGlyphs">Days after infection</text>
<text x="378.4" y="558" font-size="8.9" text-anchor="middle" fill="#231f20" stroke="#231f20" stroke-width="0.22" textLength="64.5" lengthAdjust="spacingAndGlyphs" transform="rotate(-90 378.4 558)">% of apoptotic cells</text>
<text x="389.9" y="558.2" font-size="8.2" text-anchor="middle" fill="#231f20" stroke="#231f20" stroke-width="0.22" textLength="76.8" lengthAdjust="spacingAndGlyphs" transform="rotate(-90 389.9 558.2)">PI(–)Annexin V(+)/PI(–)</text>
<line x1="477.44" y1="574.588" x2="477.44" y2="583.788" stroke="#c8143c" stroke-width="0.8"/>
<line x1="476.24" y1="574.588" x2="478.64" y2="574.588" stroke="#c8143c" stroke-width="0.8"/>
<line x1="476.24" y1="583.788" x2="478.64" y2="583.788" stroke="#c8143c" stroke-width="0.8"/>
<line x1="508.90999999999997" y1="572.9979999999999" x2="508.90999999999997" y2="577.9979999999999" stroke="#c8143c" stroke-width="0.8"/>
<line x1="507.71" y1="572.9979999999999" x2="510.10999999999996" y2="572.9979999999999" stroke="#c8143c" stroke-width="0.8"/>
<line x1="507.71" y1="577.9979999999999" x2="510.10999999999996" y2="577.9979999999999" stroke="#c8143c" stroke-width="0.8"/>
<polyline points="414.50,594.61 445.97,586.13 477.44,579.19 508.91,575.50" fill="none" stroke="#c8143c" stroke-width="1.2" stroke-linejoin="round"/>
<circle cx="414.50" cy="594.61" r="1.3" fill="#c8143c"/>
<circle cx="445.97" cy="586.13" r="1.3" fill="#c8143c"/>
<circle cx="477.44" cy="579.19" r="1.3" fill="#c8143c"/>
<circle cx="508.91" cy="575.50" r="1.3" fill="#c8143c"/>
<line x1="445.97" y1="573.7739999999999" x2="445.97" y2="580.174" stroke="#1a4a85" stroke-width="0.8"/>
<line x1="444.77000000000004" y1="573.7739999999999" x2="447.17" y2="573.7739999999999" stroke="#1a4a85" stroke-width="0.8"/>
<line x1="444.77000000000004" y1="580.174" x2="447.17" y2="580.174" stroke="#1a4a85" stroke-width="0.8"/>
<line x1="477.44" y1="557.1192" x2="477.44" y2="560.5192000000001" stroke="#1a4a85" stroke-width="0.8"/>
<line x1="476.24" y1="557.1192" x2="478.64" y2="557.1192" stroke="#1a4a85" stroke-width="0.8"/>
<line x1="476.24" y1="560.5192000000001" x2="478.64" y2="560.5192000000001" stroke="#1a4a85" stroke-width="0.8"/>
<line x1="508.90999999999997" y1="544.7872" x2="508.90999999999997" y2="552.1872000000001" stroke="#1a4a85" stroke-width="0.8"/>
<line x1="507.71" y1="544.7872" x2="510.10999999999996" y2="544.7872" stroke="#1a4a85" stroke-width="0.8"/>
<line x1="507.71" y1="552.1872000000001" x2="510.10999999999996" y2="552.1872000000001" stroke="#1a4a85" stroke-width="0.8"/>
<polyline points="414.50,592.84 445.97,576.97 477.44,558.82 508.91,548.49" fill="none" stroke="#1a4a85" stroke-width="1.2" stroke-linejoin="round"/>
<circle cx="414.50" cy="592.84" r="1.3" fill="#1a4a85"/>
<circle cx="445.97" cy="576.97" r="1.3" fill="#1a4a85"/>
<circle cx="477.44" cy="558.82" r="1.3" fill="#1a4a85"/>
<circle cx="508.91" cy="548.49" r="1.3" fill="#1a4a85"/>
<line x1="414.5" y1="588.4366" x2="414.5" y2="591.6366" stroke="#2bb24c" stroke-width="0.8"/>
<line x1="413.3" y1="588.4366" x2="415.7" y2="588.4366" stroke="#2bb24c" stroke-width="0.8"/>
<line x1="413.3" y1="591.6366" x2="415.7" y2="591.6366" stroke="#2bb24c" stroke-width="0.8"/>
<line x1="445.97" y1="572.0596" x2="445.97" y2="583.6596" stroke="#2bb24c" stroke-width="0.8"/>
<line x1="444.77000000000004" y1="572.0596" x2="447.17" y2="572.0596" stroke="#2bb24c" stroke-width="0.8"/>
<line x1="444.77000000000004" y1="583.6596" x2="447.17" y2="583.6596" stroke="#2bb24c" stroke-width="0.8"/>
<line x1="477.44" y1="540.006" x2="477.44" y2="560.8059999999999" stroke="#2bb24c" stroke-width="0.8"/>
<line x1="476.24" y1="540.006" x2="478.64" y2="540.006" stroke="#2bb24c" stroke-width="0.8"/>
<line x1="476.24" y1="560.8059999999999" x2="478.64" y2="560.8059999999999" stroke="#2bb24c" stroke-width="0.8"/>
<line x1="508.90999999999997" y1="534.2927999999999" x2="508.90999999999997" y2="549.6928" stroke="#2bb24c" stroke-width="0.8"/>
<line x1="507.71" y1="534.2927999999999" x2="510.10999999999996" y2="534.2927999999999" stroke="#2bb24c" stroke-width="0.8"/>
<line x1="507.71" y1="549.6928" x2="510.10999999999996" y2="549.6928" stroke="#2bb24c" stroke-width="0.8"/>
<polyline points="414.50,590.04 445.97,577.86 477.44,550.41 508.91,541.99" fill="none" stroke="#2bb24c" stroke-width="1.2" stroke-linejoin="round"/>
<circle cx="414.50" cy="590.04" r="1.3" fill="#2bb24c"/>
<circle cx="445.97" cy="577.86" r="1.3" fill="#2bb24c"/>
<circle cx="477.44" cy="550.41" r="1.3" fill="#2bb24c"/>
<circle cx="508.91" cy="541.99" r="1.3" fill="#2bb24c"/>
<line x1="421.9" y1="525.1" x2="431.2" y2="525.1" stroke="#c8143c" stroke-width="1.3"/>
<circle cx="426.50" cy="525.10" r="1.5" fill="#c8143c"/>
<text x="448.7" y="527.3" font-size="7.8" text-anchor="middle" fill="#231f20" stroke="#231f20" stroke-width="0.22" textLength="30.2" lengthAdjust="spacingAndGlyphs">sgAAVS1</text>
<line x1="421.9" y1="536" x2="431.2" y2="536" stroke="#1a4a85" stroke-width="1.3"/>
<circle cx="426.50" cy="536.00" r="1.5" fill="#1a4a85"/>
<text x="447.5" y="538.1" font-size="7.8" text-anchor="middle" fill="#231f20" stroke="#231f20" stroke-width="0.22" textLength="27.8" lengthAdjust="spacingAndGlyphs">sgCDK6</text>
<line x1="421.9" y1="545.8" x2="431.2" y2="545.8" stroke="#2bb24c" stroke-width="1.3"/>
<circle cx="426.50" cy="545.80" r="1.5" fill="#2bb24c"/>
<text x="450.45" y="548.4" font-size="7.8" text-anchor="middle" fill="#231f20" stroke="#231f20" stroke-width="0.22" textLength="33.7" lengthAdjust="spacingAndGlyphs">sgCCND2</text>
<rect x="0.5" y="0.5" width="519" height="634" fill="none" stroke="#000" stroke-width="1.2"/>
</svg></body></html>
